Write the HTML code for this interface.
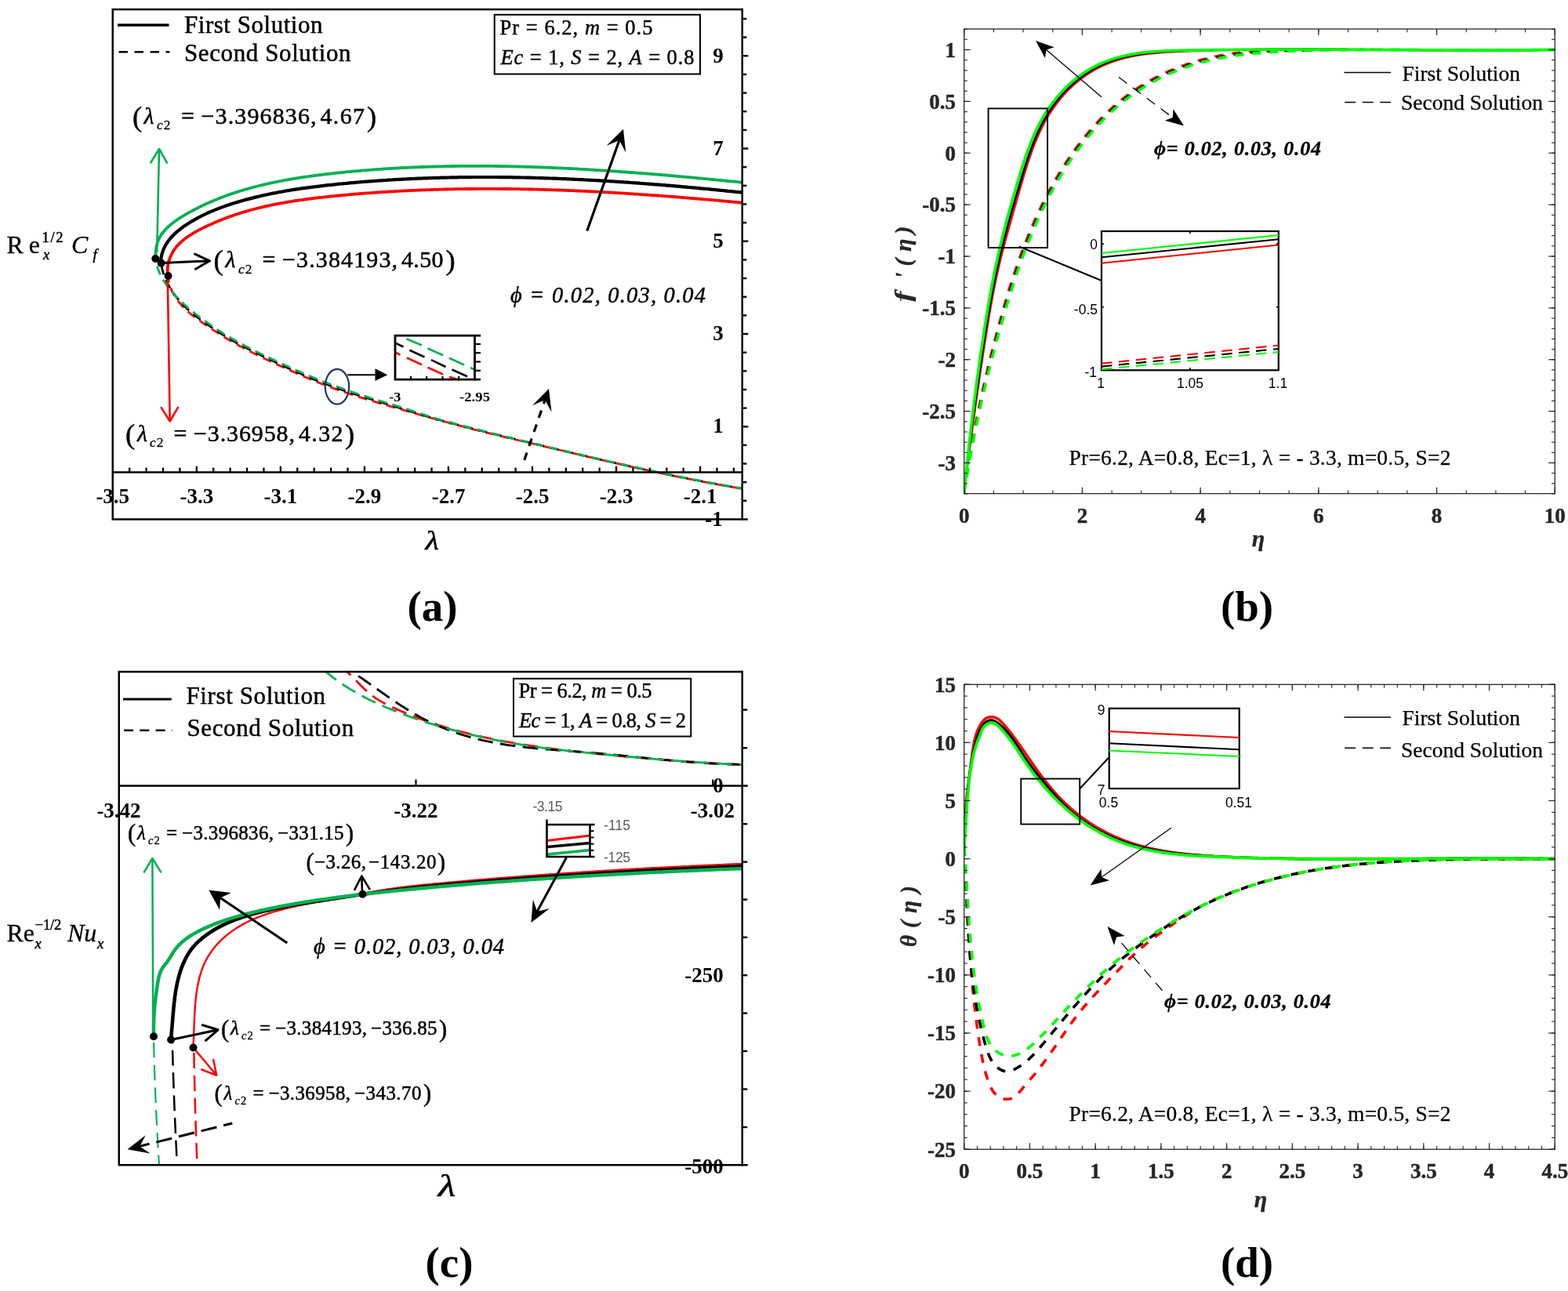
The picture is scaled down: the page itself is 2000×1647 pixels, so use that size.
<!DOCTYPE html>
<html lang="en">
<head>
<meta charset="utf-8">
<title>Dual solutions figure</title>
<style>
html,body{margin:0;padding:0;background:#fff;}
body{width:2000px;height:1647px;overflow:hidden;}
svg{display:block;}
text{white-space:pre;}
</style>
</head>
<body>
<svg width="2000" height="1647" viewBox="0 0 2000 1647">
<rect x="0" y="0" width="2000" height="1647" fill="#ffffff"/>
<!-- panel a -->
<path d="M214.4,352.1 L214.1,350.1 L213.8,348.1 L213.7,346.1 L213.7,344.1 L213.8,342.0 L214.0,340.0 L214.3,338.0 L214.7,336.0 L215.1,334.1 L215.7,332.1 L216.3,330.2 L217.1,328.3 L217.9,326.4 L218.7,324.6 L219.7,322.8 L220.7,321.0 L221.8,319.3 L222.9,317.7 L224.1,316.1 L225.4,314.5 L226.7,313.0 L228.0,311.6 L229.4,310.2 L230.9,308.8 L232.3,307.5 L233.9,306.2 L235.4,305.0 L237.0,303.8 L238.6,302.6 L240.3,301.5 L242.0,300.3 L243.7,299.3 L245.4,298.2 L247.1,297.2 L248.9,296.2 L250.7,295.2 L252.5,294.2 L254.2,293.3 L256.0,292.4 L257.8,291.4 L259.7,290.5 L261.5,289.6 L263.3,288.8 L265.1,287.9 L266.9,287.0 L268.8,286.2 L270.6,285.4 L272.4,284.6 L274.3,283.8 L276.1,283.0 L278.0,282.2 L279.8,281.4 L281.7,280.7 L283.5,279.9 L285.4,279.2 L287.3,278.5 L289.1,277.8 L291.0,277.1 L292.9,276.4 L294.8,275.8 L296.6,275.1 L298.5,274.5 L300.4,273.8 L302.3,273.2 L304.2,272.6 L306.1,272.0 L308.0,271.4 L309.9,270.8 L311.9,270.2 L313.8,269.7 L315.7,269.1 L317.6,268.6 L319.5,268.0 L321.5,267.5 L323.4,267.0 L325.3,266.5 L327.3,266.0 L329.2,265.5 L331.1,265.0 L333.1,264.6 L335.0,264.1 L337.0,263.7 L338.9,263.2 L340.9,262.8 L342.8,262.4 L344.8,261.9 L346.7,261.5 L348.7,261.1 L350.7,260.7 L352.6,260.3 L354.6,260.0 L356.6,259.6 L358.5,259.2 L360.5,258.9 L362.5,258.5 L364.5,258.2 L366.4,257.8 L368.4,257.5 L370.4,257.2 L372.4,256.9 L374.4,256.5 L376.3,256.2 L378.3,255.9 L380.3,255.6 L382.3,255.3 L384.3,255.1 L386.3,254.8 L388.3,254.5 L390.3,254.2 L392.3,254.0 L394.3,253.7 L396.3,253.5 L398.3,253.2 L400.3,253.0 L402.3,252.7 L404.3,252.5 L406.3,252.2 L408.3,252.0 L410.3,251.8 L412.3,251.6 L414.3,251.3 L416.3,251.1 L418.3,250.9 L420.3,250.7 L422.3,250.5 L424.3,250.3 L426.3,250.1 L428.3,249.9 L430.3,249.7 L432.3,249.5 L434.3,249.3 L436.3,249.1 L438.3,248.9 L440.3,248.8 L442.3,248.6 L444.3,248.4 L446.3,248.2 L448.3,248.0 L450.3,247.9 L452.3,247.7 L454.4,247.5 L456.4,247.4 L458.4,247.2 L460.4,247.0 L462.4,246.9 L464.4,246.7 L466.4,246.6 L468.4,246.4 L470.4,246.3 L472.4,246.1 L474.4,246.0 L476.4,245.8 L478.4,245.7 L480.4,245.5 L482.4,245.4 L484.4,245.3 L486.4,245.1 L488.4,245.0 L490.4,244.9 L492.4,244.8 L494.4,244.6 L496.4,244.5 L498.4,244.4 L500.5,244.3 L502.5,244.2 L504.5,244.0 L506.5,243.9 L508.5,243.8 L510.5,243.7 L512.5,243.6 L514.5,243.5 L516.5,243.4 L518.5,243.3 L520.5,243.2 L522.5,243.1 L524.5,243.0 L526.5,242.9 L528.5,242.8 L530.5,242.8 L532.5,242.7 L534.5,242.6 L536.5,242.5 L538.5,242.4 L540.5,242.4 L542.5,242.3 L544.5,242.2 L546.5,242.1 L548.6,242.1 L550.6,242.0 L552.6,241.9 L554.6,241.9 L556.6,241.8 L558.6,241.8 L560.6,241.7 L562.6,241.7 L564.6,241.6 L566.6,241.5 L568.6,241.5 L570.6,241.5 L572.6,241.4 L574.6,241.4 L576.6,241.3 L578.6,241.3 L580.6,241.2 L582.6,241.2 L584.6,241.2 L586.6,241.1 L588.6,241.1 L590.6,241.1 L592.6,241.1 L594.6,241.0 L596.6,241.0 L598.7,241.0 L600.7,241.0 L602.7,241.0 L604.7,240.9 L606.7,240.9 L608.7,240.9 L610.7,240.9 L612.7,240.9 L614.7,240.9 L616.7,240.9 L618.7,240.9 L620.7,240.9 L622.7,240.9 L624.7,240.9 L626.7,240.9 L628.7,240.9 L630.7,240.9 L632.7,240.9 L634.7,240.9 L636.7,240.9 L638.7,240.9 L640.7,240.9 L642.7,241.0 L644.7,241.0 L646.7,241.0 L648.7,241.0 L650.7,241.0 L652.7,241.1 L654.8,241.1 L656.8,241.1 L658.8,241.2 L660.8,241.2 L662.8,241.2 L664.8,241.3 L666.8,241.3 L668.8,241.3 L670.8,241.4 L672.8,241.4 L674.8,241.5 L676.8,241.5 L678.8,241.5 L680.8,241.6 L682.8,241.6 L684.8,241.7 L686.8,241.7 L688.8,241.8 L690.8,241.8 L692.8,241.9 L694.8,242.0 L696.8,242.0 L698.8,242.1 L700.8,242.1 L702.8,242.2 L704.8,242.3 L706.8,242.3 L708.8,242.4 L710.8,242.5 L712.8,242.5 L714.8,242.6 L716.9,242.7 L718.9,242.8 L720.9,242.8 L722.9,242.9 L724.9,243.0 L726.9,243.1 L728.9,243.2 L730.9,243.2 L732.9,243.3 L734.9,243.4 L736.9,243.5 L738.9,243.6 L740.9,243.7 L742.9,243.8 L744.9,243.9 L746.9,243.9 L748.9,244.0 L750.9,244.1 L752.9,244.2 L754.9,244.3 L756.9,244.4 L758.9,244.5 L760.9,244.6 L762.9,244.7 L764.9,244.8 L766.9,244.9 L768.9,245.1 L770.9,245.2 L772.9,245.3 L774.9,245.4 L776.9,245.5 L778.9,245.6 L780.9,245.7 L782.9,245.8 L784.9,246.0 L786.9,246.1 L788.9,246.2 L790.9,246.3 L792.9,246.4 L795.0,246.6 L797.0,246.7 L799.0,246.8 L801.0,246.9 L803.0,247.1 L805.0,247.2 L807.0,247.3 L809.0,247.5 L811.0,247.6 L813.0,247.7 L815.0,247.8 L817.0,248.0 L819.0,248.1 L821.0,248.3 L823.0,248.4 L825.0,248.5 L827.0,248.7 L829.0,248.8 L831.0,249.0 L833.0,249.1 L835.0,249.2 L837.0,249.4 L839.0,249.5 L841.0,249.7 L843.0,249.8 L845.0,250.0 L847.0,250.1 L849.0,250.3 L851.0,250.4 L853.0,250.6 L855.0,250.7 L857.0,250.9 L859.0,251.0 L861.0,251.2 L863.0,251.4 L865.0,251.5 L867.0,251.7 L869.0,251.8 L871.0,252.0 L873.0,252.2 L875.0,252.3 L877.0,252.5 L879.0,252.7 L881.0,252.8 L883.0,253.0 L885.0,253.1 L887.0,253.3 L889.0,253.5 L891.0,253.7 L893.0,253.8 L895.0,254.0 L897.0,254.2 L899.0,254.3 L901.0,254.5 L903.0,254.7 L905.0,254.9 L907.0,255.0 L909.0,255.2 L911.0,255.4 L913.0,255.6 L915.0,255.7 L917.0,255.9 L919.0,256.1 L921.0,256.3 L923.0,256.5 L925.0,256.7 L927.0,256.8 L929.0,257.0 L931.0,257.2 L933.0,257.4 L935.0,257.6 L937.0,257.8 L939.0,257.9 L941.0,258.1 L943.0,258.3 L945.0,258.5 L947.0,258.7" fill="none" stroke="#ff0000" stroke-width="3.8" stroke-linejoin="round"/>
<path d="M205.0,335.6 L205.1,333.4 L205.3,331.3 L205.5,329.2 L205.9,327.2 L206.3,325.2 L206.8,323.2 L207.4,321.3 L208.1,319.5 L208.8,317.6 L209.6,315.9 L210.5,314.1 L211.4,312.4 L212.4,310.8 L213.5,309.1 L214.6,307.5 L215.8,306.0 L217.0,304.5 L218.3,303.0 L219.6,301.5 L221.0,300.1 L222.4,298.7 L223.8,297.4 L225.3,296.0 L226.8,294.7 L228.4,293.5 L229.9,292.2 L231.6,291.0 L233.2,289.8 L234.8,288.6 L236.5,287.5 L238.2,286.4 L239.9,285.3 L241.6,284.2 L243.3,283.1 L245.0,282.1 L246.8,281.1 L248.5,280.1 L250.3,279.1 L252.1,278.1 L253.9,277.2 L255.6,276.2 L257.4,275.3 L259.2,274.4 L261.1,273.6 L262.9,272.7 L264.7,271.8 L266.6,271.0 L268.4,270.2 L270.3,269.4 L272.1,268.6 L274.0,267.9 L275.8,267.1 L277.7,266.4 L279.6,265.7 L281.5,264.9 L283.4,264.3 L285.3,263.6 L287.2,262.9 L289.1,262.2 L291.0,261.6 L292.9,261.0 L294.8,260.3 L296.8,259.7 L298.7,259.1 L300.6,258.5 L302.5,257.9 L304.5,257.4 L306.4,256.8 L308.3,256.2 L310.3,255.7 L312.2,255.1 L314.1,254.6 L316.1,254.1 L318.0,253.6 L320.0,253.1 L321.9,252.6 L323.9,252.1 L325.8,251.6 L327.8,251.1 L329.7,250.7 L331.7,250.2 L333.6,249.8 L335.6,249.3 L337.5,248.9 L339.5,248.5 L341.5,248.0 L343.4,247.6 L345.4,247.2 L347.4,246.8 L349.3,246.4 L351.3,246.1 L353.3,245.7 L355.2,245.3 L357.2,244.9 L359.2,244.6 L361.1,244.2 L363.1,243.9 L365.1,243.5 L367.1,243.2 L369.0,242.9 L371.0,242.5 L373.0,242.2 L375.0,241.9 L376.9,241.6 L378.9,241.3 L380.9,241.0 L382.9,240.7 L384.9,240.4 L386.9,240.1 L388.8,239.9 L390.8,239.6 L392.8,239.3 L394.8,239.1 L396.8,238.8 L398.8,238.5 L400.8,238.3 L402.8,238.1 L404.7,237.8 L406.7,237.6 L408.7,237.3 L410.7,237.1 L412.7,236.9 L414.7,236.6 L416.7,236.4 L418.7,236.2 L420.7,236.0 L422.7,235.8 L424.7,235.6 L426.7,235.4 L428.7,235.1 L430.7,234.9 L432.6,234.7 L434.6,234.5 L436.6,234.4 L438.6,234.2 L440.6,234.0 L442.6,233.8 L444.6,233.6 L446.6,233.4 L448.6,233.2 L450.6,233.1 L452.6,232.9 L454.6,232.7 L456.6,232.5 L458.6,232.4 L460.6,232.2 L462.6,232.0 L464.6,231.9 L466.6,231.7 L468.6,231.6 L470.6,231.4 L472.6,231.3 L474.6,231.1 L476.6,231.0 L478.6,230.8 L480.6,230.7 L482.6,230.5 L484.6,230.4 L486.6,230.3 L488.6,230.1 L490.6,230.0 L492.6,229.9 L494.6,229.7 L496.6,229.6 L498.6,229.5 L500.6,229.4 L502.6,229.2 L504.6,229.1 L506.6,229.0 L508.6,228.9 L510.6,228.8 L512.6,228.7 L514.6,228.6 L516.6,228.5 L518.6,228.4 L520.6,228.3 L522.6,228.2 L524.6,228.1 L526.6,228.0 L528.6,227.9 L530.6,227.8 L532.6,227.7 L534.6,227.7 L536.6,227.6 L538.6,227.5 L540.6,227.4 L542.6,227.3 L544.6,227.3 L546.6,227.2 L548.6,227.1 L550.6,227.1 L552.6,227.0 L554.6,226.9 L556.6,226.9 L558.6,226.8 L560.6,226.8 L562.6,226.7 L564.6,226.7 L566.7,226.6 L568.7,226.6 L570.7,226.5 L572.7,226.5 L574.7,226.4 L576.7,226.4 L578.7,226.3 L580.7,226.3 L582.7,226.3 L584.7,226.2 L586.7,226.2 L588.7,226.2 L590.7,226.2 L592.7,226.1 L594.7,226.1 L596.7,226.1 L598.7,226.1 L600.7,226.1 L602.7,226.0 L604.7,226.0 L606.7,226.0 L608.8,226.0 L610.8,226.0 L612.8,226.0 L614.8,226.0 L616.8,226.0 L618.8,226.0 L620.8,226.0 L622.8,226.0 L624.8,226.0 L626.8,226.0 L628.8,226.0 L630.8,226.0 L632.8,226.0 L634.8,226.0 L636.8,226.1 L638.8,226.1 L640.8,226.1 L642.8,226.1 L644.9,226.1 L646.9,226.2 L648.9,226.2 L650.9,226.2 L652.9,226.2 L654.9,226.3 L656.9,226.3 L658.9,226.3 L660.9,226.4 L662.9,226.4 L664.9,226.5 L666.9,226.5 L668.9,226.5 L670.9,226.6 L672.9,226.6 L674.9,226.7 L676.9,226.7 L679.0,226.8 L681.0,226.8 L683.0,226.9 L685.0,227.0 L687.0,227.0 L689.0,227.1 L691.0,227.1 L693.0,227.2 L695.0,227.3 L697.0,227.3 L699.0,227.4 L701.0,227.5 L703.0,227.5 L705.0,227.6 L707.0,227.7 L709.0,227.7 L711.0,227.8 L713.1,227.9 L715.1,228.0 L717.1,228.1 L719.1,228.1 L721.1,228.2 L723.1,228.3 L725.1,228.4 L727.1,228.5 L729.1,228.6 L731.1,228.7 L733.1,228.8 L735.1,228.9 L737.1,229.0 L739.1,229.1 L741.1,229.1 L743.1,229.2 L745.1,229.4 L747.1,229.5 L749.1,229.6 L751.1,229.7 L753.1,229.8 L755.2,229.9 L757.2,230.0 L759.2,230.1 L761.2,230.2 L763.2,230.3 L765.2,230.4 L767.2,230.6 L769.2,230.7 L771.2,230.8 L773.2,230.9 L775.2,231.0 L777.2,231.2 L779.2,231.3 L781.2,231.4 L783.2,231.5 L785.2,231.7 L787.2,231.8 L789.2,231.9 L791.2,232.1 L793.2,232.2 L795.2,232.3 L797.2,232.5 L799.2,232.6 L801.2,232.7 L803.2,232.9 L805.2,233.0 L807.2,233.2 L809.2,233.3 L811.2,233.4 L813.2,233.6 L815.2,233.7 L817.2,233.9 L819.2,234.0 L821.2,234.2 L823.2,234.3 L825.2,234.5 L827.2,234.6 L829.2,234.8 L831.2,234.9 L833.2,235.1 L835.2,235.3 L837.2,235.4 L839.2,235.6 L841.2,235.7 L843.2,235.9 L845.2,236.1 L847.2,236.2 L849.2,236.4 L851.2,236.6 L853.2,236.7 L855.2,236.9 L857.2,237.1 L859.2,237.2 L861.2,237.4 L863.2,237.6 L865.2,237.7 L867.2,237.9 L869.2,238.1 L871.2,238.3 L873.2,238.4 L875.2,238.6 L877.2,238.8 L879.2,239.0 L881.2,239.2 L883.2,239.3 L885.2,239.5 L887.2,239.7 L889.2,239.9 L891.2,240.1 L893.2,240.3 L895.2,240.5 L897.1,240.6 L899.1,240.8 L901.1,241.0 L903.1,241.2 L905.1,241.4 L907.1,241.6 L909.1,241.8 L911.1,242.0 L913.1,242.2 L915.1,242.4 L917.1,242.6 L919.1,242.8 L921.1,243.0 L923.1,243.2 L925.0,243.4 L927.0,243.6 L929.0,243.8 L931.0,244.0 L933.0,244.2 L935.0,244.4 L937.0,244.6 L939.0,244.8 L941.0,245.0 L943.0,245.2 L944.9,245.4 L946.9,245.6" fill="none" stroke="#000" stroke-width="4.2" stroke-linejoin="round"/>
<path d="M198.7,329.5 L198.6,327.5 L198.5,325.5 L198.5,323.4 L198.6,321.4 L198.8,319.4 L199.0,317.4 L199.4,315.4 L199.8,313.4 L200.3,311.5 L200.8,309.6 L201.5,307.7 L202.2,305.8 L203.1,304.0 L204.0,302.3 L205.0,300.6 L206.1,298.9 L207.2,297.3 L208.5,295.7 L209.8,294.2 L211.1,292.7 L212.6,291.3 L214.0,289.8 L215.5,288.5 L217.1,287.1 L218.6,285.9 L220.2,284.6 L221.8,283.3 L223.5,282.1 L225.1,281.0 L226.8,279.8 L228.5,278.7 L230.2,277.6 L231.9,276.5 L233.6,275.4 L235.4,274.4 L237.1,273.3 L238.9,272.3 L240.6,271.3 L242.4,270.4 L244.2,269.4 L246.0,268.5 L247.8,267.5 L249.6,266.6 L251.4,265.7 L253.2,264.8 L255.0,263.9 L256.8,263.0 L258.6,262.1 L260.4,261.3 L262.2,260.4 L264.1,259.6 L265.9,258.8 L267.7,258.0 L269.6,257.2 L271.4,256.4 L273.3,255.6 L275.1,254.9 L277.0,254.1 L278.8,253.4 L280.7,252.6 L282.6,251.9 L284.4,251.2 L286.3,250.5 L288.2,249.8 L290.1,249.1 L291.9,248.5 L293.8,247.8 L295.7,247.1 L297.6,246.5 L299.5,245.9 L301.4,245.3 L303.3,244.6 L305.2,244.0 L307.1,243.5 L309.1,242.9 L311.0,242.3 L312.9,241.7 L314.8,241.2 L316.7,240.6 L318.7,240.1 L320.6,239.6 L322.5,239.0 L324.5,238.5 L326.4,238.0 L328.3,237.5 L330.3,237.0 L332.2,236.6 L334.2,236.1 L336.1,235.6 L338.1,235.2 L340.0,234.7 L342.0,234.3 L343.9,233.8 L345.9,233.4 L347.9,233.0 L349.8,232.6 L351.8,232.2 L353.8,231.8 L355.7,231.4 L357.7,231.0 L359.7,230.6 L361.7,230.2 L363.6,229.9 L365.6,229.5 L367.6,229.2 L369.6,228.8 L371.6,228.5 L373.5,228.1 L375.5,227.8 L377.5,227.5 L379.5,227.2 L381.5,226.9 L383.5,226.5 L385.5,226.2 L387.5,225.9 L389.5,225.6 L391.5,225.4 L393.5,225.1 L395.5,224.8 L397.5,224.5 L399.5,224.3 L401.5,224.0 L403.5,223.7 L405.5,223.5 L407.5,223.2 L409.5,223.0 L411.5,222.7 L413.5,222.5 L415.5,222.2 L417.5,222.0 L419.5,221.8 L421.5,221.6 L423.5,221.3 L425.5,221.1 L427.5,220.9 L429.5,220.7 L431.5,220.5 L433.5,220.3 L435.5,220.0 L437.5,219.8 L439.5,219.6 L441.5,219.4 L443.6,219.2 L445.6,219.1 L447.6,218.9 L449.6,218.7 L451.6,218.5 L453.6,218.3 L455.6,218.1 L457.6,218.0 L459.6,217.8 L461.6,217.6 L463.6,217.4 L465.6,217.3 L467.6,217.1 L469.6,217.0 L471.6,216.8 L473.7,216.7 L475.7,216.5 L477.7,216.3 L479.7,216.2 L481.7,216.1 L483.7,215.9 L485.7,215.8 L487.7,215.6 L489.7,215.5 L491.7,215.4 L493.7,215.2 L495.7,215.1 L497.7,215.0 L499.7,214.9 L501.7,214.8 L503.8,214.6 L505.8,214.5 L507.8,214.4 L509.8,214.3 L511.8,214.2 L513.8,214.1 L515.8,214.0 L517.8,213.9 L519.8,213.8 L521.8,213.7 L523.8,213.6 L525.8,213.5 L527.8,213.4 L529.9,213.4 L531.9,213.3 L533.9,213.2 L535.9,213.1 L537.9,213.0 L539.9,213.0 L541.9,212.9 L543.9,212.8 L545.9,212.8 L547.9,212.7 L549.9,212.6 L551.9,212.6 L553.9,212.5 L556.0,212.5 L558.0,212.4 L560.0,212.4 L562.0,212.3 L564.0,212.3 L566.0,212.2 L568.0,212.2 L570.0,212.1 L572.0,212.1 L574.0,212.1 L576.0,212.0 L578.0,212.0 L580.0,212.0 L582.1,212.0 L584.1,211.9 L586.1,211.9 L588.1,211.9 L590.1,211.9 L592.1,211.9 L594.1,211.8 L596.1,211.8 L598.1,211.8 L600.1,211.8 L602.1,211.8 L604.1,211.8 L606.1,211.8 L608.2,211.8 L610.2,211.8 L612.2,211.8 L614.2,211.8 L616.2,211.8 L618.2,211.8 L620.2,211.8 L622.2,211.9 L624.2,211.9 L626.2,211.9 L628.2,211.9 L630.2,211.9 L632.2,212.0 L634.3,212.0 L636.3,212.0 L638.3,212.0 L640.3,212.1 L642.3,212.1 L644.3,212.1 L646.3,212.2 L648.3,212.2 L650.3,212.3 L652.3,212.3 L654.3,212.3 L656.3,212.4 L658.3,212.4 L660.4,212.5 L662.4,212.5 L664.4,212.6 L666.4,212.6 L668.4,212.7 L670.4,212.8 L672.4,212.8 L674.4,212.9 L676.4,212.9 L678.4,213.0 L680.4,213.1 L682.4,213.1 L684.4,213.2 L686.5,213.3 L688.5,213.3 L690.5,213.4 L692.5,213.5 L694.5,213.6 L696.5,213.7 L698.5,213.7 L700.5,213.8 L702.5,213.9 L704.5,214.0 L706.5,214.1 L708.5,214.2 L710.5,214.3 L712.5,214.3 L714.6,214.4 L716.6,214.5 L718.6,214.6 L720.6,214.7 L722.6,214.8 L724.6,214.9 L726.6,215.0 L728.6,215.1 L730.6,215.2 L732.6,215.3 L734.6,215.4 L736.6,215.5 L738.6,215.7 L740.6,215.8 L742.6,215.9 L744.7,216.0 L746.7,216.1 L748.7,216.2 L750.7,216.3 L752.7,216.5 L754.7,216.6 L756.7,216.7 L758.7,216.8 L760.7,217.0 L762.7,217.1 L764.7,217.2 L766.7,217.3 L768.7,217.5 L770.7,217.6 L772.7,217.7 L774.7,217.9 L776.8,218.0 L778.8,218.1 L780.8,218.3 L782.8,218.4 L784.8,218.5 L786.8,218.7 L788.8,218.8 L790.8,219.0 L792.8,219.1 L794.8,219.3 L796.8,219.4 L798.8,219.5 L800.8,219.7 L802.8,219.8 L804.8,220.0 L806.8,220.1 L808.8,220.3 L810.8,220.4 L812.9,220.6 L814.9,220.8 L816.9,220.9 L818.9,221.1 L820.9,221.2 L822.9,221.4 L824.9,221.5 L826.9,221.7 L828.9,221.9 L830.9,222.0 L832.9,222.2 L834.9,222.4 L836.9,222.5 L838.9,222.7 L840.9,222.9 L842.9,223.0 L844.9,223.2 L846.9,223.4 L848.9,223.5 L850.9,223.7 L852.9,223.9 L854.9,224.1 L856.9,224.2 L858.9,224.4 L861.0,224.6 L863.0,224.8 L865.0,224.9 L867.0,225.1 L869.0,225.3 L871.0,225.5 L873.0,225.6 L875.0,225.8 L877.0,226.0 L879.0,226.2 L881.0,226.4 L883.0,226.6 L885.0,226.7 L887.0,226.9 L889.0,227.1 L891.0,227.3 L893.0,227.5 L895.0,227.7 L897.0,227.9 L899.0,228.1 L901.0,228.2 L903.0,228.4 L905.0,228.6 L907.0,228.8 L909.0,229.0 L911.0,229.2 L913.0,229.4 L915.0,229.6 L917.0,229.8 L919.0,230.0 L921.0,230.2 L923.0,230.4 L925.0,230.6 L927.0,230.8 L929.0,231.0 L931.0,231.1 L933.0,231.3 L935.0,231.5 L937.0,231.7 L939.0,231.9 L941.0,232.1 L943.0,232.3 L945.0,232.5 L947.0,232.7" fill="none" stroke="#00b050" stroke-width="3.8" stroke-linejoin="round"/>
<path d="M214.5,352.9 L214.7,355.0 L215.0,357.0 L215.4,359.0 L215.8,361.0 L216.3,363.0 L216.9,364.9 L217.5,366.8 L218.3,368.7 L219.0,370.5 L219.9,372.3 L220.8,374.1 L221.7,375.9 L222.7,377.6 L223.8,379.3 L224.8,380.9 L226.0,382.6 L227.2,384.2 L228.4,385.7 L229.7,387.2 L231.0,388.7 L232.3,390.2 L233.7,391.7 L235.1,393.1 L236.5,394.5 L238.0,395.8 L239.5,397.2 L241.0,398.5 L242.5,399.8 L244.1,401.1 L245.7,402.3 L247.2,403.6 L248.9,404.8 L250.5,406.0 L252.1,407.2 L253.8,408.4 L255.4,409.6 L257.1,410.8 L258.7,411.9 L260.4,413.1 L262.1,414.2 L263.8,415.4 L265.4,416.5 L267.1,417.6 L268.8,418.8 L270.4,419.9 L272.1,421.0 L273.8,422.1 L275.5,423.2 L277.1,424.3 L278.8,425.4 L280.5,426.5 L282.2,427.5 L283.9,428.6 L285.6,429.7 L287.3,430.7 L289.0,431.7 L290.7,432.8 L292.4,433.8 L294.1,434.8 L295.9,435.8 L297.6,436.8 L299.3,437.8 L301.1,438.8 L302.8,439.7 L304.6,440.7 L306.3,441.7 L308.1,442.6 L309.9,443.6 L311.6,444.5 L313.4,445.4 L315.2,446.4 L317.0,447.3 L318.7,448.2 L320.5,449.1 L322.3,450.0 L324.1,450.9 L325.9,451.8 L327.7,452.7 L329.5,453.6 L331.3,454.5 L333.1,455.3 L334.9,456.2 L336.7,457.1 L338.5,458.0 L340.3,458.8 L342.2,459.7 L344.0,460.5 L345.8,461.4 L347.6,462.2 L349.4,463.1 L351.3,463.9 L353.1,464.8 L354.9,465.6 L356.7,466.4 L358.6,467.3 L360.4,468.1 L362.2,469.0 L364.1,469.8 L365.9,470.6 L367.7,471.4 L369.6,472.3 L371.4,473.1 L373.2,473.9 L375.1,474.7 L376.9,475.5 L378.7,476.4 L380.6,477.2 L382.4,478.0 L384.2,478.8 L386.1,479.6 L387.9,480.4 L389.8,481.2 L391.6,481.9 L393.5,482.7 L395.3,483.5 L397.2,484.3 L399.0,485.0 L400.9,485.8 L402.7,486.6 L404.6,487.3 L406.4,488.1 L408.3,488.8 L410.2,489.6 L412.0,490.3 L413.9,491.0 L415.8,491.7 L417.6,492.5 L419.5,493.2 L421.4,493.9 L423.3,494.6 L425.2,495.3 L427.0,495.9 L428.9,496.6 L430.8,497.3 L432.7,498.0 L434.6,498.6 L436.5,499.3 L438.4,499.9 L440.3,500.6 L442.2,501.2 L444.1,501.8 L446.0,502.5 L447.9,503.1 L449.8,503.7 L451.7,504.4 L453.6,505.0 L455.5,505.6 L457.4,506.2 L459.4,506.8 L461.3,507.4 L463.2,508.0 L465.1,508.6 L467.0,509.2 L468.9,509.8 L470.9,510.3 L472.8,510.9 L474.7,511.5 L476.6,512.1 L478.6,512.6 L480.5,513.2 L482.4,513.8 L484.3,514.4 L486.3,514.9 L488.2,515.5 L490.1,516.0 L492.0,516.6 L494.0,517.2 L495.9,517.7 L497.8,518.3 L499.8,518.8 L501.7,519.4 L503.6,519.9 L505.5,520.5 L507.5,521.1 L509.4,521.6 L511.3,522.2 L513.3,522.7 L515.2,523.3 L517.1,523.8 L519.0,524.4 L521.0,524.9 L522.9,525.5 L524.8,526.0 L526.8,526.6 L528.7,527.1 L530.6,527.7 L532.5,528.2 L534.5,528.8 L536.4,529.3 L538.3,529.9 L540.3,530.4 L542.2,531.0 L544.1,531.5 L546.1,532.1 L548.0,532.6 L549.9,533.2 L551.8,533.7 L553.8,534.2 L555.7,534.8 L557.6,535.3 L559.6,535.9 L561.5,536.4 L563.4,536.9 L565.4,537.5 L567.3,538.0 L569.2,538.5 L571.2,539.0 L573.1,539.6 L575.0,540.1 L577.0,540.6 L578.9,541.1 L580.8,541.7 L582.8,542.2 L584.7,542.7 L586.7,543.2 L588.6,543.7 L590.5,544.2 L592.5,544.8 L594.4,545.3 L596.3,545.8 L598.3,546.3 L600.2,546.8 L602.2,547.3 L604.1,547.8 L606.1,548.3 L608.0,548.7 L610.0,549.2 L611.9,549.7 L613.8,550.2 L615.8,550.7 L617.7,551.2 L619.7,551.7 L621.6,552.1 L623.6,552.6 L625.5,553.1 L627.5,553.6 L629.4,554.0 L631.4,554.5 L633.3,555.0 L635.3,555.5 L637.2,555.9 L639.2,556.4 L641.1,556.9 L643.1,557.3 L645.0,557.8 L647.0,558.3 L648.9,558.7 L650.9,559.2 L652.8,559.7 L654.8,560.1 L656.8,560.6 L658.7,561.0 L660.7,561.5 L662.6,562.0 L664.6,562.4 L666.5,562.9 L668.5,563.3 L670.4,563.8 L672.4,564.3 L674.3,564.7 L676.3,565.2 L678.2,565.7 L680.2,566.1 L682.2,566.6 L684.1,567.0 L686.1,567.5 L688.0,568.0 L690.0,568.4 L691.9,568.9 L693.9,569.4 L695.8,569.8 L697.8,570.3 L699.7,570.7 L701.7,571.2 L703.6,571.7 L705.6,572.1 L707.5,572.6 L709.5,573.1 L711.4,573.5 L713.4,574.0 L715.3,574.5 L717.3,574.9 L719.3,575.4 L721.2,575.8 L723.2,576.3 L725.1,576.8 L727.1,577.2 L729.0,577.7 L731.0,578.2 L732.9,578.6 L734.9,579.1 L736.8,579.5 L738.8,580.0 L740.7,580.5 L742.7,580.9 L744.6,581.4 L746.6,581.8 L748.6,582.3 L750.5,582.8 L752.5,583.2 L754.4,583.7 L756.4,584.1 L758.3,584.6 L760.3,585.1 L762.2,585.5 L764.2,586.0 L766.1,586.4 L768.1,586.9 L770.0,587.3 L772.0,587.8 L774.0,588.2 L775.9,588.7 L777.9,589.1 L779.8,589.6 L781.8,590.0 L783.7,590.5 L785.7,590.9 L787.6,591.4 L789.6,591.8 L791.6,592.3 L793.5,592.7 L795.5,593.2 L797.4,593.6 L799.4,594.1 L801.3,594.5 L803.3,594.9 L805.2,595.4 L807.2,595.8 L809.2,596.3 L811.1,596.7 L813.1,597.1 L815.0,597.6 L817.0,598.0 L819.0,598.4 L820.9,598.9 L822.9,599.3 L824.8,599.7 L826.8,600.1 L828.8,600.6 L830.7,601.0 L832.7,601.4 L834.6,601.9 L836.6,602.3 L838.6,602.7 L840.5,603.1 L842.5,603.5 L844.4,604.0 L846.4,604.4 L848.4,604.8 L850.3,605.2 L852.3,605.6 L854.3,606.0 L856.2,606.4 L858.2,606.8 L860.1,607.3 L862.1,607.7 L864.1,608.1 L866.0,608.5 L868.0,608.9 L870.0,609.3 L871.9,609.7 L873.9,610.1 L875.9,610.5 L877.8,610.8 L879.8,611.2 L881.8,611.6 L883.7,612.0 L885.7,612.4 L887.7,612.8 L889.6,613.2 L891.6,613.6 L893.6,613.9 L895.6,614.3 L897.5,614.7 L899.5,615.1 L901.5,615.4 L903.4,615.8 L905.4,616.2 L907.4,616.5 L909.4,616.9 L911.3,617.3 L913.3,617.6 L915.3,618.0 L917.3,618.4 L919.2,618.7 L921.2,619.1 L923.2,619.4 L925.2,619.8 L927.1,620.1 L929.1,620.5 L931.1,620.8 L933.1,621.1 L935.1,621.5 L937.0,621.8 L939.0,622.2 L941.0,622.5 L943.0,622.8 L945.0,623.2 L946.9,623.5" fill="none" stroke="#ff0000" stroke-width="2.8" stroke-linejoin="round" stroke-dasharray="11.5 7.3" stroke-dashoffset="4"/>
<path d="M205.4,335.5 L205.7,337.5 L206.1,339.5 L206.5,341.4 L206.9,343.4 L207.5,345.3 L208.0,347.3 L208.6,349.2 L209.3,351.1 L210.0,353.0 L210.7,354.8 L211.5,356.7 L212.3,358.5 L213.2,360.3 L214.1,362.1 L215.0,363.9 L216.0,365.7 L217.0,367.4 L218.1,369.1 L219.1,370.8 L220.2,372.5 L221.4,374.1 L222.5,375.8 L223.7,377.4 L224.9,379.0 L226.2,380.5 L227.5,382.1 L228.7,383.6 L230.1,385.1 L231.4,386.6 L232.8,388.0 L234.2,389.5 L235.6,390.9 L237.0,392.3 L238.5,393.7 L240.0,395.1 L241.4,396.4 L243.0,397.7 L244.5,399.0 L246.0,400.3 L247.6,401.6 L249.2,402.8 L250.8,404.1 L252.4,405.3 L254.0,406.5 L255.6,407.7 L257.2,408.8 L258.9,410.0 L260.5,411.2 L262.2,412.3 L263.8,413.5 L265.5,414.6 L267.1,415.7 L268.8,416.9 L270.5,418.0 L272.1,419.1 L273.8,420.2 L275.5,421.3 L277.2,422.4 L278.9,423.5 L280.5,424.6 L282.2,425.7 L283.9,426.8 L285.6,427.8 L287.3,428.9 L289.1,429.9 L290.8,431.0 L292.5,432.0 L294.2,433.0 L296.0,434.0 L297.7,435.0 L299.4,436.0 L301.2,437.0 L302.9,437.9 L304.7,438.9 L306.5,439.8 L308.2,440.8 L310.0,441.7 L311.8,442.6 L313.6,443.6 L315.4,444.5 L317.2,445.4 L318.9,446.3 L320.7,447.2 L322.5,448.1 L324.3,448.9 L326.1,449.8 L327.9,450.7 L329.7,451.6 L331.5,452.5 L333.3,453.4 L335.2,454.2 L337.0,455.1 L338.8,456.0 L340.6,456.9 L342.4,457.7 L344.2,458.6 L346.0,459.5 L347.8,460.3 L349.6,461.2 L351.4,462.1 L353.3,462.9 L355.1,463.8 L356.9,464.6 L358.7,465.5 L360.5,466.3 L362.4,467.2 L364.2,468.0 L366.0,468.9 L367.8,469.7 L369.7,470.5 L371.5,471.4 L373.3,472.2 L375.2,473.0 L377.0,473.9 L378.8,474.7 L380.7,475.5 L382.5,476.3 L384.3,477.1 L386.2,477.9 L388.0,478.7 L389.9,479.5 L391.7,480.3 L393.6,481.1 L395.4,481.8 L397.3,482.6 L399.1,483.4 L401.0,484.1 L402.9,484.9 L404.7,485.6 L406.6,486.4 L408.4,487.1 L410.3,487.9 L412.2,488.6 L414.1,489.3 L415.9,490.0 L417.8,490.8 L419.7,491.5 L421.6,492.2 L423.4,492.8 L425.3,493.5 L427.2,494.2 L429.1,494.9 L431.0,495.6 L432.9,496.2 L434.8,496.9 L436.7,497.5 L438.6,498.2 L440.5,498.8 L442.4,499.5 L444.3,500.1 L446.2,500.7 L448.1,501.4 L450.0,502.0 L451.9,502.6 L453.8,503.2 L455.7,503.8 L457.7,504.4 L459.6,505.0 L461.5,505.6 L463.4,506.2 L465.3,506.8 L467.2,507.4 L469.2,508.0 L471.1,508.6 L473.0,509.2 L474.9,509.8 L476.8,510.4 L478.8,511.0 L480.7,511.6 L482.6,512.1 L484.5,512.7 L486.4,513.3 L488.4,513.9 L490.3,514.5 L492.2,515.1 L494.1,515.6 L496.0,516.2 L498.0,516.8 L499.9,517.4 L501.8,518.0 L503.7,518.6 L505.6,519.2 L507.6,519.7 L509.5,520.3 L511.4,520.9 L513.3,521.5 L515.2,522.1 L517.2,522.7 L519.1,523.3 L521.0,523.9 L522.9,524.5 L524.8,525.1 L526.7,525.7 L528.6,526.3 L530.6,526.9 L532.5,527.5 L534.4,528.1 L536.3,528.7 L538.2,529.2 L540.2,529.8 L542.1,530.4 L544.0,531.0 L545.9,531.6 L547.8,532.1 L549.8,532.7 L551.7,533.3 L553.6,533.8 L555.6,534.4 L557.5,534.9 L559.4,535.5 L561.3,536.0 L563.3,536.5 L565.2,537.1 L567.2,537.6 L569.1,538.1 L571.0,538.6 L573.0,539.2 L574.9,539.7 L576.9,540.2 L578.8,540.7 L580.7,541.2 L582.7,541.7 L584.6,542.2 L586.6,542.7 L588.5,543.2 L590.5,543.7 L592.4,544.2 L594.4,544.7 L596.3,545.2 L598.2,545.7 L600.2,546.2 L602.1,546.7 L604.1,547.2 L606.0,547.7 L608.0,548.1 L609.9,548.6 L611.9,549.1 L613.8,549.6 L615.8,550.1 L617.7,550.6 L619.7,551.1 L621.6,551.5 L623.6,552.0 L625.5,552.5 L627.5,553.0 L629.4,553.5 L631.4,553.9 L633.3,554.4 L635.3,554.9 L637.2,555.4 L639.2,555.9 L641.1,556.3 L643.1,556.8 L645.0,557.3 L647.0,557.8 L648.9,558.2 L650.9,558.7 L652.8,559.2 L654.8,559.7 L656.7,560.2 L658.7,560.6 L660.6,561.1 L662.6,561.6 L664.5,562.0 L666.5,562.5 L668.4,563.0 L670.4,563.5 L672.3,563.9 L674.3,564.4 L676.2,564.9 L678.2,565.4 L680.1,565.8 L682.1,566.3 L684.0,566.8 L686.0,567.2 L687.9,567.7 L689.9,568.2 L691.8,568.7 L693.8,569.1 L695.7,569.6 L697.7,570.1 L699.6,570.5 L701.6,571.0 L703.5,571.5 L705.5,572.0 L707.4,572.4 L709.4,572.9 L711.4,573.4 L713.3,573.8 L715.3,574.3 L717.2,574.8 L719.2,575.2 L721.1,575.7 L723.1,576.2 L725.0,576.6 L727.0,577.1 L728.9,577.6 L730.9,578.0 L732.8,578.5 L734.8,579.0 L736.7,579.4 L738.7,579.9 L740.7,580.3 L742.6,580.8 L744.6,581.3 L746.5,581.7 L748.5,582.2 L750.4,582.6 L752.4,583.1 L754.3,583.6 L756.3,584.0 L758.2,584.5 L760.2,584.9 L762.2,585.4 L764.1,585.8 L766.1,586.3 L768.0,586.7 L770.0,587.2 L771.9,587.6 L773.9,588.1 L775.9,588.5 L777.8,589.0 L779.8,589.4 L781.7,589.9 L783.7,590.3 L785.6,590.8 L787.6,591.2 L789.6,591.7 L791.5,592.1 L793.5,592.6 L795.4,593.0 L797.4,593.4 L799.3,593.9 L801.3,594.3 L803.3,594.8 L805.2,595.2 L807.2,595.6 L809.1,596.1 L811.1,596.5 L813.1,596.9 L815.0,597.4 L817.0,597.8 L818.9,598.2 L820.9,598.7 L822.9,599.1 L824.8,599.5 L826.8,599.9 L828.8,600.4 L830.7,600.8 L832.7,601.2 L834.6,601.6 L836.6,602.0 L838.6,602.5 L840.5,602.9 L842.5,603.3 L844.5,603.7 L846.4,604.1 L848.4,604.5 L850.4,605.0 L852.3,605.4 L854.3,605.8 L856.3,606.2 L858.2,606.6 L860.2,607.0 L862.2,607.4 L864.1,607.8 L866.1,608.2 L868.1,608.6 L870.0,609.0 L872.0,609.4 L874.0,609.8 L875.9,610.2 L877.9,610.6 L879.9,611.0 L881.8,611.4 L883.8,611.7 L885.8,612.1 L887.7,612.5 L889.7,612.9 L891.7,613.3 L893.7,613.7 L895.6,614.0 L897.6,614.4 L899.6,614.8 L901.5,615.2 L903.5,615.5 L905.5,615.9 L907.5,616.3 L909.4,616.7 L911.4,617.0 L913.4,617.4 L915.4,617.8 L917.3,618.1 L919.3,618.5 L921.3,618.8 L923.3,619.2 L925.2,619.5 L927.2,619.9 L929.2,620.2 L931.2,620.6 L933.1,620.9 L935.1,621.3 L937.1,621.6 L939.1,622.0 L941.1,622.3 L943.0,622.7 L945.0,623.0 L947.0,623.3" fill="none" stroke="#000" stroke-width="2.8" stroke-linejoin="round" stroke-dasharray="11.5 7.3" stroke-dashoffset="15"/>
<path d="M198.5,330.0 L198.7,332.1 L199.1,334.1 L199.5,336.1 L200.0,338.0 L200.5,340.0 L201.1,341.9 L201.8,343.8 L202.5,345.6 L203.3,347.5 L204.1,349.3 L205.0,351.1 L205.9,352.8 L206.8,354.6 L207.8,356.3 L208.8,358.0 L209.9,359.7 L210.9,361.3 L212.1,363.0 L213.2,364.6 L214.4,366.2 L215.6,367.8 L216.8,369.4 L218.1,370.9 L219.4,372.4 L220.7,374.0 L222.0,375.5 L223.3,376.9 L224.7,378.4 L226.1,379.9 L227.5,381.3 L229.0,382.7 L230.4,384.1 L231.9,385.5 L233.4,386.9 L234.9,388.3 L236.4,389.6 L237.9,391.0 L239.4,392.3 L241.0,393.6 L242.5,394.9 L244.1,396.2 L245.6,397.5 L247.2,398.7 L248.8,400.0 L250.4,401.3 L252.0,402.5 L253.6,403.7 L255.2,405.0 L256.8,406.2 L258.4,407.4 L260.0,408.6 L261.6,409.7 L263.3,410.9 L264.9,412.1 L266.5,413.2 L268.2,414.4 L269.8,415.5 L271.5,416.6 L273.1,417.8 L274.8,418.9 L276.4,420.0 L278.1,421.1 L279.8,422.2 L281.5,423.2 L283.1,424.3 L284.8,425.4 L286.5,426.4 L288.2,427.5 L289.9,428.5 L291.7,429.5 L293.4,430.5 L295.1,431.5 L296.8,432.5 L298.6,433.5 L300.3,434.5 L302.0,435.5 L303.8,436.5 L305.5,437.4 L307.3,438.4 L309.1,439.3 L310.8,440.3 L312.6,441.2 L314.4,442.2 L316.2,443.1 L317.9,444.0 L319.7,444.9 L321.5,445.8 L323.3,446.7 L325.1,447.6 L326.9,448.5 L328.7,449.4 L330.5,450.3 L332.3,451.2 L334.2,452.0 L336.0,452.9 L337.8,453.8 L339.6,454.6 L341.4,455.5 L343.2,456.4 L345.1,457.2 L346.9,458.1 L348.7,458.9 L350.5,459.8 L352.4,460.6 L354.2,461.5 L356.0,462.3 L357.8,463.1 L359.7,464.0 L361.5,464.8 L363.3,465.7 L365.1,466.5 L367.0,467.3 L368.8,468.2 L370.6,469.0 L372.4,469.8 L374.3,470.7 L376.1,471.5 L377.9,472.3 L379.7,473.1 L381.6,473.9 L383.4,474.7 L385.2,475.5 L387.1,476.3 L388.9,477.1 L390.8,477.9 L392.6,478.7 L394.5,479.5 L396.3,480.3 L398.2,481.0 L400.0,481.8 L401.9,482.5 L403.7,483.3 L405.6,484.0 L407.4,484.8 L409.3,485.5 L411.2,486.3 L413.0,487.0 L414.9,487.7 L416.8,488.4 L418.7,489.1 L420.5,489.8 L422.4,490.6 L424.3,491.3 L426.2,491.9 L428.1,492.6 L429.9,493.3 L431.8,494.0 L433.7,494.7 L435.6,495.4 L437.5,496.0 L439.4,496.7 L441.3,497.3 L443.2,498.0 L445.1,498.7 L447.0,499.3 L448.9,500.0 L450.8,500.6 L452.7,501.2 L454.6,501.9 L456.5,502.5 L458.4,503.1 L460.3,503.7 L462.2,504.4 L464.1,505.0 L466.1,505.6 L468.0,506.2 L469.9,506.8 L471.8,507.4 L473.7,508.0 L475.6,508.6 L477.5,509.2 L479.5,509.8 L481.4,510.4 L483.3,511.0 L485.2,511.6 L487.1,512.1 L489.1,512.7 L491.0,513.3 L492.9,513.9 L494.8,514.5 L496.7,515.0 L498.7,515.6 L500.6,516.2 L502.5,516.8 L504.4,517.4 L506.3,518.0 L508.2,518.6 L510.2,519.2 L512.1,519.8 L514.0,520.4 L515.9,521.0 L517.8,521.6 L519.7,522.2 L521.6,522.8 L523.5,523.5 L525.4,524.1 L527.3,524.7 L529.2,525.3 L531.1,525.9 L533.1,526.6 L535.0,527.2 L536.9,527.8 L538.8,528.4 L540.7,529.0 L542.6,529.6 L544.5,530.3 L546.4,530.9 L548.3,531.4 L550.3,532.0 L552.2,532.6 L554.1,533.2 L556.0,533.8 L557.9,534.3 L559.9,534.9 L561.8,535.5 L563.7,536.0 L565.7,536.6 L567.6,537.1 L569.5,537.6 L571.4,538.2 L573.4,538.7 L575.3,539.2 L577.3,539.7 L579.2,540.3 L581.1,540.8 L583.1,541.3 L585.0,541.8 L587.0,542.3 L588.9,542.8 L590.8,543.3 L592.8,543.8 L594.7,544.3 L596.7,544.8 L598.6,545.3 L600.5,545.8 L602.5,546.3 L604.4,546.8 L606.4,547.3 L608.3,547.8 L610.3,548.3 L612.2,548.8 L614.2,549.3 L616.1,549.8 L618.0,550.3 L620.0,550.8 L621.9,551.3 L623.9,551.8 L625.8,552.3 L627.8,552.8 L629.7,553.3 L631.7,553.8 L633.6,554.2 L635.6,554.7 L637.5,555.2 L639.5,555.7 L641.4,556.2 L643.3,556.7 L645.3,557.2 L647.2,557.6 L649.2,558.1 L651.1,558.6 L653.1,559.1 L655.0,559.6 L657.0,560.1 L658.9,560.5 L660.9,561.0 L662.8,561.5 L664.8,562.0 L666.7,562.5 L668.7,562.9 L670.6,563.4 L672.6,563.9 L674.5,564.4 L676.5,564.8 L678.4,565.3 L680.4,565.8 L682.3,566.3 L684.3,566.7 L686.2,567.2 L688.2,567.7 L690.1,568.1 L692.1,568.6 L694.0,569.1 L696.0,569.6 L697.9,570.0 L699.9,570.5 L701.8,571.0 L703.8,571.4 L705.7,571.9 L707.7,572.4 L709.6,572.8 L711.6,573.3 L713.5,573.8 L715.5,574.2 L717.4,574.7 L719.4,575.1 L721.3,575.6 L723.3,576.1 L725.2,576.5 L727.2,577.0 L729.1,577.4 L731.1,577.9 L733.0,578.4 L735.0,578.8 L737.0,579.3 L738.9,579.7 L740.9,580.2 L742.8,580.7 L744.8,581.1 L746.7,581.6 L748.7,582.0 L750.6,582.5 L752.6,582.9 L754.5,583.4 L756.5,583.8 L758.5,584.3 L760.4,584.7 L762.4,585.2 L764.3,585.6 L766.3,586.1 L768.2,586.5 L770.2,587.0 L772.1,587.4 L774.1,587.9 L776.1,588.3 L778.0,588.8 L780.0,589.2 L781.9,589.6 L783.9,590.1 L785.8,590.5 L787.8,591.0 L789.7,591.4 L791.7,591.9 L793.7,592.3 L795.6,592.7 L797.6,593.2 L799.5,593.6 L801.5,594.1 L803.5,594.5 L805.4,594.9 L807.4,595.4 L809.3,595.8 L811.3,596.3 L813.2,596.7 L815.2,597.1 L817.2,597.6 L819.1,598.0 L821.1,598.4 L823.0,598.9 L825.0,599.3 L827.0,599.7 L828.9,600.1 L830.9,600.6 L832.8,601.0 L834.8,601.4 L836.8,601.8 L838.7,602.3 L840.7,602.7 L842.6,603.1 L844.6,603.5 L846.6,604.0 L848.5,604.4 L850.5,604.8 L852.5,605.2 L854.4,605.6 L856.4,606.0 L858.3,606.4 L860.3,606.9 L862.3,607.3 L864.2,607.7 L866.2,608.1 L868.2,608.5 L870.1,608.9 L872.1,609.3 L874.1,609.7 L876.0,610.1 L878.0,610.5 L880.0,610.9 L881.9,611.3 L883.9,611.7 L885.9,612.1 L887.8,612.4 L889.8,612.8 L891.8,613.2 L893.7,613.6 L895.7,614.0 L897.7,614.4 L899.7,614.7 L901.6,615.1 L903.6,615.5 L905.6,615.8 L907.5,616.2 L909.5,616.6 L911.5,616.9 L913.5,617.3 L915.4,617.7 L917.4,618.0 L919.4,618.4 L921.4,618.7 L923.3,619.1 L925.3,619.4 L927.3,619.8 L929.3,620.1 L931.2,620.5 L933.2,620.8 L935.2,621.1 L937.2,621.5 L939.2,621.8 L941.1,622.1 L943.1,622.5 L945.1,622.8 L947.1,623.1" fill="none" stroke="#00b050" stroke-width="2.8" stroke-linejoin="round" stroke-dasharray="11.5 7.3" stroke-dashoffset="9"/>
<path d="M947.95,12.0 L143.75,12.0 L143.75,662.5 L953.75,662.5" fill="none" stroke="#000" stroke-width="2.5" stroke-linejoin="miter"/>
<line x1="946.75" y1="10.80" x2="946.75" y2="663.70" stroke="#000" stroke-width="2.5"/>
<line x1="143.75" y1="602.50" x2="946.75" y2="602.50" stroke="#000" stroke-width="2.5"/>
<line x1="165.16" y1="602.50" x2="165.16" y2="596.70" stroke="#000" stroke-width="2.3"/>
<line x1="186.57" y1="602.50" x2="186.57" y2="596.70" stroke="#000" stroke-width="2.3"/>
<line x1="207.98" y1="602.50" x2="207.98" y2="596.70" stroke="#000" stroke-width="2.3"/>
<line x1="229.39" y1="602.50" x2="229.39" y2="596.70" stroke="#000" stroke-width="2.3"/>
<line x1="250.80" y1="602.50" x2="250.80" y2="594.70" stroke="#000" stroke-width="2.3"/>
<line x1="272.21" y1="602.50" x2="272.21" y2="596.70" stroke="#000" stroke-width="2.3"/>
<line x1="293.62" y1="602.50" x2="293.62" y2="596.70" stroke="#000" stroke-width="2.3"/>
<line x1="315.03" y1="602.50" x2="315.03" y2="596.70" stroke="#000" stroke-width="2.3"/>
<line x1="336.44" y1="602.50" x2="336.44" y2="596.70" stroke="#000" stroke-width="2.3"/>
<line x1="357.85" y1="602.50" x2="357.85" y2="594.70" stroke="#000" stroke-width="2.3"/>
<line x1="379.26" y1="602.50" x2="379.26" y2="596.70" stroke="#000" stroke-width="2.3"/>
<line x1="400.67" y1="602.50" x2="400.67" y2="596.70" stroke="#000" stroke-width="2.3"/>
<line x1="422.08" y1="602.50" x2="422.08" y2="596.70" stroke="#000" stroke-width="2.3"/>
<line x1="443.49" y1="602.50" x2="443.49" y2="596.70" stroke="#000" stroke-width="2.3"/>
<line x1="464.90" y1="602.50" x2="464.90" y2="594.70" stroke="#000" stroke-width="2.3"/>
<line x1="486.31" y1="602.50" x2="486.31" y2="596.70" stroke="#000" stroke-width="2.3"/>
<line x1="507.72" y1="602.50" x2="507.72" y2="596.70" stroke="#000" stroke-width="2.3"/>
<line x1="529.13" y1="602.50" x2="529.13" y2="596.70" stroke="#000" stroke-width="2.3"/>
<line x1="550.54" y1="602.50" x2="550.54" y2="596.70" stroke="#000" stroke-width="2.3"/>
<line x1="571.95" y1="602.50" x2="571.95" y2="594.70" stroke="#000" stroke-width="2.3"/>
<line x1="593.36" y1="602.50" x2="593.36" y2="596.70" stroke="#000" stroke-width="2.3"/>
<line x1="614.77" y1="602.50" x2="614.77" y2="596.70" stroke="#000" stroke-width="2.3"/>
<line x1="636.18" y1="602.50" x2="636.18" y2="596.70" stroke="#000" stroke-width="2.3"/>
<line x1="657.59" y1="602.50" x2="657.59" y2="596.70" stroke="#000" stroke-width="2.3"/>
<line x1="679.00" y1="602.50" x2="679.00" y2="594.70" stroke="#000" stroke-width="2.3"/>
<line x1="700.41" y1="602.50" x2="700.41" y2="596.70" stroke="#000" stroke-width="2.3"/>
<line x1="721.82" y1="602.50" x2="721.82" y2="596.70" stroke="#000" stroke-width="2.3"/>
<line x1="743.23" y1="602.50" x2="743.23" y2="596.70" stroke="#000" stroke-width="2.3"/>
<line x1="764.64" y1="602.50" x2="764.64" y2="596.70" stroke="#000" stroke-width="2.3"/>
<line x1="786.05" y1="602.50" x2="786.05" y2="594.70" stroke="#000" stroke-width="2.3"/>
<line x1="807.46" y1="602.50" x2="807.46" y2="596.70" stroke="#000" stroke-width="2.3"/>
<line x1="828.87" y1="602.50" x2="828.87" y2="596.70" stroke="#000" stroke-width="2.3"/>
<line x1="850.28" y1="602.50" x2="850.28" y2="596.70" stroke="#000" stroke-width="2.3"/>
<line x1="871.69" y1="602.50" x2="871.69" y2="596.70" stroke="#000" stroke-width="2.3"/>
<line x1="893.10" y1="602.50" x2="893.10" y2="594.70" stroke="#000" stroke-width="2.3"/>
<line x1="914.51" y1="602.50" x2="914.51" y2="596.70" stroke="#000" stroke-width="2.3"/>
<line x1="935.92" y1="602.50" x2="935.92" y2="596.70" stroke="#000" stroke-width="2.3"/>
<line x1="946.75" y1="638.85" x2="952.35" y2="638.85" stroke="#000" stroke-width="2.4"/>
<line x1="946.75" y1="615.20" x2="952.35" y2="615.20" stroke="#000" stroke-width="2.4"/>
<line x1="946.75" y1="591.55" x2="952.35" y2="591.55" stroke="#000" stroke-width="2.4"/>
<line x1="946.75" y1="567.90" x2="952.35" y2="567.90" stroke="#000" stroke-width="2.4"/>
<line x1="946.75" y1="544.25" x2="954.35" y2="544.25" stroke="#000" stroke-width="2.4"/>
<line x1="946.75" y1="520.60" x2="952.35" y2="520.60" stroke="#000" stroke-width="2.4"/>
<line x1="946.75" y1="496.95" x2="952.35" y2="496.95" stroke="#000" stroke-width="2.4"/>
<line x1="946.75" y1="473.30" x2="952.35" y2="473.30" stroke="#000" stroke-width="2.4"/>
<line x1="946.75" y1="449.65" x2="952.35" y2="449.65" stroke="#000" stroke-width="2.4"/>
<line x1="946.75" y1="426.00" x2="954.35" y2="426.00" stroke="#000" stroke-width="2.4"/>
<line x1="946.75" y1="402.35" x2="952.35" y2="402.35" stroke="#000" stroke-width="2.4"/>
<line x1="946.75" y1="378.70" x2="952.35" y2="378.70" stroke="#000" stroke-width="2.4"/>
<line x1="946.75" y1="355.05" x2="952.35" y2="355.05" stroke="#000" stroke-width="2.4"/>
<line x1="946.75" y1="331.40" x2="952.35" y2="331.40" stroke="#000" stroke-width="2.4"/>
<line x1="946.75" y1="307.75" x2="954.35" y2="307.75" stroke="#000" stroke-width="2.4"/>
<line x1="946.75" y1="284.10" x2="952.35" y2="284.10" stroke="#000" stroke-width="2.4"/>
<line x1="946.75" y1="260.45" x2="952.35" y2="260.45" stroke="#000" stroke-width="2.4"/>
<line x1="946.75" y1="236.80" x2="952.35" y2="236.80" stroke="#000" stroke-width="2.4"/>
<line x1="946.75" y1="213.15" x2="952.35" y2="213.15" stroke="#000" stroke-width="2.4"/>
<line x1="946.75" y1="189.50" x2="954.35" y2="189.50" stroke="#000" stroke-width="2.4"/>
<line x1="946.75" y1="165.85" x2="952.35" y2="165.85" stroke="#000" stroke-width="2.4"/>
<line x1="946.75" y1="142.20" x2="952.35" y2="142.20" stroke="#000" stroke-width="2.4"/>
<line x1="946.75" y1="118.55" x2="952.35" y2="118.55" stroke="#000" stroke-width="2.4"/>
<line x1="946.75" y1="94.90" x2="952.35" y2="94.90" stroke="#000" stroke-width="2.4"/>
<line x1="946.75" y1="71.25" x2="954.35" y2="71.25" stroke="#000" stroke-width="2.4"/>
<line x1="946.75" y1="47.60" x2="952.35" y2="47.60" stroke="#000" stroke-width="2.4"/>
<line x1="946.75" y1="23.95" x2="952.35" y2="23.95" stroke="#000" stroke-width="2.4"/>
<text x="143.75" y="642.30" font-size="27" font-family='"Liberation Serif", "DejaVu Serif", serif' font-weight="bold" text-anchor="middle">-3.5</text>
<text x="250.82" y="642.30" font-size="27" font-family='"Liberation Serif", "DejaVu Serif", serif' font-weight="bold" text-anchor="middle">-3.3</text>
<text x="357.89" y="642.30" font-size="27" font-family='"Liberation Serif", "DejaVu Serif", serif' font-weight="bold" text-anchor="middle">-3.1</text>
<text x="464.96" y="642.30" font-size="27" font-family='"Liberation Serif", "DejaVu Serif", serif' font-weight="bold" text-anchor="middle">-2.9</text>
<text x="572.03" y="642.30" font-size="27" font-family='"Liberation Serif", "DejaVu Serif", serif' font-weight="bold" text-anchor="middle">-2.7</text>
<text x="679.10" y="642.30" font-size="27" font-family='"Liberation Serif", "DejaVu Serif", serif' font-weight="bold" text-anchor="middle">-2.5</text>
<text x="786.17" y="642.30" font-size="27" font-family='"Liberation Serif", "DejaVu Serif", serif' font-weight="bold" text-anchor="middle">-2.3</text>
<text x="893.24" y="642.30" font-size="27" font-family='"Liberation Serif", "DejaVu Serif", serif' font-weight="bold" text-anchor="middle">-2.1</text>
<text x="922.80" y="79.70" font-size="27" font-family='"Liberation Serif", "DejaVu Serif", serif' font-weight="bold" text-anchor="end">9</text>
<text x="922.80" y="197.70" font-size="27" font-family='"Liberation Serif", "DejaVu Serif", serif' font-weight="bold" text-anchor="end">7</text>
<text x="922.80" y="315.70" font-size="27" font-family='"Liberation Serif", "DejaVu Serif", serif' font-weight="bold" text-anchor="end">5</text>
<text x="922.80" y="433.70" font-size="27" font-family='"Liberation Serif", "DejaVu Serif", serif' font-weight="bold" text-anchor="end">3</text>
<text x="922.80" y="551.70" font-size="27" font-family='"Liberation Serif", "DejaVu Serif", serif' font-weight="bold" text-anchor="end">1</text>
<text x="921.80" y="670.80" font-size="27" font-family='"Liberation Serif", "DejaVu Serif", serif' font-weight="bold" text-anchor="end">-1</text>
<line x1="150.00" y1="32.00" x2="215.50" y2="32.00" stroke="#000" stroke-width="3.5"/>
<line x1="151.50" y1="66.30" x2="216.50" y2="66.30" stroke="#000" stroke-width="2.5" stroke-dasharray="11.5 8.5"/>
<text x="235.00" y="42.00" font-size="31" font-family='"Liberation Serif", "DejaVu Serif", serif' textLength="176.50" lengthAdjust="spacing" stroke="#000" stroke-width="0.5">First Solution</text>
<text x="235.00" y="77.50" font-size="31" font-family='"Liberation Serif", "DejaVu Serif", serif' textLength="212.50" lengthAdjust="spacing" stroke="#000" stroke-width="0.5">Second Solution</text>
<rect x="630.75" y="18.75" width="262.25" height="75.75" fill="none" stroke="#000" stroke-width="2"/>
<text x="637.5" y="43.75" font-size="26.5" font-family='"Liberation Serif", "DejaVu Serif", serif' stroke="#000" stroke-width="0.45" textLength="195" lengthAdjust="spacing">Pr = 6.2, <tspan font-style="italic">m</tspan> = 0.5</text>
<text x="638.5" y="82" font-size="26.5" font-family='"Liberation Serif", "DejaVu Serif", serif' stroke="#000" stroke-width="0.45" textLength="247" lengthAdjust="spacing"><tspan font-style="italic">Ec</tspan> = 1, <tspan font-style="italic">S</tspan> = 2, <tspan font-style="italic">A</tspan> = 0.8</text>
<text x="169.00" y="160.50" font-size="36.6" font-family='"Liberation Serif", "DejaVu Serif", serif' stroke="#000" stroke-width="0.5">(</text>
<text x="183.50" y="157.50" font-size="30" font-family='"Liberation Serif", "DejaVu Serif", serif' font-style="italic" stroke="#000" stroke-width="0.5">λ</text>
<text x="200.00" y="165.00" font-size="17.4" font-family='"Liberation Serif", "DejaVu Serif", serif' stroke="#000" stroke-width="0.3"><tspan font-style="italic">c</tspan><tspan dx="1">2</tspan></text>
<text x="231.00" y="157.50" font-size="30" font-family='"Liberation Serif", "DejaVu Serif", serif' stroke="#000" stroke-width="0.5">=</text>
<text x="256.50" y="157.50" font-size="30" font-family='"Liberation Serif", "DejaVu Serif", serif' textLength="147.00" lengthAdjust="spacing" stroke="#000" stroke-width="0.5">−3.396836,</text>
<text x="408.50" y="157.50" font-size="30" font-family='"Liberation Serif", "DejaVu Serif", serif' textLength="56.50" lengthAdjust="spacing" stroke="#000" stroke-width="0.5">4.67</text>
<text x="468.00" y="160.50" font-size="36.6" font-family='"Liberation Serif", "DejaVu Serif", serif' stroke="#000" stroke-width="0.5">)</text>
<text x="272.50" y="344.00" font-size="36.6" font-family='"Liberation Serif", "DejaVu Serif", serif' stroke="#000" stroke-width="0.5">(</text>
<text x="287.50" y="341.00" font-size="30" font-family='"Liberation Serif", "DejaVu Serif", serif' font-style="italic" stroke="#000" stroke-width="0.5">λ</text>
<text x="304.00" y="348.50" font-size="17.4" font-family='"Liberation Serif", "DejaVu Serif", serif' stroke="#000" stroke-width="0.3"><tspan font-style="italic">c</tspan><tspan dx="1">2</tspan></text>
<text x="334.50" y="341.00" font-size="30" font-family='"Liberation Serif", "DejaVu Serif", serif' stroke="#000" stroke-width="0.5">=</text>
<text x="360.00" y="341.00" font-size="30" font-family='"Liberation Serif", "DejaVu Serif", serif' textLength="147.00" lengthAdjust="spacing" stroke="#000" stroke-width="0.5">−3.384193,</text>
<text x="512.00" y="341.00" font-size="30" font-family='"Liberation Serif", "DejaVu Serif", serif' textLength="53.50" lengthAdjust="spacing" stroke="#000" stroke-width="0.5">4.50</text>
<text x="568.50" y="344.00" font-size="36.6" font-family='"Liberation Serif", "DejaVu Serif", serif' stroke="#000" stroke-width="0.5">)</text>
<text x="160.00" y="565.50" font-size="36.6" font-family='"Liberation Serif", "DejaVu Serif", serif' stroke="#000" stroke-width="0.5">(</text>
<text x="175.00" y="562.50" font-size="30" font-family='"Liberation Serif", "DejaVu Serif", serif' font-style="italic" stroke="#000" stroke-width="0.5">λ</text>
<text x="191.00" y="570.00" font-size="17.4" font-family='"Liberation Serif", "DejaVu Serif", serif' stroke="#000" stroke-width="0.3"><tspan font-style="italic">c</tspan><tspan dx="1">2</tspan></text>
<text x="221.50" y="562.50" font-size="30" font-family='"Liberation Serif", "DejaVu Serif", serif' stroke="#000" stroke-width="0.5">=</text>
<text x="247.00" y="562.50" font-size="30" font-family='"Liberation Serif", "DejaVu Serif", serif' textLength="129.00" lengthAdjust="spacing" stroke="#000" stroke-width="0.5">−3.36958,</text>
<text x="381.00" y="562.50" font-size="30" font-family='"Liberation Serif", "DejaVu Serif", serif' textLength="56.50" lengthAdjust="spacing" stroke="#000" stroke-width="0.5">4.32</text>
<text x="440.00" y="565.50" font-size="36.6" font-family='"Liberation Serif", "DejaVu Serif", serif' stroke="#000" stroke-width="0.5">)</text>
<text x="651" y="386" font-size="28.5" font-family='"Liberation Serif", "DejaVu Serif", serif' font-style="italic" stroke="#000" stroke-width="0.45" textLength="249" lengthAdjust="spacing">ϕ = 0.02, 0.03, 0.04</text>
<line x1="200.20" y1="322.00" x2="203.00" y2="190.00" stroke="#00b050" stroke-width="2.6"/>
<polyline points="212.93,207.71 203.00,190.00 192.33,207.28" fill="none" stroke="#00b050" stroke-width="2.6" stroke-linejoin="round" stroke-linecap="round"/>
<line x1="213.80" y1="355.00" x2="216.70" y2="537.50" stroke="#ff0000" stroke-width="2.6"/>
<polyline points="205.82,520.17 216.70,537.50 227.02,519.83" fill="none" stroke="#ff0000" stroke-width="2.6" stroke-linejoin="round" stroke-linecap="round"/>
<line x1="206.00" y1="335.60" x2="267.50" y2="332.80" stroke="#000" stroke-width="3"/>
<polyline points="249.46,343.23 267.50,332.80 248.58,324.05" fill="none" stroke="#000" stroke-width="3" stroke-linejoin="round" stroke-linecap="round"/>
<line x1="748.80" y1="294.50" x2="789.93" y2="179.04" stroke="#000" stroke-width="3.2"/>
<polygon points="795.00,164.80 798.19,194.60 789.93,179.04 773.69,185.87" fill="#000"/>
<line x1="668.80" y1="587.00" x2="695.10" y2="510.30" stroke="#000" stroke-width="3.2" stroke-dasharray="10 9"/>
<polygon points="700.00,496.00 703.54,525.76 695.10,510.30 678.95,517.32" fill="#000"/>
<circle cx="198.30" cy="330.00" r="5" fill="#000"/>
<circle cx="205.60" cy="335.60" r="5" fill="#000"/>
<circle cx="214.50" cy="352.00" r="5" fill="#000"/>
<ellipse cx="430" cy="493.2" rx="15.2" ry="22.4" fill="none" stroke="#1f3864" stroke-width="2.2"/>
<line x1="443.30" y1="478.20" x2="478.50" y2="478.20" stroke="#000" stroke-width="2"/>
<polygon points="494.30,478.20 478.50,486.10 478.50,478.20 478.50,470.30" fill="#000"/>
<line x1="518.50" y1="432.20" x2="538.00" y2="440.50" stroke="#00b050" stroke-width="2.6"/>
<line x1="545.50" y1="444.50" x2="565.00" y2="453.20" stroke="#00b050" stroke-width="2.6"/>
<line x1="573.00" y1="456.80" x2="592.00" y2="465.50" stroke="#00b050" stroke-width="2.6"/>
<line x1="600.00" y1="469.00" x2="607.00" y2="472.50" stroke="#00b050" stroke-width="2.6"/>
<line x1="504.00" y1="437.50" x2="514.50" y2="442.50" stroke="#000" stroke-width="2.6"/>
<line x1="522.50" y1="446.80" x2="541.50" y2="455.50" stroke="#000" stroke-width="2.6"/>
<line x1="550.00" y1="459.20" x2="568.50" y2="468.00" stroke="#000" stroke-width="2.6"/>
<line x1="576.50" y1="471.50" x2="596.00" y2="480.30" stroke="#000" stroke-width="2.6"/>
<line x1="504.00" y1="449.50" x2="510.50" y2="452.80" stroke="#ff0000" stroke-width="2.6"/>
<line x1="519.00" y1="456.50" x2="538.00" y2="465.20" stroke="#ff0000" stroke-width="2.6"/>
<line x1="545.50" y1="468.80" x2="565.00" y2="477.50" stroke="#ff0000" stroke-width="2.6"/>
<line x1="573.00" y1="480.80" x2="586.00" y2="485.00" stroke="#ff0000" stroke-width="2.6"/>
<path d="M504,484.2 L504,428.2 L613,428.2 M502.6,484.2 L613,484.2" fill="none" stroke="#000" stroke-width="2.8" stroke-linejoin="miter"/>
<line x1="605.50" y1="427.00" x2="605.50" y2="485.50" stroke="#000" stroke-width="2.8"/>
<line x1="605.50" y1="439.00" x2="613.00" y2="439.00" stroke="#000" stroke-width="2.2"/>
<line x1="605.50" y1="450.20" x2="613.00" y2="450.20" stroke="#000" stroke-width="2.2"/>
<line x1="605.50" y1="461.50" x2="613.00" y2="461.50" stroke="#000" stroke-width="2.2"/>
<line x1="605.50" y1="472.80" x2="613.00" y2="472.80" stroke="#000" stroke-width="2.2"/>
<line x1="524.00" y1="484.20" x2="524.00" y2="479.80" stroke="#000" stroke-width="2"/>
<line x1="544.20" y1="484.20" x2="544.20" y2="479.80" stroke="#000" stroke-width="2"/>
<line x1="564.50" y1="484.20" x2="564.50" y2="479.80" stroke="#000" stroke-width="2"/>
<line x1="585.20" y1="484.20" x2="585.20" y2="479.80" stroke="#000" stroke-width="2"/>
<text x="496.30" y="511.50" font-size="17.3" font-family='"Liberation Serif", "DejaVu Serif", serif' font-weight="bold" textLength="15.20" lengthAdjust="spacingAndGlyphs">-3</text>
<text x="586.00" y="511.50" font-size="17.3" font-family='"Liberation Serif", "DejaVu Serif", serif' font-weight="bold" textLength="39.00" lengthAdjust="spacingAndGlyphs">-2.95</text>
<text x="8.5" y="322.5" font-size="32" font-family='"Liberation Serif", "DejaVu Serif", serif' stroke="#000" stroke-width="0.3">R<tspan dx="7">e</tspan></text>
<text x="53.50" y="308.70" font-size="18.5" font-family='"Liberation Serif", "DejaVu Serif", serif' textLength="27.00" lengthAdjust="spacing" stroke="#000" stroke-width="0.5">1/2</text>
<text x="55.00" y="331.00" font-size="18.5" font-family='"Liberation Serif", "DejaVu Serif", serif' font-style="italic" stroke="#000" stroke-width="0.5">x</text>
<text x="91.00" y="322.50" font-size="32" font-family='"Liberation Serif", "DejaVu Serif", serif' font-style="italic" stroke="#000" stroke-width="0.3">C</text>
<text x="118.50" y="331.00" font-size="19" font-family='"Liberation Serif", "DejaVu Serif", serif' font-style="italic" stroke="#000" stroke-width="0.5">f</text>
<text x="542.50" y="701.00" font-size="33" font-family='"Liberation Serif", "DejaVu Serif", serif' font-style="italic" textLength="17.50" lengthAdjust="spacingAndGlyphs" stroke="#000" stroke-width="0.5">λ</text>
<text x="551.50" y="792.00" font-size="55" font-family='"Liberation Serif", "DejaVu Serif", serif' font-weight="bold" text-anchor="middle">(a)</text>
<!-- panel b -->
<clipPath id="cb"><rect x="1229.75" y="37.0" width="753.5" height="592.7"/></clipPath><g clip-path="url(#cb)">
<path d="M1229.6,630.0 L1229.8,628.0 L1230.1,626.0 L1230.3,624.0 L1230.6,622.0 L1230.8,620.0 L1231.0,618.0 L1231.3,616.0 L1231.5,614.1 L1231.8,612.1 L1232.0,610.1 L1232.3,608.1 L1232.5,606.1 L1232.8,604.1 L1233.0,602.1 L1233.3,600.1 L1233.5,598.1 L1233.8,596.1 L1234.0,594.2 L1234.3,592.2 L1234.6,590.2 L1234.8,588.2 L1235.1,586.2 L1235.3,584.2 L1235.6,582.2 L1235.8,580.2 L1236.1,578.2 L1236.4,576.3 L1236.6,574.3 L1236.9,572.3 L1237.1,570.3 L1237.4,568.3 L1237.7,566.3 L1237.9,564.3 L1238.2,562.3 L1238.4,560.4 L1238.7,558.4 L1239.0,556.4 L1239.2,554.4 L1239.5,552.4 L1239.8,550.4 L1240.0,548.4 L1240.3,546.4 L1240.6,544.5 L1240.8,542.5 L1241.1,540.5 L1241.4,538.5 L1241.6,536.5 L1241.9,534.5 L1242.2,532.5 L1242.5,530.5 L1242.7,528.6 L1243.0,526.6 L1243.3,524.6 L1243.6,522.6 L1243.8,520.6 L1244.1,518.6 L1244.4,516.6 L1244.7,514.7 L1245.0,512.7 L1245.2,510.7 L1245.5,508.7 L1245.8,506.7 L1246.1,504.7 L1246.4,502.7 L1246.6,500.8 L1246.9,498.8 L1247.2,496.8 L1247.5,494.8 L1247.8,492.8 L1248.1,490.8 L1248.4,488.8 L1248.7,486.9 L1248.9,484.9 L1249.2,482.9 L1249.5,480.9 L1249.8,478.9 L1250.1,476.9 L1250.4,475.0 L1250.7,473.0 L1251.0,471.0 L1251.3,469.0 L1251.6,467.0 L1251.9,465.0 L1252.2,463.1 L1252.5,461.1 L1252.8,459.1 L1253.1,457.1 L1253.4,455.1 L1253.7,453.1 L1254.0,451.2 L1254.3,449.2 L1254.6,447.2 L1254.9,445.2 L1255.2,443.2 L1255.5,441.2 L1255.8,439.3 L1256.1,437.3 L1256.5,435.3 L1256.8,433.3 L1257.1,431.3 L1257.4,429.4 L1257.7,427.4 L1258.0,425.4 L1258.3,423.4 L1258.7,421.4 L1259.0,419.4 L1259.3,417.5 L1259.6,415.5 L1259.9,413.5 L1260.3,411.5 L1260.6,409.5 L1260.9,407.6 L1261.2,405.6 L1261.6,403.6 L1261.9,401.6 L1262.2,399.7 L1262.6,397.7 L1262.9,395.7 L1263.3,393.7 L1263.6,391.7 L1264.0,389.8 L1264.3,387.8 L1264.7,385.8 L1265.0,383.8 L1265.4,381.9 L1265.8,379.9 L1266.1,377.9 L1266.5,376.0 L1266.9,374.0 L1267.2,372.0 L1267.6,370.1 L1268.0,368.1 L1268.4,366.1 L1268.8,364.2 L1269.2,362.2 L1269.6,360.2 L1270.0,358.3 L1270.4,356.3 L1270.8,354.3 L1271.2,352.4 L1271.6,350.4 L1272.1,348.5 L1272.5,346.5 L1272.9,344.6 L1273.4,342.6 L1273.8,340.7 L1274.3,338.7 L1274.7,336.7 L1275.2,334.8 L1275.7,332.9 L1276.1,330.9 L1276.6,329.0 L1277.1,327.0 L1277.6,325.1 L1278.1,323.1 L1278.6,321.2 L1279.1,319.3 L1279.6,317.3 L1280.1,315.4 L1280.6,313.4 L1281.1,311.5 L1281.7,309.6 L1282.2,307.6 L1282.7,305.7 L1283.2,303.8 L1283.8,301.8 L1284.3,299.9 L1284.9,298.0 L1285.4,296.0 L1285.9,294.1 L1286.5,292.2 L1287.0,290.2 L1287.6,288.3 L1288.1,286.4 L1288.6,284.5 L1289.2,282.5 L1289.7,280.6 L1290.3,278.7 L1290.8,276.7 L1291.4,274.8 L1291.9,272.9 L1292.5,270.9 L1293.0,269.0 L1293.5,267.1 L1294.1,265.2 L1294.6,263.2 L1295.2,261.3 L1295.7,259.4 L1296.3,257.4 L1296.8,255.5 L1297.4,253.6 L1297.9,251.6 L1298.5,249.7 L1299.0,247.8 L1299.6,245.9 L1300.1,243.9 L1300.7,242.0 L1301.2,240.1 L1301.8,238.1 L1302.3,236.2 L1302.9,234.3 L1303.5,232.4 L1304.0,230.4 L1304.6,228.5 L1305.2,226.6 L1305.8,224.7 L1306.3,222.7 L1306.9,220.8 L1307.5,218.9 L1308.1,217.0 L1308.7,215.0 L1309.3,213.1 L1309.9,211.2 L1310.5,209.3 L1311.1,207.4 L1311.8,205.5 L1312.4,203.6 L1313.0,201.7 L1313.7,199.8 L1314.3,197.9 L1315.0,196.0 L1315.7,194.1 L1316.4,192.2 L1317.0,190.3 L1317.7,188.5 L1318.5,186.6 L1319.2,184.7 L1319.9,182.9 L1320.7,181.0 L1321.4,179.2 L1322.2,177.3 L1323.0,175.5 L1323.8,173.7 L1324.6,171.9 L1325.4,170.0 L1326.2,168.2 L1327.1,166.4 L1328.0,164.6 L1328.8,162.8 L1329.7,161.0 L1330.6,159.3 L1331.6,157.5 L1332.5,155.7 L1333.5,154.0 L1334.5,152.3 L1335.5,150.5 L1336.5,148.8 L1337.5,147.1 L1338.6,145.4 L1339.6,143.7 L1340.7,142.0 L1341.8,140.3 L1343.0,138.7 L1344.1,137.0 L1345.3,135.4 L1346.5,133.7 L1347.7,132.1 L1348.9,130.5 L1350.1,128.9 L1351.4,127.3 L1352.7,125.8 L1354.0,124.2 L1355.3,122.7 L1356.7,121.2 L1358.0,119.6 L1359.4,118.2 L1360.8,116.7 L1362.2,115.2 L1363.6,113.8 L1365.1,112.4 L1366.5,111.0 L1368.0,109.6 L1369.5,108.2 L1371.1,106.9 L1372.6,105.6 L1374.2,104.3 L1375.7,103.0 L1377.3,101.7 L1378.9,100.5 L1380.5,99.2 L1382.2,98.1 L1383.8,96.9 L1385.5,95.7 L1387.2,94.6 L1388.9,93.5 L1390.6,92.4 L1392.3,91.4 L1394.0,90.3 L1395.7,89.3 L1397.5,88.3 L1399.2,87.4 L1401.0,86.5 L1402.8,85.6 L1404.6,84.7 L1406.4,83.9 L1408.2,83.0 L1410.0,82.2 L1411.8,81.5 L1413.6,80.7 L1415.5,80.0 L1417.3,79.3 L1419.2,78.7 L1421.0,78.0 L1422.9,77.4 L1424.8,76.8 L1426.6,76.2 L1428.5,75.7 L1430.4,75.1 L1432.3,74.6 L1434.2,74.1 L1436.2,73.6 L1438.1,73.2 L1440.0,72.7 L1441.9,72.3 L1443.9,71.9 L1445.8,71.5 L1447.8,71.2 L1449.7,70.8 L1451.7,70.5 L1453.7,70.1 L1455.6,69.8 L1457.6,69.5 L1459.6,69.3 L1461.6,69.0 L1463.5,68.7 L1465.5,68.5 L1467.5,68.3 L1469.5,68.1 L1471.5,67.9 L1473.5,67.7 L1475.5,67.5 L1477.5,67.3 L1479.5,67.1 L1481.6,67.0 L1483.6,66.8 L1485.6,66.7 L1487.6,66.5 L1489.6,66.4 L1491.6,66.3 L1493.7,66.2 L1495.7,66.1 L1497.7,66.0 L1499.7,65.9 L1501.7,65.8 L1503.8,65.7 L1505.8,65.6 L1507.8,65.5 L1509.8,65.4 L1511.9,65.3 L1513.9,65.2 L1515.9,65.2 L1517.9,65.1 L1520.0,65.0 L1522.0,64.9 L1524.0,64.9 L1526.0,64.8 L1528.0,64.7 L1530.1,64.6 L1532.1,64.6 L1534.1,64.5 L1536.1,64.4 L1538.1,64.4 L1540.1,64.3 L1542.2,64.3 L1544.2,64.2 L1546.2,64.1 L1548.2,64.1 L1550.2,64.0 L1552.2,64.0 L1554.3,63.9 L1556.3,63.9 L1558.3,63.8 L1560.3,63.8 L1562.3,63.7 L1564.3,63.7 L1566.3,63.6 L1568.4,63.6 L1570.4,63.6 L1572.4,63.5 L1574.4,63.5 L1576.4,63.4 L1578.4,63.4 L1580.4,63.4 L1582.4,63.3 L1584.4,63.3 L1586.5,63.3 L1588.5,63.2 L1590.5,63.2 L1592.5,63.2 L1594.5,63.1 L1596.5,63.1 L1598.5,63.1 L1600.5,63.1 L1602.5,63.0 L1604.5,63.0 L1606.5,63.0 L1608.5,63.0 L1610.6,63.0 L1612.6,62.9 L1614.6,62.9 L1616.6,62.9 L1618.6,62.9 L1620.6,62.9 L1622.6,62.9 L1624.6,62.8 L1626.6,62.8 L1628.6,62.8 L1630.6,62.8 L1632.6,62.8 L1634.6,62.8 L1636.6,62.8 L1638.6,62.8 L1640.6,62.8 L1642.6,62.8 L1644.6,62.8 L1646.6,62.8 L1648.6,62.8 L1650.6,62.8 L1652.6,62.8 L1654.6,62.8 L1656.6,62.8 L1658.6,62.8 L1660.6,62.8 L1662.6,62.8 L1664.6,62.8 L1666.6,62.8 L1668.6,62.8 L1670.6,62.8 L1672.6,62.8 L1674.6,62.8 L1676.6,62.8 L1678.6,62.8 L1680.6,62.8 L1682.6,62.8 L1684.6,62.8 L1686.6,62.8 L1688.6,62.9 L1690.6,62.9 L1692.6,62.9 L1694.6,62.9 L1696.6,62.9 L1698.6,62.9 L1700.6,62.9 L1702.6,62.9 L1704.6,63.0 L1706.6,63.0 L1708.6,63.0 L1710.6,63.0 L1712.6,63.0 L1714.6,63.0 L1716.6,63.1 L1718.6,63.1 L1720.6,63.1 L1722.6,63.1 L1724.6,63.1 L1726.6,63.1 L1728.6,63.2 L1730.6,63.2 L1732.6,63.2 L1734.6,63.2 L1736.6,63.2 L1738.6,63.3 L1740.6,63.3 L1742.6,63.3 L1744.6,63.3 L1746.6,63.3 L1748.6,63.4 L1750.6,63.4 L1752.6,63.4 L1754.6,63.4 L1756.6,63.4 L1758.6,63.5 L1760.6,63.5 L1762.6,63.5 L1764.6,63.5 L1766.6,63.5 L1768.6,63.6 L1770.6,63.6 L1772.6,63.6 L1774.6,63.6 L1776.6,63.7 L1778.6,63.7 L1780.6,63.7 L1782.6,63.7 L1784.6,63.7 L1786.5,63.8 L1788.5,63.8 L1790.5,63.8 L1792.5,63.8 L1794.5,63.8 L1796.5,63.9 L1798.5,63.9 L1800.5,63.9 L1802.5,63.9 L1804.5,63.9 L1806.5,64.0 L1808.5,64.0 L1810.5,64.0 L1812.5,64.0 L1814.5,64.0 L1816.5,64.1 L1818.5,64.1 L1820.5,64.1 L1822.5,64.1 L1824.5,64.1 L1826.5,64.2 L1828.5,64.2 L1830.5,64.2 L1832.5,64.2 L1834.5,64.2 L1836.5,64.2 L1838.5,64.2 L1840.5,64.3 L1842.5,64.3 L1844.5,64.3 L1846.5,64.3 L1848.5,64.3 L1850.5,64.3 L1852.6,64.3 L1854.6,64.3 L1856.6,64.4 L1858.6,64.4 L1860.6,64.4 L1862.6,64.4 L1864.6,64.4 L1866.6,64.4 L1868.6,64.4 L1870.6,64.4 L1872.6,64.4 L1874.6,64.4 L1876.6,64.4 L1878.6,64.4 L1880.6,64.4 L1882.6,64.4 L1884.6,64.4 L1886.6,64.4 L1888.6,64.4 L1890.6,64.4 L1892.6,64.4 L1894.7,64.4 L1896.7,64.4 L1898.7,64.4 L1900.7,64.4 L1902.7,64.4 L1904.7,64.4 L1906.7,64.4 L1908.7,64.4 L1910.7,64.4 L1912.7,64.4 L1914.7,64.4 L1916.8,64.4 L1918.8,64.4 L1920.8,64.3 L1922.8,64.3 L1924.8,64.3 L1926.8,64.3 L1928.8,64.3 L1930.8,64.3 L1932.8,64.2 L1934.9,64.2 L1936.9,64.2 L1938.9,64.2 L1940.9,64.2 L1942.9,64.1 L1944.9,64.1 L1946.9,64.1 L1949.0,64.1 L1951.0,64.0 L1953.0,64.0 L1955.0,64.0 L1957.0,63.9 L1959.0,63.9 L1961.1,63.9 L1963.1,63.8 L1965.1,63.8 L1967.1,63.8 L1969.1,63.7 L1971.2,63.7 L1973.2,63.6 L1975.2,63.6 L1977.2,63.6 L1979.2,63.5 L1981.3,63.5 L1983.3,63.4" fill="none" stroke="#ff0000" stroke-width="2.6" stroke-linejoin="round"/>
<path d="M1229.5,630.0 L1229.7,628.0 L1230.0,626.0 L1230.2,624.0 L1230.5,622.0 L1230.8,620.0 L1231.1,618.0 L1231.4,616.1 L1231.7,614.1 L1232.0,612.1 L1232.3,610.1 L1232.6,608.1 L1232.9,606.1 L1233.2,604.1 L1233.5,602.1 L1233.8,600.1 L1234.1,598.1 L1234.4,596.2 L1234.7,594.2 L1235.1,592.2 L1235.4,590.2 L1235.7,588.2 L1236.0,586.2 L1236.4,584.3 L1236.7,582.3 L1237.0,580.3 L1237.4,578.3 L1237.7,576.3 L1238.1,574.4 L1238.4,572.4 L1238.8,570.4 L1239.1,568.4 L1239.5,566.5 L1239.8,564.5 L1240.2,562.5 L1240.5,560.5 L1240.9,558.6 L1241.3,556.6 L1241.6,554.6 L1242.0,552.6 L1242.4,550.7 L1242.8,548.7 L1243.1,546.7 L1243.5,544.8 L1243.9,542.8 L1244.3,540.8 L1244.7,538.9 L1245.1,536.9 L1245.4,534.9 L1245.8,533.0 L1246.2,531.0 L1246.6,529.0 L1247.0,527.1 L1247.4,525.1 L1247.8,523.1 L1248.3,521.2 L1248.7,519.2 L1249.1,517.3 L1249.5,515.3 L1249.9,513.3 L1250.3,511.4 L1250.7,509.4 L1251.2,507.5 L1251.6,505.5 L1252.0,503.5 L1252.5,501.6 L1252.9,499.6 L1253.3,497.7 L1253.8,495.7 L1254.2,493.8 L1254.6,491.8 L1255.1,489.9 L1255.5,487.9 L1256.0,486.0 L1256.4,484.0 L1256.9,482.0 L1257.3,480.1 L1257.8,478.1 L1258.2,476.2 L1258.7,474.2 L1259.2,472.3 L1259.6,470.3 L1260.1,468.4 L1260.6,466.4 L1261.0,464.5 L1261.5,462.5 L1262.0,460.6 L1262.5,458.7 L1262.9,456.7 L1263.4,454.8 L1263.9,452.8 L1264.4,450.9 L1264.9,448.9 L1265.4,447.0 L1265.9,445.0 L1266.4,443.1 L1266.9,441.1 L1267.4,439.2 L1267.9,437.3 L1268.4,435.3 L1268.9,433.4 L1269.4,431.4 L1269.9,429.5 L1270.4,427.5 L1270.9,425.6 L1271.4,423.7 L1272.0,421.7 L1272.5,419.8 L1273.0,417.8 L1273.5,415.9 L1274.0,414.0 L1274.6,412.0 L1275.1,410.1 L1275.6,408.1 L1276.2,406.2 L1276.7,404.3 L1277.3,402.3 L1277.8,400.4 L1278.3,398.4 L1278.9,396.5 L1279.4,394.6 L1280.0,392.6 L1280.5,390.7 L1281.1,388.8 L1281.7,386.8 L1282.2,384.9 L1282.8,382.9 L1283.4,381.0 L1283.9,379.1 L1284.5,377.1 L1285.1,375.2 L1285.7,373.3 L1286.2,371.4 L1286.8,369.4 L1287.4,367.5 L1288.0,365.6 L1288.6,363.7 L1289.3,361.7 L1289.9,359.8 L1290.5,357.9 L1291.1,356.0 L1291.8,354.1 L1292.4,352.2 L1293.0,350.2 L1293.7,348.3 L1294.3,346.4 L1295.0,344.5 L1295.6,342.6 L1296.3,340.7 L1297.0,338.8 L1297.6,336.9 L1298.3,335.0 L1299.0,333.1 L1299.7,331.2 L1300.3,329.3 L1301.0,327.4 L1301.7,325.5 L1302.4,323.6 L1303.1,321.7 L1303.8,319.8 L1304.5,318.0 L1305.2,316.1 L1306.0,314.2 L1306.7,312.3 L1307.4,310.4 L1308.2,308.6 L1308.9,306.7 L1309.6,304.8 L1310.4,302.9 L1311.1,301.1 L1311.9,299.2 L1312.7,297.3 L1313.4,295.5 L1314.2,293.6 L1315.0,291.8 L1315.8,289.9 L1316.6,288.1 L1317.4,286.2 L1318.2,284.4 L1319.0,282.5 L1319.8,280.7 L1320.6,278.9 L1321.5,277.0 L1322.3,275.2 L1323.1,273.4 L1324.0,271.5 L1324.8,269.7 L1325.7,267.9 L1326.6,266.1 L1327.4,264.3 L1328.3,262.5 L1329.2,260.6 L1330.1,258.8 L1331.0,257.0 L1331.9,255.2 L1332.8,253.4 L1333.7,251.7 L1334.6,249.9 L1335.6,248.1 L1336.5,246.3 L1337.5,244.5 L1338.4,242.7 L1339.4,241.0 L1340.3,239.2 L1341.3,237.4 L1342.3,235.7 L1343.3,233.9 L1344.3,232.2 L1345.3,230.4 L1346.3,228.7 L1347.3,226.9 L1348.3,225.2 L1349.4,223.5 L1350.4,221.7 L1351.5,220.0 L1352.5,218.3 L1353.6,216.6 L1354.6,214.8 L1355.7,213.1 L1356.8,211.4 L1357.9,209.7 L1359.0,208.0 L1360.1,206.3 L1361.2,204.7 L1362.4,203.0 L1363.5,201.3 L1364.7,199.6 L1365.8,197.9 L1367.0,196.3 L1368.2,194.6 L1369.3,193.0 L1370.5,191.3 L1371.7,189.7 L1372.9,188.0 L1374.1,186.4 L1375.4,184.8 L1376.6,183.1 L1377.8,181.5 L1379.1,179.9 L1380.3,178.3 L1381.6,176.7 L1382.9,175.1 L1384.2,173.6 L1385.5,172.0 L1386.8,170.4 L1388.1,168.9 L1389.4,167.3 L1390.7,165.8 L1392.0,164.2 L1393.4,162.7 L1394.7,161.2 L1396.1,159.7 L1397.5,158.2 L1398.9,156.7 L1400.2,155.2 L1401.6,153.7 L1403.0,152.2 L1404.5,150.8 L1405.9,149.3 L1407.3,147.9 L1408.8,146.5 L1410.2,145.1 L1411.7,143.6 L1413.1,142.2 L1414.6,140.9 L1416.1,139.5 L1417.6,138.1 L1419.1,136.8 L1420.6,135.4 L1422.1,134.1 L1423.7,132.8 L1425.2,131.4 L1426.8,130.1 L1428.3,128.9 L1429.9,127.6 L1431.5,126.3 L1433.1,125.1 L1434.7,123.8 L1436.3,122.6 L1437.9,121.4 L1439.5,120.2 L1441.1,119.0 L1442.8,117.8 L1444.4,116.7 L1446.1,115.5 L1447.8,114.4 L1449.4,113.3 L1451.1,112.1 L1452.8,111.1 L1454.5,110.0 L1456.2,108.9 L1458.0,107.8 L1459.7,106.8 L1461.4,105.8 L1463.2,104.7 L1464.9,103.7 L1466.7,102.8 L1468.4,101.8 L1470.2,100.8 L1472.0,99.9 L1473.7,98.9 L1475.5,98.0 L1477.3,97.1 L1479.1,96.2 L1481.0,95.3 L1482.8,94.4 L1484.6,93.6 L1486.4,92.7 L1488.3,91.9 L1490.1,91.0 L1492.0,90.2 L1493.8,89.4 L1495.7,88.7 L1497.5,87.9 L1499.4,87.1 L1501.3,86.4 L1503.2,85.7 L1505.1,84.9 L1507.0,84.2 L1508.9,83.5 L1510.8,82.9 L1512.7,82.2 L1514.6,81.5 L1516.5,80.9 L1518.4,80.3 L1520.3,79.7 L1522.3,79.1 L1524.2,78.5 L1526.1,77.9 L1528.1,77.3 L1530.0,76.8 L1532.0,76.2 L1533.9,75.7 L1535.9,75.2 L1537.9,74.7 L1539.8,74.2 L1541.8,73.8 L1543.8,73.3 L1545.7,72.9 L1547.7,72.4 L1549.7,72.0 L1551.7,71.6 L1553.7,71.2 L1555.7,70.8 L1557.7,70.4 L1559.6,70.1 L1561.6,69.7 L1563.6,69.4 L1565.6,69.0 L1567.6,68.7 L1569.6,68.4 L1571.6,68.1 L1573.6,67.8 L1575.7,67.5 L1577.7,67.2 L1579.7,67.0 L1581.7,66.7 L1583.7,66.4 L1585.7,66.3 L1587.7,66.2 L1589.8,66.1 L1591.8,66.0 L1593.8,65.9 L1595.8,65.8 L1597.9,65.7 L1599.9,65.6 L1601.9,65.5 L1603.9,65.4 L1606.0,65.4 L1608.0,65.3 L1610.0,65.2 L1612.0,65.1 L1614.1,65.1 L1616.1,65.0 L1618.1,64.9 L1620.1,64.9 L1622.1,64.8 L1624.2,64.8 L1626.2,64.7 L1628.2,64.7 L1630.2,64.6 L1632.2,64.6 L1634.3,64.5 L1636.3,64.5 L1638.3,64.4 L1640.3,64.4 L1642.3,64.4 L1644.3,64.3 L1646.4,64.3 L1648.4,64.2 L1650.4,64.2 L1652.4,64.2 L1654.4,64.1 L1656.4,64.1 L1658.4,64.1 L1660.4,64.0 L1662.5,64.0 L1664.5,64.0 L1666.5,64.0 L1668.5,63.9 L1670.5,63.9 L1672.5,63.9 L1674.5,63.9 L1676.5,63.8 L1678.5,63.8 L1680.5,63.8 L1682.6,63.8 L1684.6,63.7 L1686.6,63.7 L1688.6,63.7 L1690.6,63.7 L1692.6,63.7 L1694.6,63.7 L1696.6,63.6 L1698.6,63.6 L1700.6,63.6 L1702.6,63.6 L1704.6,63.6 L1706.6,63.6 L1708.6,63.5 L1710.6,63.5 L1712.6,63.5 L1714.6,63.5 L1716.7,63.5 L1718.7,63.4 L1720.7,63.4 L1722.7,63.4 L1724.7,63.4 L1726.7,63.4 L1728.7,63.4 L1730.7,63.4 L1732.7,63.4 L1734.7,63.4 L1736.7,63.3 L1738.7,63.3 L1740.7,63.3 L1742.7,63.3 L1744.7,63.3 L1746.7,63.3 L1748.7,63.3 L1750.7,63.3 L1752.7,63.4 L1754.7,63.4 L1756.7,63.4 L1758.7,63.4 L1760.7,63.4 L1762.7,63.4 L1764.7,63.4 L1766.7,63.4 L1768.7,63.4 L1770.7,63.4 L1772.7,63.4 L1774.7,63.4 L1776.7,63.5 L1778.7,63.5 L1780.7,63.5 L1782.7,63.5 L1784.7,63.5 L1786.7,63.5 L1788.7,63.6 L1790.7,63.6 L1792.7,63.6 L1794.7,63.6 L1796.7,63.6 L1798.7,63.6 L1800.7,63.6 L1802.7,63.6 L1804.7,63.6 L1806.7,63.7 L1808.7,63.7 L1810.7,63.7 L1812.7,63.7 L1814.7,63.7 L1816.7,63.7 L1818.7,63.7 L1820.8,63.7 L1822.8,63.7 L1824.8,63.7 L1826.8,63.7 L1828.8,63.8 L1830.8,63.8 L1832.8,63.8 L1834.8,63.8 L1836.8,63.8 L1838.8,63.8 L1840.8,63.8 L1842.8,63.8 L1844.8,63.8 L1846.8,63.8 L1848.8,63.8 L1850.8,63.9 L1852.8,63.9 L1854.8,63.9 L1856.8,63.9 L1858.8,63.9 L1860.8,63.9 L1862.8,63.9 L1864.8,63.9 L1866.8,63.9 L1868.8,63.9 L1870.8,63.9 L1872.8,63.9 L1874.8,63.9 L1876.8,63.9 L1878.8,63.9 L1880.8,64.0 L1882.8,64.0 L1884.8,64.0 L1886.8,64.0 L1888.8,64.0 L1890.8,64.0 L1892.8,64.0 L1894.8,64.0 L1896.8,64.0 L1898.9,64.0 L1900.9,64.0 L1902.9,64.0 L1904.9,64.0 L1906.9,64.0 L1908.9,64.0 L1910.9,64.0 L1912.9,64.0 L1914.9,64.0 L1916.9,64.0 L1918.9,64.0 L1920.9,64.0 L1922.9,64.0 L1924.9,64.0 L1926.9,63.9 L1928.9,63.9 L1931.0,63.9 L1933.0,63.9 L1935.0,63.9 L1937.0,63.9 L1939.0,63.9 L1941.0,63.9 L1943.0,63.9 L1945.0,63.9 L1947.0,63.8 L1949.0,63.8 L1951.0,63.8 L1953.1,63.8 L1955.1,63.8 L1957.1,63.8 L1959.1,63.8 L1961.1,63.7 L1963.1,63.7 L1965.1,63.7 L1967.1,63.7 L1969.2,63.7 L1971.2,63.6 L1973.2,63.6 L1975.2,63.6 L1977.2,63.5 L1979.2,63.5 L1981.2,63.4 L1983.3,63.3" fill="none" stroke="#ff0000" stroke-width="3.0" stroke-linejoin="round" stroke-dasharray="11.3 10.8" stroke-dashoffset="0"/>
<path d="M1229.5,630.0 L1229.8,628.0 L1230.0,626.0 L1230.2,624.0 L1230.5,622.0 L1230.7,620.0 L1230.9,618.0 L1231.1,616.0 L1231.4,614.0 L1231.6,612.0 L1231.8,610.0 L1232.1,608.1 L1232.3,606.1 L1232.5,604.1 L1232.8,602.1 L1233.0,600.1 L1233.2,598.1 L1233.5,596.1 L1233.7,594.1 L1233.9,592.1 L1234.2,590.1 L1234.4,588.1 L1234.7,586.1 L1234.9,584.2 L1235.1,582.2 L1235.4,580.2 L1235.6,578.2 L1235.9,576.2 L1236.1,574.2 L1236.3,572.2 L1236.6,570.2 L1236.8,568.2 L1237.1,566.2 L1237.3,564.2 L1237.6,562.3 L1237.8,560.3 L1238.1,558.3 L1238.3,556.3 L1238.6,554.3 L1238.8,552.3 L1239.1,550.3 L1239.3,548.3 L1239.6,546.3 L1239.8,544.3 L1240.1,542.4 L1240.3,540.4 L1240.6,538.4 L1240.8,536.4 L1241.1,534.4 L1241.4,532.4 L1241.6,530.4 L1241.9,528.4 L1242.1,526.4 L1242.4,524.4 L1242.7,522.5 L1242.9,520.5 L1243.2,518.5 L1243.5,516.5 L1243.7,514.5 L1244.0,512.5 L1244.3,510.5 L1244.5,508.5 L1244.8,506.6 L1245.1,504.6 L1245.3,502.6 L1245.6,500.6 L1245.9,498.6 L1246.2,496.6 L1246.4,494.6 L1246.7,492.6 L1247.0,490.7 L1247.3,488.7 L1247.5,486.7 L1247.8,484.7 L1248.1,482.7 L1248.4,480.7 L1248.7,478.7 L1249.0,476.7 L1249.2,474.8 L1249.5,472.8 L1249.8,470.8 L1250.1,468.8 L1250.4,466.8 L1250.7,464.8 L1251.0,462.9 L1251.3,460.9 L1251.6,458.9 L1251.9,456.9 L1252.1,454.9 L1252.4,452.9 L1252.7,450.9 L1253.0,449.0 L1253.3,447.0 L1253.6,445.0 L1253.9,443.0 L1254.3,441.0 L1254.6,439.0 L1254.9,437.1 L1255.2,435.1 L1255.5,433.1 L1255.8,431.1 L1256.1,429.1 L1256.4,427.1 L1256.7,425.2 L1257.0,423.2 L1257.4,421.2 L1257.7,419.2 L1258.0,417.2 L1258.3,415.3 L1258.6,413.3 L1259.0,411.3 L1259.3,409.3 L1259.6,407.3 L1259.9,405.4 L1260.3,403.4 L1260.6,401.4 L1260.9,399.4 L1261.3,397.5 L1261.6,395.5 L1262.0,393.5 L1262.3,391.5 L1262.7,389.5 L1263.0,387.6 L1263.4,385.6 L1263.7,383.6 L1264.1,381.6 L1264.4,379.7 L1264.8,377.7 L1265.2,375.7 L1265.5,373.8 L1265.9,371.8 L1266.3,369.8 L1266.6,367.9 L1267.0,365.9 L1267.4,363.9 L1267.8,361.9 L1268.2,360.0 L1268.6,358.0 L1269.0,356.1 L1269.4,354.1 L1269.8,352.1 L1270.2,350.2 L1270.6,348.2 L1271.0,346.2 L1271.4,344.3 L1271.9,342.3 L1272.3,340.4 L1272.7,338.4 L1273.1,336.5 L1273.6,334.5 L1274.0,332.5 L1274.5,330.6 L1274.9,328.6 L1275.4,326.7 L1275.8,324.7 L1276.3,322.8 L1276.8,320.8 L1277.2,318.9 L1277.7,316.9 L1278.2,315.0 L1278.7,313.1 L1279.2,311.1 L1279.7,309.2 L1280.1,307.2 L1280.6,305.3 L1281.1,303.3 L1281.6,301.4 L1282.2,299.5 L1282.7,297.5 L1283.2,295.6 L1283.7,293.7 L1284.2,291.7 L1284.7,289.8 L1285.3,287.8 L1285.8,285.9 L1286.3,284.0 L1286.9,282.0 L1287.4,280.1 L1287.9,278.2 L1288.5,276.2 L1289.0,274.3 L1289.6,272.4 L1290.1,270.5 L1290.7,268.5 L1291.2,266.6 L1291.8,264.7 L1292.3,262.7 L1292.9,260.8 L1293.5,258.9 L1294.0,257.0 L1294.6,255.0 L1295.2,253.1 L1295.7,251.2 L1296.3,249.2 L1296.9,247.3 L1297.4,245.4 L1298.0,243.5 L1298.6,241.5 L1299.2,239.6 L1299.8,237.7 L1300.3,235.8 L1300.9,233.8 L1301.5,231.9 L1302.1,230.0 L1302.7,228.1 L1303.2,226.1 L1303.8,224.2 L1304.4,222.3 L1305.0,220.4 L1305.6,218.4 L1306.2,216.5 L1306.8,214.6 L1307.4,212.7 L1308.0,210.8 L1308.6,208.9 L1309.3,206.9 L1309.9,205.0 L1310.5,203.1 L1311.2,201.2 L1311.8,199.3 L1312.5,197.4 L1313.1,195.5 L1313.8,193.7 L1314.5,191.8 L1315.1,189.9 L1315.8,188.0 L1316.5,186.1 L1317.3,184.3 L1318.0,182.4 L1318.7,180.6 L1319.5,178.7 L1320.2,176.9 L1321.0,175.0 L1321.8,173.2 L1322.6,171.4 L1323.4,169.5 L1324.2,167.7 L1325.1,165.9 L1325.9,164.1 L1326.8,162.3 L1327.7,160.6 L1328.6,158.8 L1329.5,157.0 L1330.4,155.3 L1331.4,153.5 L1332.4,151.8 L1333.4,150.0 L1334.4,148.3 L1335.4,146.6 L1336.4,144.9 L1337.5,143.2 L1338.6,141.5 L1339.7,139.8 L1340.8,138.2 L1341.9,136.5 L1343.1,134.9 L1344.3,133.2 L1345.5,131.6 L1346.7,130.0 L1347.9,128.4 L1349.2,126.8 L1350.5,125.3 L1351.8,123.7 L1353.1,122.2 L1354.4,120.7 L1355.8,119.2 L1357.2,117.7 L1358.6,116.2 L1360.0,114.7 L1361.4,113.3 L1362.9,111.9 L1364.3,110.5 L1365.8,109.1 L1367.3,107.7 L1368.9,106.4 L1370.4,105.0 L1372.0,103.7 L1373.5,102.4 L1375.1,101.2 L1376.7,99.9 L1378.4,98.7 L1380.0,97.5 L1381.6,96.3 L1383.3,95.1 L1385.0,94.0 L1386.7,92.9 L1388.4,91.8 L1390.1,90.7 L1391.8,89.7 L1393.6,88.7 L1395.3,87.7 L1397.1,86.7 L1398.9,85.8 L1400.6,84.9 L1402.4,84.0 L1404.2,83.2 L1406.0,82.3 L1407.9,81.5 L1409.7,80.8 L1411.5,80.0 L1413.4,79.3 L1415.2,78.6 L1417.1,77.9 L1418.9,77.3 L1420.8,76.7 L1422.7,76.0 L1424.5,75.5 L1426.4,74.9 L1428.3,74.4 L1430.2,73.9 L1432.1,73.4 L1434.1,72.9 L1436.0,72.4 L1437.9,72.0 L1439.8,71.6 L1441.8,71.2 L1443.7,70.8 L1445.7,70.4 L1447.6,70.1 L1449.6,69.8 L1451.6,69.5 L1453.5,69.2 L1455.5,68.9 L1457.5,68.6 L1459.4,68.3 L1461.4,68.1 L1463.4,67.9 L1465.4,67.7 L1467.4,67.4 L1469.4,67.3 L1471.4,67.1 L1473.4,66.9 L1475.4,66.7 L1477.4,66.6 L1479.4,66.4 L1481.4,66.3 L1483.4,66.2 L1485.5,66.0 L1487.5,65.9 L1489.5,65.8 L1491.5,65.7 L1493.5,65.6 L1495.6,65.5 L1497.6,65.5 L1499.6,65.4 L1501.6,65.3 L1503.6,65.2 L1505.7,65.2 L1507.7,65.1 L1509.7,65.0 L1511.7,64.9 L1513.8,64.9 L1515.8,64.8 L1517.8,64.8 L1519.8,64.7 L1521.8,64.6 L1523.9,64.6 L1525.9,64.5 L1527.9,64.5 L1529.9,64.4 L1531.9,64.4 L1534.0,64.3 L1536.0,64.3 L1538.0,64.2 L1540.0,64.2 L1542.0,64.1 L1544.1,64.1 L1546.1,64.0 L1548.1,64.0 L1550.1,63.9 L1552.1,63.9 L1554.1,63.8 L1556.1,63.8 L1558.2,63.8 L1560.2,63.7 L1562.2,63.7 L1564.2,63.6 L1566.2,63.6 L1568.2,63.6 L1570.2,63.5 L1572.3,63.5 L1574.3,63.5 L1576.3,63.4 L1578.3,63.4 L1580.3,63.4 L1582.3,63.4 L1584.3,63.3 L1586.3,63.3 L1588.3,63.3 L1590.3,63.3 L1592.4,63.2 L1594.4,63.2 L1596.4,63.2 L1598.4,63.2 L1600.4,63.2 L1602.4,63.1 L1604.4,63.1 L1606.4,63.1 L1608.4,63.1 L1610.4,63.1 L1612.4,63.1 L1614.4,63.0 L1616.5,63.0 L1618.5,63.0 L1620.5,63.0 L1622.5,63.0 L1624.5,63.0 L1626.5,63.0 L1628.5,63.0 L1630.5,63.0 L1632.5,62.9 L1634.5,62.9 L1636.5,62.9 L1638.5,62.9 L1640.5,62.9 L1642.5,62.9 L1644.5,62.9 L1646.5,62.9 L1648.5,62.9 L1650.5,62.9 L1652.5,62.9 L1654.5,62.9 L1656.5,62.9 L1658.5,62.9 L1660.5,62.9 L1662.5,62.9 L1664.5,62.9 L1666.5,62.9 L1668.5,62.9 L1670.6,62.9 L1672.6,62.9 L1674.6,62.9 L1676.6,62.9 L1678.6,62.9 L1680.6,63.0 L1682.6,63.0 L1684.6,63.0 L1686.6,63.0 L1688.6,63.0 L1690.6,63.0 L1692.6,63.0 L1694.6,63.0 L1696.6,63.0 L1698.6,63.0 L1700.6,63.0 L1702.6,63.1 L1704.6,63.1 L1706.6,63.1 L1708.6,63.1 L1710.6,63.1 L1712.6,63.1 L1714.6,63.1 L1716.6,63.1 L1718.6,63.1 L1720.6,63.2 L1722.6,63.2 L1724.6,63.2 L1726.6,63.2 L1728.5,63.2 L1730.5,63.2 L1732.5,63.2 L1734.5,63.3 L1736.5,63.3 L1738.5,63.3 L1740.5,63.3 L1742.5,63.3 L1744.5,63.3 L1746.5,63.4 L1748.5,63.4 L1750.5,63.4 L1752.5,63.4 L1754.5,63.4 L1756.5,63.4 L1758.5,63.5 L1760.5,63.5 L1762.5,63.5 L1764.5,63.5 L1766.5,63.5 L1768.5,63.5 L1770.5,63.6 L1772.5,63.6 L1774.5,63.6 L1776.5,63.6 L1778.5,63.6 L1780.5,63.6 L1782.5,63.7 L1784.5,63.7 L1786.5,63.7 L1788.5,63.7 L1790.5,63.7 L1792.5,63.7 L1794.5,63.8 L1796.5,63.8 L1798.5,63.8 L1800.5,63.8 L1802.5,63.8 L1804.5,63.8 L1806.5,63.8 L1808.5,63.9 L1810.5,63.9 L1812.5,63.9 L1814.5,63.9 L1816.5,63.9 L1818.5,63.9 L1820.5,64.0 L1822.5,64.0 L1824.5,64.0 L1826.5,64.0 L1828.5,64.0 L1830.5,64.0 L1832.5,64.0 L1834.5,64.0 L1836.5,64.1 L1838.5,64.1 L1840.5,64.1 L1842.5,64.1 L1844.5,64.1 L1846.5,64.1 L1848.5,64.1 L1850.5,64.1 L1852.5,64.1 L1854.6,64.1 L1856.6,64.2 L1858.6,64.2 L1860.6,64.2 L1862.6,64.2 L1864.6,64.2 L1866.6,64.2 L1868.6,64.2 L1870.6,64.2 L1872.6,64.2 L1874.6,64.2 L1876.6,64.2 L1878.6,64.2 L1880.6,64.2 L1882.6,64.2 L1884.6,64.2 L1886.6,64.2 L1888.6,64.2 L1890.6,64.2 L1892.7,64.2 L1894.7,64.2 L1896.7,64.2 L1898.7,64.2 L1900.7,64.2 L1902.7,64.2 L1904.7,64.2 L1906.7,64.2 L1908.7,64.2 L1910.7,64.2 L1912.7,64.2 L1914.8,64.2 L1916.8,64.2 L1918.8,64.2 L1920.8,64.2 L1922.8,64.1 L1924.8,64.1 L1926.8,64.1 L1928.8,64.1 L1930.8,64.1 L1932.9,64.1 L1934.9,64.1 L1936.9,64.0 L1938.9,64.0 L1940.9,64.0 L1942.9,64.0 L1944.9,64.0 L1947.0,64.0 L1949.0,63.9 L1951.0,63.9 L1953.0,63.9 L1955.0,63.9 L1957.0,63.8 L1959.1,63.8 L1961.1,63.8 L1963.1,63.8 L1965.1,63.7 L1967.1,63.7 L1969.1,63.7 L1971.2,63.7 L1973.2,63.6 L1975.2,63.6 L1977.2,63.6 L1979.2,63.5 L1981.3,63.5 L1983.3,63.4" fill="none" stroke="#000" stroke-width="2.6" stroke-linejoin="round"/>
<path d="M1229.5,630.0 L1229.7,628.0 L1230.0,626.0 L1230.3,624.0 L1230.6,622.1 L1230.9,620.1 L1231.2,618.1 L1231.5,616.1 L1231.8,614.1 L1232.2,612.1 L1232.5,610.1 L1232.8,608.1 L1233.1,606.1 L1233.4,604.2 L1233.8,602.2 L1234.1,600.2 L1234.4,598.2 L1234.7,596.2 L1235.1,594.2 L1235.4,592.3 L1235.7,590.3 L1236.1,588.3 L1236.4,586.3 L1236.8,584.3 L1237.1,582.4 L1237.5,580.4 L1237.8,578.4 L1238.2,576.4 L1238.5,574.4 L1238.9,572.5 L1239.3,570.5 L1239.6,568.5 L1240.0,566.6 L1240.4,564.6 L1240.7,562.6 L1241.1,560.6 L1241.5,558.7 L1241.9,556.7 L1242.3,554.7 L1242.6,552.8 L1243.0,550.8 L1243.4,548.8 L1243.8,546.9 L1244.2,544.9 L1244.6,542.9 L1245.0,541.0 L1245.4,539.0 L1245.8,537.0 L1246.2,535.1 L1246.6,533.1 L1247.0,531.2 L1247.4,529.2 L1247.8,527.2 L1248.2,525.3 L1248.7,523.3 L1249.1,521.4 L1249.5,519.4 L1249.9,517.4 L1250.3,515.5 L1250.8,513.5 L1251.2,511.6 L1251.6,509.6 L1252.1,507.7 L1252.5,505.7 L1252.9,503.8 L1253.4,501.8 L1253.8,499.9 L1254.3,497.9 L1254.7,496.0 L1255.2,494.0 L1255.6,492.1 L1256.1,490.1 L1256.5,488.2 L1257.0,486.2 L1257.5,484.3 L1257.9,482.3 L1258.4,480.4 L1258.9,478.4 L1259.3,476.5 L1259.8,474.5 L1260.3,472.6 L1260.7,470.6 L1261.2,468.7 L1261.7,466.7 L1262.2,464.8 L1262.7,462.8 L1263.2,460.9 L1263.6,459.0 L1264.1,457.0 L1264.6,455.1 L1265.1,453.1 L1265.6,451.2 L1266.1,449.2 L1266.6,447.3 L1267.1,445.4 L1267.6,443.4 L1268.1,441.5 L1268.6,439.5 L1269.2,437.6 L1269.7,435.7 L1270.2,433.7 L1270.7,431.8 L1271.2,429.8 L1271.7,427.9 L1272.3,426.0 L1272.8,424.0 L1273.3,422.1 L1273.9,420.2 L1274.4,418.2 L1274.9,416.3 L1275.5,414.3 L1276.0,412.4 L1276.5,410.5 L1277.1,408.5 L1277.6,406.6 L1278.2,404.7 L1278.7,402.7 L1279.3,400.8 L1279.8,398.9 L1280.4,396.9 L1280.9,395.0 L1281.5,393.1 L1282.1,391.1 L1282.6,389.2 L1283.2,387.3 L1283.8,385.3 L1284.3,383.4 L1284.9,381.5 L1285.5,379.6 L1286.1,377.6 L1286.7,375.7 L1287.3,373.8 L1287.8,371.9 L1288.4,369.9 L1289.0,368.0 L1289.7,366.1 L1290.3,364.2 L1290.9,362.3 L1291.5,360.3 L1292.1,358.4 L1292.8,356.5 L1293.4,354.6 L1294.0,352.7 L1294.7,350.8 L1295.3,348.9 L1295.9,347.0 L1296.6,345.1 L1297.2,343.2 L1297.9,341.3 L1298.6,339.4 L1299.2,337.5 L1299.9,335.6 L1300.6,333.7 L1301.3,331.8 L1301.9,329.9 L1302.6,328.0 L1303.3,326.1 L1304.0,324.2 L1304.7,322.3 L1305.4,320.4 L1306.1,318.6 L1306.8,316.7 L1307.6,314.8 L1308.3,312.9 L1309.0,311.0 L1309.7,309.2 L1310.5,307.3 L1311.2,305.4 L1312.0,303.6 L1312.7,301.7 L1313.5,299.9 L1314.2,298.0 L1315.0,296.1 L1315.8,294.3 L1316.6,292.4 L1317.4,290.6 L1318.1,288.7 L1318.9,286.9 L1319.7,285.1 L1320.6,283.2 L1321.4,281.4 L1322.2,279.6 L1323.0,277.7 L1323.8,275.9 L1324.7,274.1 L1325.5,272.3 L1326.4,270.4 L1327.2,268.6 L1328.1,266.8 L1329.0,265.0 L1329.8,263.2 L1330.7,261.4 L1331.6,259.6 L1332.5,257.8 L1333.4,256.0 L1334.3,254.2 L1335.2,252.4 L1336.2,250.7 L1337.1,248.9 L1338.0,247.1 L1339.0,245.3 L1339.9,243.6 L1340.9,241.8 L1341.8,240.0 L1342.8,238.3 L1343.8,236.5 L1344.8,234.8 L1345.7,233.0 L1346.7,231.3 L1347.8,229.5 L1348.8,227.8 L1349.8,226.1 L1350.8,224.3 L1351.9,222.6 L1352.9,220.9 L1354.0,219.2 L1355.0,217.5 L1356.1,215.8 L1357.2,214.1 L1358.2,212.4 L1359.3,210.7 L1360.4,209.0 L1361.5,207.3 L1362.7,205.6 L1363.8,203.9 L1364.9,202.2 L1366.1,200.6 L1367.2,198.9 L1368.4,197.3 L1369.5,195.6 L1370.7,193.9 L1371.9,192.3 L1373.1,190.7 L1374.3,189.0 L1375.5,187.4 L1376.7,185.8 L1377.9,184.2 L1379.2,182.6 L1380.4,181.0 L1381.7,179.4 L1382.9,177.8 L1384.2,176.2 L1385.5,174.6 L1386.8,173.1 L1388.1,171.5 L1389.4,170.0 L1390.7,168.4 L1392.0,166.9 L1393.3,165.3 L1394.7,163.8 L1396.0,162.3 L1397.4,160.8 L1398.7,159.3 L1400.1,157.8 L1401.5,156.3 L1402.9,154.9 L1404.3,153.4 L1405.7,152.0 L1407.1,150.5 L1408.5,149.1 L1410.0,147.7 L1411.4,146.3 L1412.8,144.9 L1414.3,143.5 L1415.8,142.1 L1417.3,140.7 L1418.7,139.4 L1420.2,138.0 L1421.7,136.7 L1423.3,135.4 L1424.8,134.0 L1426.3,132.7 L1427.9,131.5 L1429.4,130.2 L1431.0,128.9 L1432.5,127.7 L1434.1,126.4 L1435.7,125.2 L1437.3,124.0 L1438.9,122.8 L1440.5,121.6 L1442.1,120.4 L1443.8,119.2 L1445.4,118.1 L1447.1,116.9 L1448.7,115.8 L1450.4,114.7 L1452.1,113.6 L1453.7,112.5 L1455.4,111.4 L1457.1,110.3 L1458.8,109.3 L1460.6,108.3 L1462.3,107.2 L1464.0,106.2 L1465.7,105.2 L1467.5,104.2 L1469.2,103.3 L1471.0,102.3 L1472.8,101.4 L1474.5,100.4 L1476.3,99.5 L1478.1,98.6 L1479.9,97.7 L1481.7,96.8 L1483.5,95.9 L1485.3,95.1 L1487.1,94.3 L1489.0,93.4 L1490.8,92.6 L1492.6,91.8 L1494.5,91.0 L1496.3,90.2 L1498.2,89.5 L1500.0,88.7 L1501.9,88.0 L1503.8,87.2 L1505.7,86.5 L1507.5,85.8 L1509.4,85.1 L1511.3,84.5 L1513.2,83.8 L1515.1,83.2 L1517.0,82.5 L1518.9,81.9 L1520.9,81.3 L1522.8,80.7 L1524.7,80.1 L1526.6,79.5 L1528.6,79.0 L1530.5,78.4 L1532.4,77.9 L1534.4,77.4 L1536.3,76.9 L1538.3,76.4 L1540.2,75.9 L1542.2,75.4 L1544.2,75.0 L1546.1,74.5 L1548.1,74.1 L1550.1,73.7 L1552.0,73.3 L1554.0,72.9 L1556.0,72.5 L1558.0,72.1 L1559.9,71.7 L1561.9,71.4 L1563.9,71.0 L1565.9,70.7 L1567.9,70.4 L1569.9,70.1 L1571.9,69.8 L1573.9,69.5 L1575.9,69.2 L1577.9,68.9 L1579.9,68.6 L1581.9,68.4 L1583.9,68.1 L1585.9,67.9 L1587.9,67.8 L1589.9,67.6 L1592.0,67.4 L1594.0,67.3 L1596.0,67.1 L1598.0,67.0 L1600.0,66.8 L1602.0,66.7 L1604.0,66.6 L1606.1,66.5 L1608.1,66.3 L1610.1,66.2 L1612.1,66.1 L1614.1,66.0 L1616.1,65.9 L1618.2,65.8 L1620.2,65.7 L1622.2,65.6 L1624.2,65.5 L1626.2,65.4 L1628.2,65.3 L1630.3,65.3 L1632.3,65.2 L1634.3,65.1 L1636.3,65.0 L1638.3,65.0 L1640.3,64.9 L1642.3,64.8 L1644.4,64.8 L1646.4,64.7 L1648.4,64.6 L1650.4,64.6 L1652.4,64.5 L1654.4,64.5 L1656.4,64.4 L1658.4,64.4 L1660.5,64.3 L1662.5,64.3 L1664.5,64.2 L1666.5,64.2 L1668.5,64.1 L1670.5,64.1 L1672.5,64.1 L1674.5,64.0 L1676.5,64.0 L1678.5,63.9 L1680.5,63.9 L1682.6,63.9 L1684.6,63.8 L1686.6,63.8 L1688.6,63.8 L1690.6,63.7 L1692.6,63.7 L1694.6,63.7 L1696.6,63.7 L1698.6,63.6 L1700.6,63.6 L1702.6,63.6 L1704.6,63.6 L1706.6,63.6 L1708.6,63.5 L1710.6,63.5 L1712.6,63.5 L1714.6,63.5 L1716.7,63.5 L1718.7,63.4 L1720.7,63.4 L1722.7,63.4 L1724.7,63.4 L1726.7,63.4 L1728.7,63.4 L1730.7,63.4 L1732.7,63.4 L1734.7,63.4 L1736.7,63.3 L1738.7,63.3 L1740.7,63.3 L1742.7,63.3 L1744.7,63.3 L1746.7,63.3 L1748.7,63.3 L1750.7,63.3 L1752.7,63.4 L1754.7,63.4 L1756.7,63.4 L1758.7,63.4 L1760.7,63.4 L1762.7,63.4 L1764.7,63.4 L1766.7,63.4 L1768.7,63.4 L1770.7,63.4 L1772.7,63.4 L1774.7,63.4 L1776.7,63.5 L1778.7,63.5 L1780.7,63.5 L1782.7,63.5 L1784.7,63.5 L1786.7,63.5 L1788.7,63.6 L1790.7,63.6 L1792.7,63.6 L1794.7,63.6 L1796.7,63.6 L1798.7,63.6 L1800.7,63.6 L1802.7,63.7 L1804.7,63.7 L1806.7,63.7 L1808.7,63.7 L1810.7,63.7 L1812.7,63.7 L1814.7,63.7 L1816.7,63.8 L1818.7,63.8 L1820.8,63.8 L1822.8,63.8 L1824.8,63.8 L1826.8,63.8 L1828.8,63.9 L1830.8,63.9 L1832.8,63.9 L1834.8,63.9 L1836.8,63.9 L1838.8,63.9 L1840.8,63.9 L1842.8,64.0 L1844.8,64.0 L1846.8,64.0 L1848.8,64.0 L1850.8,64.0 L1852.8,64.0 L1854.8,64.0 L1856.8,64.1 L1858.8,64.1 L1860.8,64.1 L1862.8,64.1 L1864.8,64.1 L1866.8,64.1 L1868.8,64.1 L1870.8,64.1 L1872.8,64.1 L1874.8,64.2 L1876.8,64.2 L1878.8,64.2 L1880.8,64.2 L1882.8,64.2 L1884.8,64.2 L1886.8,64.2 L1888.8,64.2 L1890.8,64.2 L1892.8,64.2 L1894.8,64.2 L1896.8,64.2 L1898.9,64.2 L1900.9,64.2 L1902.9,64.2 L1904.9,64.2 L1906.9,64.2 L1908.9,64.2 L1910.9,64.2 L1912.9,64.2 L1914.9,64.2 L1916.9,64.2 L1918.9,64.2 L1920.9,64.2 L1922.9,64.2 L1924.9,64.2 L1926.9,64.2 L1928.9,64.2 L1931.0,64.1 L1933.0,64.1 L1935.0,64.1 L1937.0,64.1 L1939.0,64.1 L1941.0,64.1 L1943.0,64.0 L1945.0,64.0 L1947.0,64.0 L1949.0,64.0 L1951.0,64.0 L1953.1,63.9 L1955.1,63.9 L1957.1,63.9 L1959.1,63.9 L1961.1,63.8 L1963.1,63.8 L1965.1,63.8 L1967.1,63.7 L1969.2,63.7 L1971.2,63.7 L1973.2,63.6 L1975.2,63.6 L1977.2,63.5 L1979.2,63.5 L1981.2,63.4 L1983.3,63.3" fill="none" stroke="#000" stroke-width="3.0" stroke-linejoin="round" stroke-dasharray="11.3 10.8" stroke-dashoffset="0"/>
<path d="M1229.5,630.0 L1229.7,628.0 L1229.9,626.0 L1230.1,624.0 L1230.3,622.0 L1230.5,620.0 L1230.7,618.0 L1230.9,616.0 L1231.1,614.0 L1231.3,612.0 L1231.5,610.0 L1231.7,608.0 L1232.0,606.0 L1232.2,604.0 L1232.4,602.1 L1232.6,600.1 L1232.8,598.1 L1233.0,596.1 L1233.2,594.1 L1233.4,592.1 L1233.6,590.1 L1233.8,588.1 L1234.1,586.1 L1234.3,584.1 L1234.5,582.1 L1234.7,580.1 L1234.9,578.1 L1235.1,576.1 L1235.4,574.1 L1235.6,572.2 L1235.8,570.2 L1236.0,568.2 L1236.2,566.2 L1236.5,564.2 L1236.7,562.2 L1236.9,560.2 L1237.1,558.2 L1237.4,556.2 L1237.6,554.2 L1237.8,552.2 L1238.1,550.2 L1238.3,548.3 L1238.5,546.3 L1238.8,544.3 L1239.0,542.3 L1239.2,540.3 L1239.5,538.3 L1239.7,536.3 L1240.0,534.3 L1240.2,532.3 L1240.4,530.3 L1240.7,528.4 L1240.9,526.4 L1241.2,524.4 L1241.4,522.4 L1241.7,520.4 L1241.9,518.4 L1242.1,516.4 L1242.4,514.4 L1242.6,512.4 L1242.9,510.5 L1243.2,508.5 L1243.4,506.5 L1243.7,504.5 L1243.9,502.5 L1244.2,500.5 L1244.4,498.5 L1244.7,496.5 L1245.0,494.6 L1245.2,492.6 L1245.5,490.6 L1245.7,488.6 L1246.0,486.6 L1246.3,484.6 L1246.5,482.6 L1246.8,480.7 L1247.1,478.7 L1247.4,476.7 L1247.6,474.7 L1247.9,472.7 L1248.2,470.7 L1248.5,468.7 L1248.7,466.7 L1249.0,464.8 L1249.3,462.8 L1249.6,460.8 L1249.9,458.8 L1250.1,456.8 L1250.4,454.8 L1250.7,452.9 L1251.0,450.9 L1251.3,448.9 L1251.6,446.9 L1251.9,444.9 L1252.2,442.9 L1252.5,440.9 L1252.8,439.0 L1253.1,437.0 L1253.4,435.0 L1253.7,433.0 L1254.0,431.0 L1254.3,429.0 L1254.6,427.1 L1254.9,425.1 L1255.2,423.1 L1255.5,421.1 L1255.8,419.1 L1256.1,417.1 L1256.4,415.2 L1256.7,413.2 L1257.1,411.2 L1257.4,409.2 L1257.7,407.2 L1258.0,405.3 L1258.3,403.3 L1258.7,401.3 L1259.0,399.3 L1259.3,397.3 L1259.7,395.4 L1260.0,393.4 L1260.3,391.4 L1260.7,389.4 L1261.0,387.4 L1261.4,385.5 L1261.7,383.5 L1262.0,381.5 L1262.4,379.5 L1262.8,377.6 L1263.1,375.6 L1263.5,373.6 L1263.8,371.6 L1264.2,369.7 L1264.6,367.7 L1264.9,365.7 L1265.3,363.8 L1265.7,361.8 L1266.1,359.8 L1266.4,357.9 L1266.8,355.9 L1267.2,353.9 L1267.6,352.0 L1268.0,350.0 L1268.4,348.0 L1268.8,346.1 L1269.2,344.1 L1269.6,342.2 L1270.0,340.2 L1270.4,338.2 L1270.9,336.3 L1271.3,334.3 L1271.7,332.4 L1272.1,330.4 L1272.6,328.5 L1273.0,326.5 L1273.4,324.6 L1273.9,322.6 L1274.3,320.7 L1274.8,318.7 L1275.2,316.8 L1275.7,314.8 L1276.2,312.9 L1276.6,311.0 L1277.1,309.0 L1277.6,307.1 L1278.0,305.1 L1278.5,303.2 L1279.0,301.3 L1279.5,299.3 L1280.0,297.4 L1280.5,295.5 L1281.0,293.5 L1281.4,291.6 L1281.9,289.6 L1282.5,287.7 L1283.0,285.8 L1283.5,283.8 L1284.0,281.9 L1284.5,280.0 L1285.0,278.1 L1285.5,276.1 L1286.1,274.2 L1286.6,272.3 L1287.1,270.3 L1287.6,268.4 L1288.2,266.5 L1288.7,264.5 L1289.3,262.6 L1289.8,260.7 L1290.3,258.8 L1290.9,256.8 L1291.4,254.9 L1292.0,253.0 L1292.5,251.0 L1293.1,249.1 L1293.7,247.2 L1294.2,245.2 L1294.8,243.3 L1295.3,241.4 L1295.9,239.5 L1296.5,237.5 L1297.1,235.6 L1297.6,233.7 L1298.2,231.7 L1298.8,229.8 L1299.4,227.9 L1299.9,225.9 L1300.5,224.0 L1301.1,222.1 L1301.7,220.2 L1302.3,218.2 L1302.9,216.3 L1303.5,214.4 L1304.1,212.4 L1304.7,210.5 L1305.4,208.6 L1306.0,206.7 L1306.6,204.8 L1307.3,202.9 L1307.9,200.9 L1308.6,199.0 L1309.2,197.1 L1309.9,195.2 L1310.6,193.3 L1311.3,191.4 L1312.0,189.6 L1312.7,187.7 L1313.4,185.8 L1314.1,183.9 L1314.9,182.0 L1315.6,180.2 L1316.4,178.3 L1317.1,176.5 L1317.9,174.6 L1318.7,172.8 L1319.5,171.0 L1320.4,169.1 L1321.2,167.3 L1322.1,165.5 L1322.9,163.7 L1323.8,161.9 L1324.7,160.1 L1325.6,158.4 L1326.5,156.6 L1327.5,154.8 L1328.4,153.1 L1329.4,151.3 L1330.4,149.6 L1331.4,147.9 L1332.5,146.2 L1333.5,144.5 L1334.6,142.8 L1335.7,141.1 L1336.8,139.4 L1337.9,137.8 L1339.0,136.1 L1340.2,134.5 L1341.4,132.9 L1342.6,131.2 L1343.8,129.7 L1345.0,128.1 L1346.3,126.5 L1347.5,124.9 L1348.8,123.4 L1350.1,121.9 L1351.5,120.4 L1352.8,118.9 L1354.1,117.4 L1355.5,115.9 L1356.9,114.5 L1358.3,113.0 L1359.7,111.6 L1361.2,110.2 L1362.6,108.9 L1364.1,107.5 L1365.6,106.2 L1367.1,104.8 L1368.6,103.5 L1370.1,102.3 L1371.7,101.0 L1373.3,99.7 L1374.8,98.5 L1376.4,97.3 L1378.0,96.1 L1379.7,95.0 L1381.3,93.8 L1383.0,92.7 L1384.6,91.6 L1386.3,90.6 L1388.0,89.5 L1389.7,88.5 L1391.4,87.5 L1393.2,86.5 L1394.9,85.6 L1396.7,84.6 L1398.4,83.7 L1400.2,82.9 L1402.0,82.0 L1403.8,81.2 L1405.6,80.4 L1407.5,79.6 L1409.3,78.9 L1411.2,78.1 L1413.0,77.4 L1414.9,76.8 L1416.8,76.1 L1418.7,75.5 L1420.6,74.9 L1422.5,74.3 L1424.4,73.7 L1426.4,73.2 L1428.3,72.7 L1430.2,72.2 L1432.2,71.7 L1434.1,71.2 L1436.1,70.8 L1438.0,70.4 L1440.0,70.0 L1442.0,69.6 L1444.0,69.2 L1445.9,68.9 L1447.9,68.5 L1449.9,68.2 L1451.9,67.9 L1453.9,67.6 L1455.9,67.4 L1457.9,67.1 L1459.9,66.9 L1461.9,66.7 L1463.8,66.5 L1465.8,66.3 L1467.9,66.1 L1469.9,65.9 L1471.9,65.8 L1473.9,65.6 L1475.9,65.5 L1477.9,65.4 L1479.9,65.3 L1481.9,65.2 L1483.9,65.1 L1485.9,65.0 L1487.9,64.9 L1489.9,64.8 L1492.0,64.7 L1494.0,64.7 L1496.0,64.6 L1498.0,64.6 L1500.0,64.5 L1502.0,64.5 L1504.1,64.4 L1506.1,64.4 L1508.1,64.3 L1510.1,64.3 L1512.1,64.3 L1514.1,64.2 L1516.1,64.2 L1518.2,64.2 L1520.2,64.1 L1522.2,64.1 L1524.2,64.1 L1526.2,64.0 L1528.2,64.0 L1530.2,64.0 L1532.2,63.9 L1534.3,63.9 L1536.3,63.9 L1538.3,63.8 L1540.3,63.8 L1542.3,63.8 L1544.3,63.8 L1546.3,63.7 L1548.3,63.7 L1550.4,63.7 L1552.4,63.7 L1554.4,63.6 L1556.4,63.6 L1558.4,63.6 L1560.4,63.6 L1562.4,63.6 L1564.4,63.5 L1566.4,63.5 L1568.4,63.5 L1570.4,63.5 L1572.5,63.5 L1574.5,63.4 L1576.5,63.4 L1578.5,63.4 L1580.5,63.4 L1582.5,63.4 L1584.5,63.4 L1586.5,63.3 L1588.5,63.3 L1590.5,63.3 L1592.5,63.3 L1594.5,63.3 L1596.5,63.3 L1598.5,63.3 L1600.6,63.3 L1602.6,63.3 L1604.6,63.2 L1606.6,63.2 L1608.6,63.2 L1610.6,63.2 L1612.6,63.2 L1614.6,63.2 L1616.6,63.2 L1618.6,63.2 L1620.6,63.2 L1622.6,63.2 L1624.6,63.2 L1626.6,63.2 L1628.6,63.2 L1630.6,63.2 L1632.6,63.2 L1634.6,63.2 L1636.6,63.2 L1638.6,63.1 L1640.6,63.1 L1642.6,63.1 L1644.6,63.1 L1646.6,63.1 L1648.6,63.1 L1650.6,63.1 L1652.7,63.1 L1654.7,63.1 L1656.7,63.1 L1658.7,63.1 L1660.7,63.1 L1662.7,63.2 L1664.7,63.2 L1666.7,63.2 L1668.7,63.2 L1670.7,63.2 L1672.7,63.2 L1674.7,63.2 L1676.7,63.2 L1678.7,63.2 L1680.7,63.2 L1682.7,63.2 L1684.7,63.2 L1686.7,63.2 L1688.7,63.2 L1690.7,63.2 L1692.7,63.2 L1694.7,63.2 L1696.7,63.2 L1698.7,63.2 L1700.7,63.2 L1702.7,63.2 L1704.7,63.3 L1706.7,63.3 L1708.7,63.3 L1710.7,63.3 L1712.7,63.3 L1714.7,63.3 L1716.7,63.3 L1718.7,63.3 L1720.7,63.3 L1722.7,63.3 L1724.7,63.3 L1726.7,63.3 L1728.7,63.3 L1730.7,63.4 L1732.7,63.4 L1734.7,63.4 L1736.7,63.4 L1738.7,63.4 L1740.7,63.4 L1742.7,63.4 L1744.7,63.4 L1746.7,63.4 L1748.7,63.4 L1750.7,63.5 L1752.7,63.5 L1754.7,63.5 L1756.7,63.5 L1758.7,63.5 L1760.7,63.5 L1762.7,63.5 L1764.7,63.5 L1766.7,63.5 L1768.7,63.5 L1770.7,63.6 L1772.7,63.6 L1774.7,63.6 L1776.7,63.6 L1778.7,63.6 L1780.7,63.6 L1782.7,63.6 L1784.7,63.6 L1786.7,63.6 L1788.7,63.6 L1790.7,63.7 L1792.7,63.7 L1794.7,63.7 L1796.7,63.7 L1798.7,63.7 L1800.7,63.7 L1802.7,63.7 L1804.7,63.7 L1806.7,63.7 L1808.7,63.7 L1810.7,63.7 L1812.7,63.8 L1814.7,63.8 L1816.7,63.8 L1818.7,63.8 L1820.7,63.8 L1822.7,63.8 L1824.7,63.8 L1826.7,63.8 L1828.7,63.8 L1830.7,63.8 L1832.7,63.8 L1834.7,63.8 L1836.7,63.9 L1838.7,63.9 L1840.7,63.9 L1842.7,63.9 L1844.7,63.9 L1846.7,63.9 L1848.7,63.9 L1850.7,63.9 L1852.7,63.9 L1854.7,63.9 L1856.7,63.9 L1858.7,63.9 L1860.7,63.9 L1862.7,63.9 L1864.8,63.9 L1866.8,63.9 L1868.8,63.9 L1870.8,63.9 L1872.8,63.9 L1874.8,63.9 L1876.8,63.9 L1878.8,63.9 L1880.8,63.9 L1882.8,63.9 L1884.8,63.9 L1886.8,63.9 L1888.8,63.9 L1890.8,63.9 L1892.8,63.9 L1894.8,63.9 L1896.8,63.9 L1898.8,63.9 L1900.8,63.9 L1902.8,63.9 L1904.9,63.9 L1906.9,63.9 L1908.9,63.9 L1910.9,63.9 L1912.9,63.9 L1914.9,63.9 L1916.9,63.9 L1918.9,63.9 L1920.9,63.9 L1922.9,63.9 L1924.9,63.9 L1926.9,63.9 L1929.0,63.9 L1931.0,63.9 L1933.0,63.9 L1935.0,63.8 L1937.0,63.8 L1939.0,63.8 L1941.0,63.8 L1943.0,63.8 L1945.0,63.8 L1947.0,63.8 L1949.1,63.8 L1951.1,63.8 L1953.1,63.7 L1955.1,63.7 L1957.1,63.7 L1959.1,63.7 L1961.1,63.7 L1963.1,63.7 L1965.1,63.6 L1967.2,63.6 L1969.2,63.6 L1971.2,63.6 L1973.2,63.6 L1975.2,63.5 L1977.2,63.5 L1979.2,63.5 L1981.3,63.5 L1983.3,63.5" fill="none" stroke="#00ff00" stroke-width="3.7" stroke-linejoin="round"/>
<path d="M1229.5,630.0 L1229.8,628.0 L1230.1,626.0 L1230.4,624.1 L1230.7,622.1 L1231.0,620.1 L1231.4,618.1 L1231.7,616.1 L1232.0,614.1 L1232.3,612.1 L1232.7,610.1 L1233.0,608.2 L1233.3,606.2 L1233.7,604.2 L1234.0,602.2 L1234.4,600.2 L1234.7,598.2 L1235.0,596.3 L1235.4,594.3 L1235.7,592.3 L1236.1,590.3 L1236.5,588.4 L1236.8,586.4 L1237.2,584.4 L1237.5,582.4 L1237.9,580.5 L1238.3,578.5 L1238.6,576.5 L1239.0,574.5 L1239.4,572.6 L1239.8,570.6 L1240.1,568.6 L1240.5,566.7 L1240.9,564.7 L1241.3,562.7 L1241.7,560.8 L1242.1,558.8 L1242.4,556.8 L1242.8,554.9 L1243.2,552.9 L1243.6,550.9 L1244.0,549.0 L1244.4,547.0 L1244.8,545.0 L1245.2,543.1 L1245.6,541.1 L1246.1,539.2 L1246.5,537.2 L1246.9,535.2 L1247.3,533.3 L1247.7,531.3 L1248.1,529.4 L1248.6,527.4 L1249.0,525.4 L1249.4,523.5 L1249.9,521.5 L1250.3,519.6 L1250.7,517.6 L1251.2,515.7 L1251.6,513.7 L1252.0,511.8 L1252.5,509.8 L1252.9,507.9 L1253.4,505.9 L1253.8,504.0 L1254.3,502.0 L1254.7,500.1 L1255.2,498.1 L1255.6,496.2 L1256.1,494.2 L1256.6,492.3 L1257.0,490.3 L1257.5,488.4 L1258.0,486.4 L1258.4,484.5 L1258.9,482.5 L1259.4,480.6 L1259.9,478.7 L1260.3,476.7 L1260.8,474.8 L1261.3,472.8 L1261.8,470.9 L1262.3,468.9 L1262.8,467.0 L1263.3,465.1 L1263.8,463.1 L1264.3,461.2 L1264.7,459.2 L1265.2,457.3 L1265.8,455.4 L1266.3,453.4 L1266.8,451.5 L1267.3,449.5 L1267.8,447.6 L1268.3,445.7 L1268.8,443.7 L1269.3,441.8 L1269.8,439.9 L1270.4,437.9 L1270.9,436.0 L1271.4,434.1 L1271.9,432.1 L1272.5,430.2 L1273.0,428.3 L1273.5,426.3 L1274.1,424.4 L1274.6,422.5 L1275.1,420.5 L1275.7,418.6 L1276.2,416.7 L1276.8,414.7 L1277.3,412.8 L1277.9,410.9 L1278.4,408.9 L1279.0,407.0 L1279.5,405.1 L1280.1,403.1 L1280.7,401.2 L1281.2,399.3 L1281.8,397.4 L1282.4,395.4 L1282.9,393.5 L1283.5,391.6 L1284.1,389.6 L1284.6,387.7 L1285.2,385.8 L1285.8,383.9 L1286.4,381.9 L1287.0,380.0 L1287.6,378.1 L1288.2,376.2 L1288.8,374.3 L1289.4,372.3 L1290.0,370.4 L1290.6,368.5 L1291.2,366.6 L1291.8,364.7 L1292.4,362.8 L1293.0,360.8 L1293.6,358.9 L1294.3,357.0 L1294.9,355.1 L1295.5,353.2 L1296.2,351.3 L1296.8,349.4 L1297.5,347.5 L1298.1,345.6 L1298.8,343.7 L1299.4,341.8 L1300.1,339.9 L1300.7,338.0 L1301.4,336.1 L1302.1,334.2 L1302.8,332.3 L1303.4,330.4 L1304.1,328.5 L1304.8,326.6 L1305.5,324.8 L1306.2,322.9 L1306.9,321.0 L1307.6,319.1 L1308.3,317.2 L1309.0,315.4 L1309.8,313.5 L1310.5,311.6 L1311.2,309.8 L1312.0,307.9 L1312.7,306.0 L1313.5,304.2 L1314.2,302.3 L1315.0,300.5 L1315.7,298.6 L1316.5,296.8 L1317.3,294.9 L1318.0,293.1 L1318.8,291.2 L1319.6,289.4 L1320.4,287.5 L1321.2,285.7 L1322.0,283.9 L1322.8,282.0 L1323.6,280.2 L1324.5,278.4 L1325.3,276.6 L1326.1,274.8 L1327.0,272.9 L1327.8,271.1 L1328.7,269.3 L1329.5,267.5 L1330.4,265.7 L1331.3,263.9 L1332.2,262.1 L1333.0,260.3 L1333.9,258.5 L1334.8,256.7 L1335.7,254.9 L1336.7,253.2 L1337.6,251.4 L1338.5,249.6 L1339.4,247.8 L1340.4,246.1 L1341.3,244.3 L1342.3,242.6 L1343.2,240.8 L1344.2,239.0 L1345.2,237.3 L1346.1,235.5 L1347.1,233.8 L1348.1,232.1 L1349.1,230.3 L1350.1,228.6 L1351.2,226.9 L1352.2,225.2 L1353.2,223.4 L1354.3,221.7 L1355.3,220.0 L1356.4,218.3 L1357.4,216.6 L1358.5,214.9 L1359.6,213.2 L1360.7,211.5 L1361.8,209.8 L1362.9,208.2 L1364.0,206.5 L1365.1,204.8 L1366.2,203.1 L1367.4,201.5 L1368.5,199.8 L1369.7,198.2 L1370.8,196.5 L1372.0,194.9 L1373.2,193.2 L1374.4,191.6 L1375.6,190.0 L1376.8,188.4 L1378.0,186.8 L1379.2,185.1 L1380.4,183.5 L1381.7,182.0 L1382.9,180.4 L1384.2,178.8 L1385.4,177.2 L1386.7,175.6 L1388.0,174.1 L1389.3,172.5 L1390.6,171.0 L1391.9,169.4 L1393.2,167.9 L1394.5,166.4 L1395.9,164.9 L1397.2,163.4 L1398.5,161.9 L1399.9,160.4 L1401.3,158.9 L1402.6,157.4 L1404.0,156.0 L1405.4,154.5 L1406.8,153.1 L1408.2,151.7 L1409.6,150.2 L1411.1,148.8 L1412.5,147.4 L1414.0,146.0 L1415.4,144.6 L1416.9,143.3 L1418.3,141.9 L1419.8,140.6 L1421.3,139.2 L1422.8,137.9 L1424.3,136.6 L1425.8,135.3 L1427.3,134.0 L1428.9,132.7 L1430.4,131.4 L1432.0,130.2 L1433.5,128.9 L1435.1,127.7 L1436.7,126.4 L1438.3,125.2 L1439.9,124.0 L1441.5,122.8 L1443.1,121.7 L1444.7,120.5 L1446.3,119.4 L1448.0,118.2 L1449.6,117.1 L1451.3,116.0 L1452.9,114.9 L1454.6,113.8 L1456.3,112.8 L1458.0,111.7 L1459.7,110.7 L1461.4,109.6 L1463.1,108.6 L1464.8,107.6 L1466.5,106.6 L1468.3,105.6 L1470.0,104.7 L1471.8,103.7 L1473.5,102.8 L1475.3,101.8 L1477.0,100.9 L1478.8,100.0 L1480.6,99.1 L1482.4,98.3 L1484.2,97.4 L1486.0,96.5 L1487.8,95.7 L1489.6,94.9 L1491.4,94.1 L1493.3,93.3 L1495.1,92.5 L1496.9,91.7 L1498.8,90.9 L1500.6,90.2 L1502.5,89.5 L1504.4,88.7 L1506.2,88.0 L1508.1,87.3 L1510.0,86.6 L1511.9,86.0 L1513.7,85.3 L1515.6,84.7 L1517.5,84.0 L1519.4,83.4 L1521.3,82.8 L1523.2,82.2 L1525.2,81.6 L1527.1,81.1 L1529.0,80.5 L1530.9,80.0 L1532.9,79.4 L1534.8,78.9 L1536.7,78.4 L1538.7,77.9 L1540.6,77.4 L1542.6,77.0 L1544.5,76.5 L1546.5,76.1 L1548.4,75.6 L1550.4,75.2 L1552.3,74.8 L1554.3,74.4 L1556.3,74.0 L1558.3,73.7 L1560.2,73.3 L1562.2,73.0 L1564.2,72.6 L1566.2,72.3 L1568.2,72.0 L1570.1,71.6 L1572.1,71.3 L1574.1,71.1 L1576.1,70.8 L1578.1,70.5 L1580.1,70.2 L1582.1,70.0 L1584.1,69.7 L1586.1,69.5 L1588.1,69.3 L1590.1,69.0 L1592.1,68.8 L1594.1,68.6 L1596.1,68.4 L1598.1,68.2 L1600.1,68.0 L1602.1,67.8 L1604.1,67.7 L1606.1,67.5 L1608.2,67.3 L1610.2,67.2 L1612.2,67.0 L1614.2,66.9 L1616.2,66.7 L1618.2,66.6 L1620.2,66.5 L1622.2,66.3 L1624.2,66.2 L1626.3,66.1 L1628.3,66.0 L1630.3,65.9 L1632.3,65.8 L1634.3,65.7 L1636.3,65.6 L1638.3,65.5 L1640.3,65.4 L1642.4,65.3 L1644.4,65.2 L1646.4,65.1 L1648.4,65.0 L1650.4,64.9 L1652.4,64.9 L1654.4,64.8 L1656.4,64.7 L1658.5,64.6 L1660.5,64.6 L1662.5,64.5 L1664.5,64.5 L1666.5,64.4 L1668.5,64.3 L1670.5,64.3 L1672.5,64.2 L1674.5,64.2 L1676.5,64.1 L1678.5,64.1 L1680.5,64.0 L1682.6,64.0 L1684.6,63.9 L1686.6,63.9 L1688.6,63.8 L1690.6,63.8 L1692.6,63.8 L1694.6,63.7 L1696.6,63.7 L1698.6,63.7 L1700.6,63.6 L1702.6,63.6 L1704.6,63.6 L1706.6,63.6 L1708.6,63.5 L1710.6,63.5 L1712.6,63.5 L1714.6,63.5 L1716.7,63.5 L1718.7,63.4 L1720.7,63.4 L1722.7,63.4 L1724.7,63.4 L1726.7,63.4 L1728.7,63.4 L1730.7,63.4 L1732.7,63.4 L1734.7,63.4 L1736.7,63.3 L1738.7,63.3 L1740.7,63.3 L1742.7,63.3 L1744.7,63.3 L1746.7,63.3 L1748.7,63.3 L1750.7,63.3 L1752.7,63.4 L1754.7,63.4 L1756.7,63.4 L1758.7,63.4 L1760.7,63.4 L1762.7,63.4 L1764.7,63.4 L1766.7,63.4 L1768.7,63.4 L1770.7,63.4 L1772.7,63.4 L1774.7,63.4 L1776.7,63.5 L1778.7,63.5 L1780.7,63.5 L1782.7,63.5 L1784.7,63.5 L1786.7,63.5 L1788.7,63.6 L1790.7,63.6 L1792.7,63.6 L1794.7,63.6 L1796.7,63.6 L1798.7,63.6 L1800.7,63.7 L1802.7,63.7 L1804.7,63.7 L1806.7,63.7 L1808.7,63.7 L1810.7,63.8 L1812.7,63.8 L1814.7,63.8 L1816.7,63.8 L1818.7,63.8 L1820.7,63.9 L1822.8,63.9 L1824.8,63.9 L1826.8,63.9 L1828.8,63.9 L1830.8,64.0 L1832.8,64.0 L1834.8,64.0 L1836.8,64.0 L1838.8,64.0 L1840.8,64.1 L1842.8,64.1 L1844.8,64.1 L1846.8,64.1 L1848.8,64.1 L1850.8,64.2 L1852.8,64.2 L1854.8,64.2 L1856.8,64.2 L1858.8,64.2 L1860.8,64.3 L1862.8,64.3 L1864.8,64.3 L1866.8,64.3 L1868.8,64.3 L1870.8,64.3 L1872.8,64.3 L1874.8,64.4 L1876.8,64.4 L1878.8,64.4 L1880.8,64.4 L1882.8,64.4 L1884.8,64.4 L1886.8,64.4 L1888.8,64.4 L1890.8,64.4 L1892.8,64.4 L1894.8,64.4 L1896.8,64.4 L1898.9,64.4 L1900.9,64.4 L1902.9,64.4 L1904.9,64.4 L1906.9,64.4 L1908.9,64.4 L1910.9,64.4 L1912.9,64.4 L1914.9,64.4 L1916.9,64.4 L1918.9,64.4 L1920.9,64.4 L1922.9,64.4 L1924.9,64.4 L1926.9,64.4 L1928.9,64.4 L1931.0,64.3 L1933.0,64.3 L1935.0,64.3 L1937.0,64.3 L1939.0,64.3 L1941.0,64.2 L1943.0,64.2 L1945.0,64.2 L1947.0,64.2 L1949.0,64.1 L1951.1,64.1 L1953.1,64.1 L1955.1,64.0 L1957.1,64.0 L1959.1,63.9 L1961.1,63.9 L1963.1,63.9 L1965.1,63.8 L1967.1,63.8 L1969.2,63.7 L1971.2,63.7 L1973.2,63.6 L1975.2,63.6 L1977.2,63.5 L1979.2,63.5 L1981.2,63.4 L1983.3,63.3" fill="none" stroke="#00ff00" stroke-width="3.8" stroke-linejoin="round" stroke-dasharray="11.3 10.8" stroke-dashoffset="0"/>
</g>
<rect x="1229.75" y="37.00" width="753.50" height="592.70" fill="none" stroke="#262626" stroke-width="1.3"/>
<line x1="1229.75" y1="629.70" x2="1229.75" y2="625.50" stroke="#262626" stroke-width="1.1"/>
<line x1="1229.75" y1="37.00" x2="1229.75" y2="41.20" stroke="#262626" stroke-width="1.1"/>
<line x1="1267.42" y1="629.70" x2="1267.42" y2="625.50" stroke="#262626" stroke-width="1.1"/>
<line x1="1267.42" y1="37.00" x2="1267.42" y2="41.20" stroke="#262626" stroke-width="1.1"/>
<line x1="1305.10" y1="629.70" x2="1305.10" y2="625.50" stroke="#262626" stroke-width="1.1"/>
<line x1="1305.10" y1="37.00" x2="1305.10" y2="41.20" stroke="#262626" stroke-width="1.1"/>
<line x1="1342.78" y1="629.70" x2="1342.78" y2="625.50" stroke="#262626" stroke-width="1.1"/>
<line x1="1342.78" y1="37.00" x2="1342.78" y2="41.20" stroke="#262626" stroke-width="1.1"/>
<line x1="1380.45" y1="629.70" x2="1380.45" y2="625.50" stroke="#262626" stroke-width="1.1"/>
<line x1="1380.45" y1="37.00" x2="1380.45" y2="41.20" stroke="#262626" stroke-width="1.1"/>
<line x1="1418.12" y1="629.70" x2="1418.12" y2="625.50" stroke="#262626" stroke-width="1.1"/>
<line x1="1418.12" y1="37.00" x2="1418.12" y2="41.20" stroke="#262626" stroke-width="1.1"/>
<line x1="1455.80" y1="629.70" x2="1455.80" y2="625.50" stroke="#262626" stroke-width="1.1"/>
<line x1="1455.80" y1="37.00" x2="1455.80" y2="41.20" stroke="#262626" stroke-width="1.1"/>
<line x1="1493.47" y1="629.70" x2="1493.47" y2="625.50" stroke="#262626" stroke-width="1.1"/>
<line x1="1493.47" y1="37.00" x2="1493.47" y2="41.20" stroke="#262626" stroke-width="1.1"/>
<line x1="1531.15" y1="629.70" x2="1531.15" y2="625.50" stroke="#262626" stroke-width="1.1"/>
<line x1="1531.15" y1="37.00" x2="1531.15" y2="41.20" stroke="#262626" stroke-width="1.1"/>
<line x1="1568.83" y1="629.70" x2="1568.83" y2="625.50" stroke="#262626" stroke-width="1.1"/>
<line x1="1568.83" y1="37.00" x2="1568.83" y2="41.20" stroke="#262626" stroke-width="1.1"/>
<line x1="1606.50" y1="629.70" x2="1606.50" y2="625.50" stroke="#262626" stroke-width="1.1"/>
<line x1="1606.50" y1="37.00" x2="1606.50" y2="41.20" stroke="#262626" stroke-width="1.1"/>
<line x1="1644.17" y1="629.70" x2="1644.17" y2="625.50" stroke="#262626" stroke-width="1.1"/>
<line x1="1644.17" y1="37.00" x2="1644.17" y2="41.20" stroke="#262626" stroke-width="1.1"/>
<line x1="1681.85" y1="629.70" x2="1681.85" y2="625.50" stroke="#262626" stroke-width="1.1"/>
<line x1="1681.85" y1="37.00" x2="1681.85" y2="41.20" stroke="#262626" stroke-width="1.1"/>
<line x1="1719.53" y1="629.70" x2="1719.53" y2="625.50" stroke="#262626" stroke-width="1.1"/>
<line x1="1719.53" y1="37.00" x2="1719.53" y2="41.20" stroke="#262626" stroke-width="1.1"/>
<line x1="1757.20" y1="629.70" x2="1757.20" y2="625.50" stroke="#262626" stroke-width="1.1"/>
<line x1="1757.20" y1="37.00" x2="1757.20" y2="41.20" stroke="#262626" stroke-width="1.1"/>
<line x1="1794.88" y1="629.70" x2="1794.88" y2="625.50" stroke="#262626" stroke-width="1.1"/>
<line x1="1794.88" y1="37.00" x2="1794.88" y2="41.20" stroke="#262626" stroke-width="1.1"/>
<line x1="1832.55" y1="629.70" x2="1832.55" y2="625.50" stroke="#262626" stroke-width="1.1"/>
<line x1="1832.55" y1="37.00" x2="1832.55" y2="41.20" stroke="#262626" stroke-width="1.1"/>
<line x1="1870.22" y1="629.70" x2="1870.22" y2="625.50" stroke="#262626" stroke-width="1.1"/>
<line x1="1870.22" y1="37.00" x2="1870.22" y2="41.20" stroke="#262626" stroke-width="1.1"/>
<line x1="1907.90" y1="629.70" x2="1907.90" y2="625.50" stroke="#262626" stroke-width="1.1"/>
<line x1="1907.90" y1="37.00" x2="1907.90" y2="41.20" stroke="#262626" stroke-width="1.1"/>
<line x1="1945.57" y1="629.70" x2="1945.57" y2="625.50" stroke="#262626" stroke-width="1.1"/>
<line x1="1945.57" y1="37.00" x2="1945.57" y2="41.20" stroke="#262626" stroke-width="1.1"/>
<line x1="1983.25" y1="629.70" x2="1983.25" y2="625.50" stroke="#262626" stroke-width="1.1"/>
<line x1="1983.25" y1="37.00" x2="1983.25" y2="41.20" stroke="#262626" stroke-width="1.1"/>
<line x1="1229.75" y1="629.70" x2="1229.75" y2="621.70" stroke="#262626" stroke-width="1.2"/>
<line x1="1229.75" y1="37.00" x2="1229.75" y2="45.00" stroke="#262626" stroke-width="1.2"/>
<line x1="1380.45" y1="629.70" x2="1380.45" y2="621.70" stroke="#262626" stroke-width="1.2"/>
<line x1="1380.45" y1="37.00" x2="1380.45" y2="45.00" stroke="#262626" stroke-width="1.2"/>
<line x1="1531.15" y1="629.70" x2="1531.15" y2="621.70" stroke="#262626" stroke-width="1.2"/>
<line x1="1531.15" y1="37.00" x2="1531.15" y2="45.00" stroke="#262626" stroke-width="1.2"/>
<line x1="1681.85" y1="629.70" x2="1681.85" y2="621.70" stroke="#262626" stroke-width="1.2"/>
<line x1="1681.85" y1="37.00" x2="1681.85" y2="45.00" stroke="#262626" stroke-width="1.2"/>
<line x1="1832.55" y1="629.70" x2="1832.55" y2="621.70" stroke="#262626" stroke-width="1.2"/>
<line x1="1832.55" y1="37.00" x2="1832.55" y2="45.00" stroke="#262626" stroke-width="1.2"/>
<line x1="1983.25" y1="629.70" x2="1983.25" y2="621.70" stroke="#262626" stroke-width="1.2"/>
<line x1="1983.25" y1="37.00" x2="1983.25" y2="45.00" stroke="#262626" stroke-width="1.2"/>
<line x1="1229.75" y1="630.03" x2="1233.95" y2="630.03" stroke="#262626" stroke-width="1.1"/>
<line x1="1983.25" y1="630.03" x2="1979.05" y2="630.03" stroke="#262626" stroke-width="1.1"/>
<line x1="1229.75" y1="616.85" x2="1233.95" y2="616.85" stroke="#262626" stroke-width="1.1"/>
<line x1="1983.25" y1="616.85" x2="1979.05" y2="616.85" stroke="#262626" stroke-width="1.1"/>
<line x1="1229.75" y1="603.67" x2="1233.95" y2="603.67" stroke="#262626" stroke-width="1.1"/>
<line x1="1983.25" y1="603.67" x2="1979.05" y2="603.67" stroke="#262626" stroke-width="1.1"/>
<line x1="1229.75" y1="590.50" x2="1233.95" y2="590.50" stroke="#262626" stroke-width="1.1"/>
<line x1="1983.25" y1="590.50" x2="1979.05" y2="590.50" stroke="#262626" stroke-width="1.1"/>
<line x1="1229.75" y1="577.33" x2="1233.95" y2="577.33" stroke="#262626" stroke-width="1.1"/>
<line x1="1983.25" y1="577.33" x2="1979.05" y2="577.33" stroke="#262626" stroke-width="1.1"/>
<line x1="1229.75" y1="564.15" x2="1233.95" y2="564.15" stroke="#262626" stroke-width="1.1"/>
<line x1="1983.25" y1="564.15" x2="1979.05" y2="564.15" stroke="#262626" stroke-width="1.1"/>
<line x1="1229.75" y1="550.98" x2="1233.95" y2="550.98" stroke="#262626" stroke-width="1.1"/>
<line x1="1983.25" y1="550.98" x2="1979.05" y2="550.98" stroke="#262626" stroke-width="1.1"/>
<line x1="1229.75" y1="537.80" x2="1233.95" y2="537.80" stroke="#262626" stroke-width="1.1"/>
<line x1="1983.25" y1="537.80" x2="1979.05" y2="537.80" stroke="#262626" stroke-width="1.1"/>
<line x1="1229.75" y1="524.62" x2="1233.95" y2="524.62" stroke="#262626" stroke-width="1.1"/>
<line x1="1983.25" y1="524.62" x2="1979.05" y2="524.62" stroke="#262626" stroke-width="1.1"/>
<line x1="1229.75" y1="511.45" x2="1233.95" y2="511.45" stroke="#262626" stroke-width="1.1"/>
<line x1="1983.25" y1="511.45" x2="1979.05" y2="511.45" stroke="#262626" stroke-width="1.1"/>
<line x1="1229.75" y1="498.28" x2="1233.95" y2="498.28" stroke="#262626" stroke-width="1.1"/>
<line x1="1983.25" y1="498.28" x2="1979.05" y2="498.28" stroke="#262626" stroke-width="1.1"/>
<line x1="1229.75" y1="485.10" x2="1233.95" y2="485.10" stroke="#262626" stroke-width="1.1"/>
<line x1="1983.25" y1="485.10" x2="1979.05" y2="485.10" stroke="#262626" stroke-width="1.1"/>
<line x1="1229.75" y1="471.93" x2="1233.95" y2="471.93" stroke="#262626" stroke-width="1.1"/>
<line x1="1983.25" y1="471.93" x2="1979.05" y2="471.93" stroke="#262626" stroke-width="1.1"/>
<line x1="1229.75" y1="458.75" x2="1233.95" y2="458.75" stroke="#262626" stroke-width="1.1"/>
<line x1="1983.25" y1="458.75" x2="1979.05" y2="458.75" stroke="#262626" stroke-width="1.1"/>
<line x1="1229.75" y1="445.58" x2="1233.95" y2="445.58" stroke="#262626" stroke-width="1.1"/>
<line x1="1983.25" y1="445.58" x2="1979.05" y2="445.58" stroke="#262626" stroke-width="1.1"/>
<line x1="1229.75" y1="432.40" x2="1233.95" y2="432.40" stroke="#262626" stroke-width="1.1"/>
<line x1="1983.25" y1="432.40" x2="1979.05" y2="432.40" stroke="#262626" stroke-width="1.1"/>
<line x1="1229.75" y1="419.23" x2="1233.95" y2="419.23" stroke="#262626" stroke-width="1.1"/>
<line x1="1983.25" y1="419.23" x2="1979.05" y2="419.23" stroke="#262626" stroke-width="1.1"/>
<line x1="1229.75" y1="406.05" x2="1233.95" y2="406.05" stroke="#262626" stroke-width="1.1"/>
<line x1="1983.25" y1="406.05" x2="1979.05" y2="406.05" stroke="#262626" stroke-width="1.1"/>
<line x1="1229.75" y1="392.88" x2="1233.95" y2="392.88" stroke="#262626" stroke-width="1.1"/>
<line x1="1983.25" y1="392.88" x2="1979.05" y2="392.88" stroke="#262626" stroke-width="1.1"/>
<line x1="1229.75" y1="379.70" x2="1233.95" y2="379.70" stroke="#262626" stroke-width="1.1"/>
<line x1="1983.25" y1="379.70" x2="1979.05" y2="379.70" stroke="#262626" stroke-width="1.1"/>
<line x1="1229.75" y1="366.52" x2="1233.95" y2="366.52" stroke="#262626" stroke-width="1.1"/>
<line x1="1983.25" y1="366.52" x2="1979.05" y2="366.52" stroke="#262626" stroke-width="1.1"/>
<line x1="1229.75" y1="353.35" x2="1233.95" y2="353.35" stroke="#262626" stroke-width="1.1"/>
<line x1="1983.25" y1="353.35" x2="1979.05" y2="353.35" stroke="#262626" stroke-width="1.1"/>
<line x1="1229.75" y1="340.18" x2="1233.95" y2="340.18" stroke="#262626" stroke-width="1.1"/>
<line x1="1983.25" y1="340.18" x2="1979.05" y2="340.18" stroke="#262626" stroke-width="1.1"/>
<line x1="1229.75" y1="327.00" x2="1233.95" y2="327.00" stroke="#262626" stroke-width="1.1"/>
<line x1="1983.25" y1="327.00" x2="1979.05" y2="327.00" stroke="#262626" stroke-width="1.1"/>
<line x1="1229.75" y1="313.82" x2="1233.95" y2="313.82" stroke="#262626" stroke-width="1.1"/>
<line x1="1983.25" y1="313.82" x2="1979.05" y2="313.82" stroke="#262626" stroke-width="1.1"/>
<line x1="1229.75" y1="300.65" x2="1233.95" y2="300.65" stroke="#262626" stroke-width="1.1"/>
<line x1="1983.25" y1="300.65" x2="1979.05" y2="300.65" stroke="#262626" stroke-width="1.1"/>
<line x1="1229.75" y1="287.48" x2="1233.95" y2="287.48" stroke="#262626" stroke-width="1.1"/>
<line x1="1983.25" y1="287.48" x2="1979.05" y2="287.48" stroke="#262626" stroke-width="1.1"/>
<line x1="1229.75" y1="274.30" x2="1233.95" y2="274.30" stroke="#262626" stroke-width="1.1"/>
<line x1="1983.25" y1="274.30" x2="1979.05" y2="274.30" stroke="#262626" stroke-width="1.1"/>
<line x1="1229.75" y1="261.12" x2="1233.95" y2="261.12" stroke="#262626" stroke-width="1.1"/>
<line x1="1983.25" y1="261.12" x2="1979.05" y2="261.12" stroke="#262626" stroke-width="1.1"/>
<line x1="1229.75" y1="247.95" x2="1233.95" y2="247.95" stroke="#262626" stroke-width="1.1"/>
<line x1="1983.25" y1="247.95" x2="1979.05" y2="247.95" stroke="#262626" stroke-width="1.1"/>
<line x1="1229.75" y1="234.78" x2="1233.95" y2="234.78" stroke="#262626" stroke-width="1.1"/>
<line x1="1983.25" y1="234.78" x2="1979.05" y2="234.78" stroke="#262626" stroke-width="1.1"/>
<line x1="1229.75" y1="221.60" x2="1233.95" y2="221.60" stroke="#262626" stroke-width="1.1"/>
<line x1="1983.25" y1="221.60" x2="1979.05" y2="221.60" stroke="#262626" stroke-width="1.1"/>
<line x1="1229.75" y1="208.43" x2="1233.95" y2="208.43" stroke="#262626" stroke-width="1.1"/>
<line x1="1983.25" y1="208.43" x2="1979.05" y2="208.43" stroke="#262626" stroke-width="1.1"/>
<line x1="1229.75" y1="195.25" x2="1233.95" y2="195.25" stroke="#262626" stroke-width="1.1"/>
<line x1="1983.25" y1="195.25" x2="1979.05" y2="195.25" stroke="#262626" stroke-width="1.1"/>
<line x1="1229.75" y1="182.07" x2="1233.95" y2="182.07" stroke="#262626" stroke-width="1.1"/>
<line x1="1983.25" y1="182.07" x2="1979.05" y2="182.07" stroke="#262626" stroke-width="1.1"/>
<line x1="1229.75" y1="168.90" x2="1233.95" y2="168.90" stroke="#262626" stroke-width="1.1"/>
<line x1="1983.25" y1="168.90" x2="1979.05" y2="168.90" stroke="#262626" stroke-width="1.1"/>
<line x1="1229.75" y1="155.72" x2="1233.95" y2="155.72" stroke="#262626" stroke-width="1.1"/>
<line x1="1983.25" y1="155.72" x2="1979.05" y2="155.72" stroke="#262626" stroke-width="1.1"/>
<line x1="1229.75" y1="142.55" x2="1233.95" y2="142.55" stroke="#262626" stroke-width="1.1"/>
<line x1="1983.25" y1="142.55" x2="1979.05" y2="142.55" stroke="#262626" stroke-width="1.1"/>
<line x1="1229.75" y1="129.38" x2="1233.95" y2="129.38" stroke="#262626" stroke-width="1.1"/>
<line x1="1983.25" y1="129.38" x2="1979.05" y2="129.38" stroke="#262626" stroke-width="1.1"/>
<line x1="1229.75" y1="116.20" x2="1233.95" y2="116.20" stroke="#262626" stroke-width="1.1"/>
<line x1="1983.25" y1="116.20" x2="1979.05" y2="116.20" stroke="#262626" stroke-width="1.1"/>
<line x1="1229.75" y1="103.02" x2="1233.95" y2="103.02" stroke="#262626" stroke-width="1.1"/>
<line x1="1983.25" y1="103.02" x2="1979.05" y2="103.02" stroke="#262626" stroke-width="1.1"/>
<line x1="1229.75" y1="89.85" x2="1233.95" y2="89.85" stroke="#262626" stroke-width="1.1"/>
<line x1="1983.25" y1="89.85" x2="1979.05" y2="89.85" stroke="#262626" stroke-width="1.1"/>
<line x1="1229.75" y1="76.67" x2="1233.95" y2="76.67" stroke="#262626" stroke-width="1.1"/>
<line x1="1983.25" y1="76.67" x2="1979.05" y2="76.67" stroke="#262626" stroke-width="1.1"/>
<line x1="1229.75" y1="63.50" x2="1233.95" y2="63.50" stroke="#262626" stroke-width="1.1"/>
<line x1="1983.25" y1="63.50" x2="1979.05" y2="63.50" stroke="#262626" stroke-width="1.1"/>
<line x1="1229.75" y1="50.32" x2="1233.95" y2="50.32" stroke="#262626" stroke-width="1.1"/>
<line x1="1983.25" y1="50.32" x2="1979.05" y2="50.32" stroke="#262626" stroke-width="1.1"/>
<line x1="1229.75" y1="37.15" x2="1233.95" y2="37.15" stroke="#262626" stroke-width="1.1"/>
<line x1="1983.25" y1="37.15" x2="1979.05" y2="37.15" stroke="#262626" stroke-width="1.1"/>
<line x1="1229.75" y1="590.50" x2="1237.75" y2="590.50" stroke="#262626" stroke-width="1.2"/>
<line x1="1983.25" y1="590.50" x2="1975.25" y2="590.50" stroke="#262626" stroke-width="1.2"/>
<line x1="1229.75" y1="524.62" x2="1237.75" y2="524.62" stroke="#262626" stroke-width="1.2"/>
<line x1="1983.25" y1="524.62" x2="1975.25" y2="524.62" stroke="#262626" stroke-width="1.2"/>
<line x1="1229.75" y1="458.75" x2="1237.75" y2="458.75" stroke="#262626" stroke-width="1.2"/>
<line x1="1983.25" y1="458.75" x2="1975.25" y2="458.75" stroke="#262626" stroke-width="1.2"/>
<line x1="1229.75" y1="392.88" x2="1237.75" y2="392.88" stroke="#262626" stroke-width="1.2"/>
<line x1="1983.25" y1="392.88" x2="1975.25" y2="392.88" stroke="#262626" stroke-width="1.2"/>
<line x1="1229.75" y1="327.00" x2="1237.75" y2="327.00" stroke="#262626" stroke-width="1.2"/>
<line x1="1983.25" y1="327.00" x2="1975.25" y2="327.00" stroke="#262626" stroke-width="1.2"/>
<line x1="1229.75" y1="261.12" x2="1237.75" y2="261.12" stroke="#262626" stroke-width="1.2"/>
<line x1="1983.25" y1="261.12" x2="1975.25" y2="261.12" stroke="#262626" stroke-width="1.2"/>
<line x1="1229.75" y1="195.25" x2="1237.75" y2="195.25" stroke="#262626" stroke-width="1.2"/>
<line x1="1983.25" y1="195.25" x2="1975.25" y2="195.25" stroke="#262626" stroke-width="1.2"/>
<line x1="1229.75" y1="129.38" x2="1237.75" y2="129.38" stroke="#262626" stroke-width="1.2"/>
<line x1="1983.25" y1="129.38" x2="1975.25" y2="129.38" stroke="#262626" stroke-width="1.2"/>
<line x1="1229.75" y1="63.50" x2="1237.75" y2="63.50" stroke="#262626" stroke-width="1.2"/>
<line x1="1983.25" y1="63.50" x2="1975.25" y2="63.50" stroke="#262626" stroke-width="1.2"/>
<text x="1219.00" y="72.80" font-size="27" font-family='"Liberation Serif", "DejaVu Serif", serif' font-weight="bold" text-anchor="end" fill="#262626" stroke="#262626" stroke-width="0.5">1</text>
<text x="1219.00" y="138.68" font-size="27" font-family='"Liberation Serif", "DejaVu Serif", serif' font-weight="bold" text-anchor="end" fill="#262626" stroke="#262626" stroke-width="0.5">0.5</text>
<text x="1219.00" y="204.55" font-size="27" font-family='"Liberation Serif", "DejaVu Serif", serif' font-weight="bold" text-anchor="end" fill="#262626" stroke="#262626" stroke-width="0.5">0</text>
<text x="1219.00" y="270.43" font-size="27" font-family='"Liberation Serif", "DejaVu Serif", serif' font-weight="bold" text-anchor="end" fill="#262626" stroke="#262626" stroke-width="0.5">-0.5</text>
<text x="1219.00" y="336.30" font-size="27" font-family='"Liberation Serif", "DejaVu Serif", serif' font-weight="bold" text-anchor="end" fill="#262626" stroke="#262626" stroke-width="0.5">-1</text>
<text x="1219.00" y="402.18" font-size="27" font-family='"Liberation Serif", "DejaVu Serif", serif' font-weight="bold" text-anchor="end" fill="#262626" stroke="#262626" stroke-width="0.5">-1.5</text>
<text x="1219.00" y="468.05" font-size="27" font-family='"Liberation Serif", "DejaVu Serif", serif' font-weight="bold" text-anchor="end" fill="#262626" stroke="#262626" stroke-width="0.5">-2</text>
<text x="1219.00" y="533.92" font-size="27" font-family='"Liberation Serif", "DejaVu Serif", serif' font-weight="bold" text-anchor="end" fill="#262626" stroke="#262626" stroke-width="0.5">-2.5</text>
<text x="1219.00" y="599.80" font-size="27" font-family='"Liberation Serif", "DejaVu Serif", serif' font-weight="bold" text-anchor="end" fill="#262626" stroke="#262626" stroke-width="0.5">-3</text>
<text x="1229.75" y="667.30" font-size="27" font-family='"Liberation Serif", "DejaVu Serif", serif' font-weight="bold" text-anchor="middle" fill="#262626" stroke="#262626" stroke-width="0.5">0</text>
<text x="1380.45" y="667.30" font-size="27" font-family='"Liberation Serif", "DejaVu Serif", serif' font-weight="bold" text-anchor="middle" fill="#262626" stroke="#262626" stroke-width="0.5">2</text>
<text x="1531.15" y="667.30" font-size="27" font-family='"Liberation Serif", "DejaVu Serif", serif' font-weight="bold" text-anchor="middle" fill="#262626" stroke="#262626" stroke-width="0.5">4</text>
<text x="1681.85" y="667.30" font-size="27" font-family='"Liberation Serif", "DejaVu Serif", serif' font-weight="bold" text-anchor="middle" fill="#262626" stroke="#262626" stroke-width="0.5">6</text>
<text x="1832.55" y="667.30" font-size="27" font-family='"Liberation Serif", "DejaVu Serif", serif' font-weight="bold" text-anchor="middle" fill="#262626" stroke="#262626" stroke-width="0.5">8</text>
<text x="1983.25" y="667.30" font-size="27" font-family='"Liberation Serif", "DejaVu Serif", serif' font-weight="bold" text-anchor="middle" fill="#262626" stroke="#262626" stroke-width="0.5">10</text>
<rect x="1260.60" y="138.40" width="75.50" height="177.60" fill="none" stroke="#000" stroke-width="1.9"/>
<line x1="1300.00" y1="314.50" x2="1405.00" y2="358.00" stroke="#000" stroke-width="2"/>
<rect x="1405.00" y="295.00" width="225.80" height="177.30" fill="none" stroke="#000" stroke-width="2.2"/>
<line x1="1405.00" y1="323.00" x2="1630.80" y2="300.00" stroke="#00ff00" stroke-width="2.1"/>
<line x1="1405.00" y1="328.30" x2="1630.80" y2="305.30" stroke="#000" stroke-width="2.1"/>
<line x1="1405.00" y1="335.80" x2="1630.80" y2="312.50" stroke="#ff0000" stroke-width="2.1"/>
<line x1="1405.00" y1="463.80" x2="1630.80" y2="440.50" stroke="#ff0000" stroke-width="2.1" stroke-dasharray="13.5 8.5"/>
<line x1="1405.00" y1="467.60" x2="1630.80" y2="445.00" stroke="#000" stroke-width="2.1" stroke-dasharray="13.5 8.5"/>
<line x1="1405.00" y1="471.20" x2="1630.80" y2="449.00" stroke="#00ff00" stroke-width="2.1" stroke-dasharray="13.5 8.5"/>
<line x1="1517.90" y1="295.00" x2="1517.90" y2="298.00" stroke="#000" stroke-width="1.6"/>
<line x1="1517.90" y1="472.00" x2="1517.90" y2="469.00" stroke="#000" stroke-width="1.6"/>
<line x1="1405.00" y1="311.00" x2="1408.00" y2="311.00" stroke="#000" stroke-width="1.6"/>
<line x1="1630.80" y1="311.00" x2="1627.80" y2="311.00" stroke="#000" stroke-width="1.6"/>
<line x1="1405.00" y1="391.70" x2="1408.00" y2="391.70" stroke="#000" stroke-width="1.6"/>
<line x1="1630.80" y1="391.70" x2="1627.80" y2="391.70" stroke="#000" stroke-width="1.6"/>
<text x="1400.00" y="317.50" font-size="17.5" font-family='"Liberation Sans", "DejaVu Sans", sans-serif' text-anchor="end">0</text>
<text x="1400.00" y="400.50" font-size="17.5" font-family='"Liberation Sans", "DejaVu Sans", sans-serif' text-anchor="end">-0.5</text>
<text x="1399.00" y="480.50" font-size="17.5" font-family='"Liberation Sans", "DejaVu Sans", sans-serif' text-anchor="end">-1</text>
<text x="1404.00" y="495.00" font-size="17.5" font-family='"Liberation Sans", "DejaVu Sans", sans-serif' text-anchor="middle">1</text>
<text x="1518.00" y="495.00" font-size="17.5" font-family='"Liberation Sans", "DejaVu Sans", sans-serif' text-anchor="middle">1.05</text>
<text x="1630.00" y="495.00" font-size="17.5" font-family='"Liberation Sans", "DejaVu Sans", sans-serif' text-anchor="middle">1.1</text>
<line x1="1405.00" y1="123.75" x2="1334.57" y2="63.51" stroke="#000" stroke-width="1.3"/>
<polygon points="1321.00,51.90 1344.71,60.34 1334.57,63.51 1333.01,74.01" fill="#000"/>
<line x1="1427.00" y1="98.50" x2="1495.70" y2="149.90" stroke="#000" stroke-width="1.3" stroke-dasharray="13 9.3"/>
<polygon points="1510.00,160.60 1485.79,153.73 1495.70,149.90 1496.58,139.32" fill="#000"/>
<text x="1472" y="197.5" font-size="26" font-family='"Liberation Serif", "DejaVu Serif", serif' font-style="italic" font-weight="bold" stroke="#000" stroke-width="0.35" textLength="213" lengthAdjust="spacing">ϕ= 0.02, 0.03, 0.04</text>
<line x1="1714.50" y1="92.50" x2="1774.00" y2="92.50" stroke="#000" stroke-width="1.5"/>
<line x1="1715.20" y1="130.50" x2="1774.00" y2="130.50" stroke="#000" stroke-width="1.5" stroke-dasharray="14 8.5"/>
<text x="1788.50" y="102.50" font-size="27.5" font-family='"Liberation Serif", "DejaVu Serif", serif' textLength="150.50" lengthAdjust="spacing" stroke="#000" stroke-width="0.25">First Solution</text>
<text x="1787.00" y="139.50" font-size="27.5" font-family='"Liberation Serif", "DejaVu Serif", serif' textLength="181.00" lengthAdjust="spacing" stroke="#000" stroke-width="0.25">Second Solution</text>
<text x="1363.50" y="593.00" font-size="27.5" font-family='"Liberation Serif", "DejaVu Serif", serif' textLength="487.00" lengthAdjust="spacing" stroke="#000" stroke-width="0.25">Pr=6.2, A=0.8, Ec=1, λ = - 3.3, m=0.5, S=2</text>
<text x="1162.3" y="384.6" font-size="29.5" font-family='"Liberation Serif", "DejaVu Serif", serif' font-style="italic" font-weight="bold" fill="#262626" stroke="#262626" stroke-width="0.4" transform="rotate(-90 1162.3 384.6)" textLength="12.5" lengthAdjust="spacingAndGlyphs">f</text>
<text x="1162.3" y="355.8" font-size="29.5" font-family='"Liberation Serif", "DejaVu Serif", serif' font-style="italic" font-weight="bold" fill="#262626" stroke="#262626" stroke-width="0.4" transform="rotate(-90 1162.3 355.8)">'</text>
<text x="1162.3" y="339.6" font-size="29.5" font-family='"Liberation Serif", "DejaVu Serif", serif' font-style="italic" font-weight="bold" fill="#262626" stroke="#262626" stroke-width="0.4" transform="rotate(-90 1162.3 339.6)">(</text>
<text x="1162.3" y="320.8" font-size="29.5" font-family='"Liberation Serif", "DejaVu Serif", serif' font-style="italic" font-weight="bold" fill="#262626" stroke="#262626" stroke-width="0.4" transform="rotate(-90 1162.3 320.8)">η</text>
<text x="1162.3" y="298.6" font-size="29.5" font-family='"Liberation Serif", "DejaVu Serif", serif' font-style="italic" font-weight="bold" fill="#262626" stroke="#262626" stroke-width="0.4" transform="rotate(-90 1162.3 298.6)">)</text>
<text x="1605.00" y="697.20" font-size="30" font-family='"Liberation Serif", "DejaVu Serif", serif' font-weight="bold" font-style="italic" text-anchor="middle" fill="#262626" stroke="#262626" stroke-width="0.4">η</text>
<text x="1590.50" y="792.00" font-size="55" font-family='"Liberation Serif", "DejaVu Serif", serif' font-weight="bold" text-anchor="middle">(b)</text>
<!-- panel c -->
<clipPath id="cc"><rect x="151.75" y="857.0" width="796.5" height="629.25"/></clipPath><g clip-path="url(#cc)">
<path d="M442.6,857.0 L444.0,858.3 L445.5,859.6 L446.9,861.0 L448.4,862.4 L449.8,863.8 L451.2,865.3 L452.6,866.7 L454.0,868.1 L455.5,869.6 L456.9,871.1 L458.3,872.5 L459.7,874.0 L461.2,875.4 L462.6,876.8 L464.1,878.3 L465.6,879.7 L467.0,881.0 L468.5,882.4 L470.1,883.7 L471.6,885.0 L473.2,886.3 L474.8,887.5 L476.4,888.7 L478.0,889.9 L479.6,891.0 L481.3,892.1 L483.0,893.1 L484.7,894.1 L486.5,895.1 L488.2,896.1 L490.0,897.1 L491.7,898.0 L493.5,898.9 L495.3,899.8 L497.1,900.7 L498.9,901.5 L500.7,902.4 L502.6,903.2 L504.4,904.1 L506.2,904.9 L508.0,905.7 L509.9,906.5 L511.7,907.3 L513.6,908.1 L515.4,908.9 L517.3,909.7 L519.1,910.5 L521.0,911.2 L522.8,912.0 L524.7,912.7 L526.6,913.5 L528.5,914.2 L530.3,915.0 L532.2,915.7 L534.1,916.4 L536.0,917.1 L537.9,917.8 L539.8,918.5 L541.7,919.2 L543.6,919.8 L545.5,920.5 L547.4,921.2 L549.3,921.8 L551.2,922.4 L553.1,923.1 L555.0,923.7 L556.9,924.3 L558.9,925.0 L560.8,925.6 L562.7,926.2 L564.6,926.8 L566.6,927.4 L568.5,927.9 L570.4,928.5 L572.4,929.1 L574.3,929.7 L576.2,930.2 L578.2,930.8 L580.1,931.3 L582.1,931.8 L584.0,932.4 L586.0,932.9 L587.9,933.4 L589.9,933.9 L591.8,934.4 L593.8,934.9 L595.7,935.4 L597.7,935.9 L599.6,936.4 L601.6,936.9 L603.5,937.4 L605.5,937.8 L607.5,938.3 L609.4,938.7 L611.4,939.2 L613.3,939.6 L615.3,940.1 L617.3,940.5 L619.2,940.9 L621.2,941.3 L623.2,941.8 L625.1,942.2 L627.1,942.6 L629.1,943.0 L631.1,943.4 L633.0,943.8 L635.0,944.2 L637.0,944.5 L638.9,944.9 L640.9,945.3 L642.9,945.7 L644.9,946.0 L646.8,946.4 L648.8,946.7 L650.8,947.1 L652.8,947.4 L654.8,947.8 L656.7,948.1 L658.7,948.5 L660.7,948.8 L662.7,949.1 L664.7,949.4 L666.6,949.8 L668.6,950.1 L670.6,950.4 L672.6,950.7 L674.6,951.0 L676.6,951.3 L678.6,951.6 L680.5,951.9 L682.5,952.2 L684.5,952.5 L686.5,952.8 L688.5,953.0 L690.5,953.3 L692.5,953.6 L694.5,953.9 L696.5,954.1 L698.5,954.4 L700.5,954.7 L702.4,954.9 L704.4,955.2 L706.4,955.4 L708.4,955.7 L710.4,955.9 L712.4,956.2 L714.4,956.4 L716.4,956.7 L718.4,956.9 L720.4,957.1 L722.4,957.4 L724.4,957.6 L726.4,957.8 L728.4,958.1 L730.4,958.3 L732.4,958.5 L734.4,958.8 L736.4,959.0 L738.4,959.2 L740.4,959.4 L742.4,959.6 L744.4,959.9 L746.4,960.1 L748.4,960.3 L750.4,960.5 L752.4,960.7 L754.4,960.9 L756.4,961.1 L758.4,961.3 L760.4,961.6 L762.4,961.8 L764.4,962.0 L766.4,962.2 L768.4,962.4 L770.4,962.6 L772.4,962.8 L774.4,963.0 L776.4,963.2 L778.4,963.4 L780.4,963.6 L782.4,963.8 L784.4,963.9 L786.4,964.1 L788.4,964.3 L790.4,964.5 L792.4,964.7 L794.4,964.9 L796.5,965.1 L798.5,965.3 L800.5,965.4 L802.5,965.6 L804.5,965.8 L806.5,966.0 L808.5,966.2 L810.5,966.3 L812.5,966.5 L814.5,966.7 L816.5,966.9 L818.5,967.0 L820.5,967.2 L822.5,967.4 L824.5,967.5 L826.5,967.7 L828.5,967.9 L830.6,968.0 L832.6,968.2 L834.6,968.4 L836.6,968.5 L838.6,968.7 L840.6,968.9 L842.6,969.0 L844.6,969.2 L846.6,969.3 L848.6,969.5 L850.6,969.6 L852.6,969.8 L854.6,969.9 L856.6,970.1 L858.7,970.2 L860.7,970.4 L862.7,970.5 L864.7,970.7 L866.7,970.8 L868.7,970.9 L870.7,971.1 L872.7,971.2 L874.7,971.4 L876.7,971.5 L878.7,971.6 L880.7,971.8 L882.7,971.9 L884.8,972.0 L886.8,972.2 L888.8,972.3 L890.8,972.4 L892.8,972.6 L894.8,972.7 L896.8,972.8 L898.8,972.9 L900.8,973.1 L902.8,973.2 L904.8,973.3 L906.8,973.4 L908.8,973.5 L910.9,973.7 L912.9,973.8 L914.9,973.9 L916.9,974.0 L918.9,974.1 L920.9,974.2 L922.9,974.3 L924.9,974.4 L926.9,974.5 L928.9,974.6 L930.9,974.8 L932.9,974.9 L934.9,975.0 L936.9,975.1 L939.0,975.2 L941.0,975.3 L943.0,975.4 L945.0,975.4 L947.0,975.5" fill="none" stroke="#ff0000" stroke-width="2.8" stroke-linejoin="round" stroke-dasharray="19.5 9.5" stroke-dashoffset="13"/>
<path d="M452.9,859.5 L454.5,860.6 L456.2,861.7 L457.8,862.8 L459.5,864.0 L461.1,865.1 L462.7,866.2 L464.4,867.4 L466.0,868.5 L467.7,869.7 L469.3,870.8 L470.9,872.0 L472.6,873.2 L474.2,874.3 L475.9,875.5 L477.5,876.6 L479.1,877.8 L480.8,879.0 L482.4,880.1 L484.1,881.3 L485.7,882.5 L487.4,883.6 L489.0,884.8 L490.7,885.9 L492.3,887.1 L494.0,888.3 L495.6,889.4 L497.3,890.5 L499.0,891.7 L500.6,892.8 L502.3,894.0 L504.0,895.1 L505.6,896.2 L507.3,897.3 L509.0,898.5 L510.7,899.6 L512.4,900.7 L514.1,901.7 L515.8,902.8 L517.5,903.9 L519.2,905.0 L520.9,906.0 L522.6,907.1 L524.3,908.1 L526.0,909.2 L527.8,910.2 L529.5,911.2 L531.3,912.2 L533.0,913.2 L534.8,914.1 L536.5,915.1 L538.3,916.1 L540.1,917.0 L541.8,917.9 L543.6,918.8 L545.4,919.7 L547.2,920.6 L549.0,921.5 L550.8,922.3 L552.6,923.2 L554.5,924.0 L556.3,924.8 L558.1,925.6 L559.9,926.4 L561.8,927.2 L563.6,928.0 L565.5,928.8 L567.3,929.5 L569.2,930.2 L571.1,930.9 L572.9,931.7 L574.8,932.4 L576.7,933.0 L578.6,933.7 L580.5,934.4 L582.4,935.0 L584.3,935.7 L586.2,936.3 L588.1,936.9 L590.0,937.5 L591.9,938.1 L593.8,938.7 L595.7,939.2 L597.7,939.8 L599.6,940.3 L601.5,940.9 L603.5,941.4 L605.4,941.9 L607.3,942.4 L609.3,942.9 L611.2,943.4 L613.2,943.8 L615.1,944.3 L617.1,944.7 L619.0,945.2 L621.0,945.6 L623.0,946.0 L624.9,946.4 L626.9,946.8 L628.9,947.2 L630.8,947.6 L632.8,948.0 L634.8,948.3 L636.7,948.7 L638.7,949.0 L640.7,949.3 L642.7,949.7 L644.7,950.0 L646.6,950.3 L648.6,950.6 L650.6,950.9 L652.6,951.2 L654.6,951.4 L656.6,951.7 L658.6,952.0 L660.6,952.2 L662.6,952.5 L664.6,952.7 L666.6,952.9 L668.6,953.2 L670.5,953.4 L672.5,953.6 L674.6,953.8 L676.6,954.0 L678.6,954.2 L680.6,954.4 L682.6,954.6 L684.6,954.8 L686.6,955.0 L688.6,955.2 L690.6,955.4 L692.6,955.5 L694.6,955.7 L696.6,955.9 L698.6,956.0 L700.6,956.2 L702.6,956.4 L704.7,956.5 L706.7,956.7 L708.7,956.8 L710.7,957.0 L712.7,957.1 L714.7,957.3 L716.7,957.4 L718.7,957.6 L720.7,957.7 L722.8,957.9 L724.8,958.0 L726.8,958.2 L728.8,958.3 L730.8,958.5 L732.8,958.6 L734.8,958.8 L736.8,958.9 L738.8,959.1 L740.9,959.2 L742.9,959.4 L744.9,959.5 L746.9,959.7 L748.9,959.9 L750.9,960.0 L752.9,960.2 L754.9,960.4 L756.9,960.5 L758.9,960.7 L760.9,960.9 L762.9,961.1 L764.9,961.2 L766.9,961.4 L768.9,961.6 L770.9,961.8 L772.9,962.0 L774.9,962.2 L776.9,962.3 L778.9,962.5 L780.9,962.7 L782.9,962.9 L784.9,963.1 L786.9,963.3 L788.9,963.5 L790.9,963.7 L792.9,963.9 L794.9,964.1 L796.9,964.3 L798.9,964.5 L800.9,964.7 L802.9,964.9 L804.9,965.1 L806.9,965.3 L808.9,965.5 L810.9,965.7 L812.9,965.9 L814.9,966.1 L816.8,966.3 L818.8,966.5 L820.8,966.7 L822.8,966.9 L824.8,967.1 L826.8,967.3 L828.8,967.5 L830.8,967.7 L832.8,967.9 L834.8,968.1 L836.8,968.3 L838.8,968.5 L840.8,968.7 L842.8,968.9 L844.8,969.1 L846.8,969.3 L848.7,969.5 L850.7,969.7 L852.7,969.9 L854.7,970.1 L856.7,970.2 L858.7,970.4 L860.7,970.6 L862.7,970.8 L864.7,970.9 L866.7,971.1 L868.7,971.3 L870.7,971.5 L872.7,971.6 L874.7,971.8 L876.7,972.0 L878.7,972.1 L880.7,972.3 L882.7,972.4 L884.7,972.6 L886.7,972.7 L888.7,972.9 L890.7,973.0 L892.7,973.1 L894.7,973.3 L896.7,973.4 L898.7,973.5 L900.7,973.7 L902.7,973.8 L904.7,973.9 L906.7,974.0 L908.8,974.1 L910.8,974.2 L912.8,974.3 L914.8,974.4 L916.8,974.5 L918.8,974.6 L920.8,974.7 L922.8,974.7 L924.8,974.8 L926.9,974.9 L928.9,975.0 L930.9,975.0 L932.9,975.1 L934.9,975.1 L936.9,975.2 L939.0,975.2 L941.0,975.2 L943.0,975.3 L945.0,975.3 L947.1,975.3" fill="none" stroke="#000" stroke-width="2.8" stroke-linejoin="round" stroke-dasharray="19.5 9.5" stroke-dashoffset="24"/>
<path d="M415.9,857.1 L417.4,858.4 L419.0,859.7 L420.6,861.0 L422.1,862.2 L423.7,863.5 L425.3,864.7 L427.0,865.9 L428.6,867.1 L430.2,868.3 L431.8,869.5 L433.5,870.6 L435.1,871.8 L436.8,872.9 L438.5,874.0 L440.1,875.1 L441.8,876.2 L443.5,877.2 L445.2,878.3 L446.9,879.4 L448.6,880.4 L450.3,881.4 L452.1,882.4 L453.8,883.4 L455.5,884.4 L457.3,885.4 L459.0,886.3 L460.8,887.3 L462.6,888.2 L464.3,889.2 L466.1,890.1 L467.9,891.0 L469.7,891.9 L471.5,892.8 L473.3,893.7 L475.1,894.5 L476.9,895.4 L478.7,896.2 L480.5,897.1 L482.3,897.9 L484.2,898.8 L486.0,899.6 L487.8,900.4 L489.7,901.2 L491.5,902.0 L493.3,902.8 L495.2,903.5 L497.0,904.3 L498.9,905.1 L500.7,905.8 L502.6,906.6 L504.5,907.3 L506.3,908.1 L508.2,908.8 L510.1,909.5 L512.0,910.3 L513.8,911.0 L515.7,911.7 L517.6,912.4 L519.5,913.1 L521.4,913.8 L523.3,914.4 L525.1,915.1 L527.0,915.8 L528.9,916.5 L530.8,917.1 L532.7,917.8 L534.6,918.4 L536.6,919.0 L538.5,919.7 L540.4,920.3 L542.3,920.9 L544.2,921.6 L546.1,922.2 L548.0,922.8 L550.0,923.4 L551.9,924.0 L553.8,924.6 L555.7,925.1 L557.7,925.7 L559.6,926.3 L561.5,926.9 L563.4,927.4 L565.4,928.0 L567.3,928.5 L569.2,929.1 L571.2,929.6 L573.1,930.1 L575.1,930.7 L577.0,931.2 L579.0,931.7 L580.9,932.2 L582.8,932.8 L584.8,933.3 L586.7,933.8 L588.7,934.3 L590.6,934.7 L592.6,935.2 L594.5,935.7 L596.5,936.2 L598.4,936.7 L600.4,937.1 L602.3,937.6 L604.3,938.1 L606.3,938.5 L608.2,939.0 L610.2,939.4 L612.1,939.8 L614.1,940.3 L616.0,940.7 L618.0,941.1 L620.0,941.6 L621.9,942.0 L623.9,942.4 L625.8,942.8 L627.8,943.2 L629.8,943.6 L631.7,944.0 L633.7,944.4 L635.7,944.8 L637.6,945.2 L639.6,945.6 L641.6,945.9 L643.5,946.3 L645.5,946.7 L647.5,947.0 L649.4,947.4 L651.4,947.7 L653.4,948.1 L655.4,948.4 L657.3,948.8 L659.3,949.1 L661.3,949.4 L663.3,949.7 L665.2,950.1 L667.2,950.4 L669.2,950.7 L671.2,951.0 L673.2,951.3 L675.1,951.6 L677.1,951.9 L679.1,952.2 L681.1,952.5 L683.1,952.8 L685.1,953.0 L687.0,953.3 L689.0,953.6 L691.0,953.8 L693.0,954.1 L695.0,954.4 L697.0,954.6 L699.0,954.9 L701.0,955.1 L703.0,955.4 L704.9,955.6 L706.9,955.8 L708.9,956.1 L710.9,956.3 L712.9,956.5 L714.9,956.7 L716.9,957.0 L718.9,957.2 L720.9,957.4 L722.9,957.6 L724.9,957.8 L726.9,958.0 L728.9,958.2 L730.9,958.5 L732.9,958.7 L734.9,958.9 L736.9,959.1 L738.9,959.3 L740.9,959.5 L742.9,959.7 L744.9,959.9 L746.9,960.1 L748.9,960.3 L750.9,960.5 L752.9,960.7 L754.9,960.9 L756.9,961.1 L758.9,961.3 L760.9,961.5 L762.9,961.6 L764.9,961.8 L766.9,962.0 L768.9,962.2 L770.9,962.4 L772.9,962.6 L774.9,962.8 L776.9,963.0 L778.9,963.2 L780.9,963.4 L782.9,963.6 L784.9,963.8 L786.9,964.0 L788.9,964.2 L790.9,964.3 L792.9,964.5 L794.9,964.7 L796.9,964.9 L798.8,965.1 L800.8,965.3 L802.8,965.5 L804.8,965.6 L806.8,965.8 L808.8,966.0 L810.8,966.2 L812.8,966.4 L814.8,966.5 L816.8,966.7 L818.8,966.9 L820.8,967.1 L822.8,967.3 L824.8,967.4 L826.8,967.6 L828.8,967.8 L830.8,967.9 L832.8,968.1 L834.9,968.3 L836.9,968.5 L838.9,968.6 L840.9,968.8 L842.9,969.0 L844.9,969.1 L846.9,969.3 L848.9,969.4 L850.9,969.6 L852.9,969.8 L854.9,969.9 L856.9,970.1 L858.9,970.2 L860.9,970.4 L862.9,970.5 L864.9,970.7 L866.9,970.8 L868.9,971.0 L870.9,971.1 L872.9,971.3 L874.9,971.4 L876.9,971.6 L878.9,971.7 L880.9,971.9 L882.9,972.0 L884.9,972.1 L886.9,972.3 L888.9,972.4 L890.9,972.5 L892.9,972.7 L894.9,972.8 L896.9,972.9 L898.9,973.0 L900.9,973.2 L902.9,973.3 L904.9,973.4 L906.9,973.5 L908.9,973.6 L910.9,973.8 L912.9,973.9 L914.9,974.0 L916.9,974.1 L918.9,974.2 L920.9,974.3 L922.9,974.4 L924.9,974.5 L926.9,974.6 L928.9,974.7 L931.0,974.8 L933.0,974.9 L935.0,975.0 L937.0,975.1 L939.0,975.2 L941.0,975.3 L943.0,975.4 L945.0,975.4 L947.0,975.5" fill="none" stroke="#00b050" stroke-width="2.8" stroke-linejoin="round" stroke-dasharray="19.5 9.5" stroke-dashoffset="3"/>
</g>
<path d="M246.4,1336.4 L246.5,1334.4 L246.6,1332.5 L246.7,1330.5 L246.8,1328.5 L246.9,1326.6 L247.0,1324.6 L247.1,1322.6 L247.1,1320.6 L247.2,1318.6 L247.3,1316.6 L247.4,1314.6 L247.4,1312.6 L247.5,1310.6 L247.6,1308.6 L247.7,1306.6 L247.7,1304.6 L247.8,1302.6 L247.9,1300.6 L248.0,1298.6 L248.1,1296.6 L248.2,1294.6 L248.3,1292.5 L248.4,1290.5 L248.6,1288.5 L248.7,1286.5 L248.8,1284.5 L249.0,1282.4 L249.2,1280.4 L249.3,1278.4 L249.5,1276.4 L249.7,1274.4 L250.0,1272.3 L250.2,1270.3 L250.4,1268.3 L250.7,1266.3 L251.0,1264.3 L251.3,1262.3 L251.6,1260.3 L252.0,1258.3 L252.4,1256.3 L252.8,1254.3 L253.2,1252.4 L253.6,1250.4 L254.1,1248.4 L254.6,1246.5 L255.1,1244.6 L255.7,1242.7 L256.3,1240.8 L256.9,1238.9 L257.6,1237.0 L258.3,1235.1 L259.0,1233.3 L259.7,1231.4 L260.5,1229.6 L261.4,1227.8 L262.2,1226.1 L263.1,1224.3 L264.1,1222.6 L265.1,1220.8 L266.1,1219.1 L267.2,1217.5 L268.3,1215.8 L269.4,1214.2 L270.6,1212.6 L271.8,1211.0 L273.0,1209.4 L274.3,1207.9 L275.5,1206.3 L276.9,1204.8 L278.2,1203.4 L279.6,1201.9 L281.0,1200.5 L282.4,1199.1 L283.9,1197.7 L285.4,1196.3 L286.9,1195.0 L288.4,1193.7 L290.0,1192.4 L291.6,1191.2 L293.1,1189.9 L294.8,1188.7 L296.4,1187.6 L298.0,1186.4 L299.7,1185.3 L301.4,1184.2 L303.1,1183.1 L304.8,1182.1 L306.5,1181.1 L308.3,1180.1 L310.0,1179.1 L311.8,1178.1 L313.6,1177.2 L315.4,1176.3 L317.2,1175.4 L319.0,1174.5 L320.8,1173.7 L322.7,1172.9 L324.5,1172.1 L326.4,1171.3 L328.2,1170.5 L330.1,1169.8 L332.0,1169.1 L333.9,1168.3 L335.8,1167.6 L337.7,1167.0 L339.6,1166.3 L341.5,1165.7 L343.5,1165.0 L345.4,1164.4 L347.3,1163.8 L349.3,1163.2 L351.2,1162.7 L353.1,1162.1 L355.1,1161.6 L357.0,1161.0 L359.0,1160.5 L360.9,1160.0 L362.9,1159.5 L364.8,1159.0 L366.8,1158.5 L368.7,1158.1 L370.7,1157.6 L372.6,1157.1 L374.6,1156.7 L376.5,1156.3 L378.5,1155.8 L380.4,1155.4 L382.4,1155.0 L384.3,1154.6 L386.3,1154.2 L388.3,1153.8 L390.2,1153.4 L392.2,1153.1 L394.1,1152.7 L396.1,1152.3 L398.1,1151.9 L400.0,1151.6 L402.0,1151.2 L404.0,1150.9 L405.9,1150.5 L407.9,1150.2 L409.9,1149.8 L411.8,1149.5 L413.8,1149.1 L415.8,1148.8 L417.7,1148.4 L419.7,1148.1 L421.7,1147.7 L423.7,1147.4 L425.6,1147.0 L427.6,1146.7 L429.6,1146.3 L431.5,1145.9 L433.5,1145.6 L435.5,1145.2 L437.5,1144.8 L439.4,1144.5 L441.4,1144.1 L443.4,1143.7 L445.3,1143.4 L447.3,1143.0 L449.3,1142.6 L451.3,1142.3 L453.2,1141.9 L455.2,1141.5 L457.2,1141.1 L459.2,1140.8 L461.1,1140.4 L463.1,1140.0 L465.1,1139.7 L467.1,1139.3 L469.0,1138.9 L471.0,1138.6 L473.0,1138.2 L475.0,1137.9 L477.0,1137.5 L478.9,1137.2 L480.9,1136.8 L482.9,1136.5 L484.9,1136.1 L486.9,1135.8 L488.8,1135.5 L490.8,1135.2 L492.8,1134.8 L494.8,1134.5 L496.8,1134.2 L498.8,1133.9 L500.8,1133.6 L502.7,1133.3 L504.7,1133.1 L506.7,1132.8 L508.7,1132.5 L510.7,1132.3 L512.7,1132.0 L514.7,1131.7 L516.7,1131.5 L518.7,1131.3 L520.7,1131.0 L522.6,1130.8 L524.6,1130.6 L526.6,1130.3 L528.6,1130.1 L530.6,1129.9 L532.6,1129.7 L534.6,1129.5 L536.6,1129.3 L538.6,1129.0 L540.6,1128.8 L542.6,1128.6 L544.6,1128.4 L546.6,1128.3 L548.6,1128.1 L550.6,1127.9 L552.6,1127.7 L554.6,1127.5 L556.6,1127.3 L558.6,1127.1 L560.6,1126.9 L562.6,1126.7 L564.6,1126.6 L566.6,1126.4 L568.6,1126.2 L570.6,1126.0 L572.6,1125.8 L574.6,1125.6 L576.6,1125.5 L578.6,1125.3 L580.6,1125.1 L582.5,1124.9 L584.5,1124.7 L586.5,1124.6 L588.5,1124.4 L590.5,1124.2 L592.5,1124.0 L594.5,1123.9 L596.5,1123.7 L598.5,1123.5 L600.5,1123.3 L602.5,1123.2 L604.5,1123.0 L606.5,1122.8 L608.5,1122.7 L610.5,1122.5 L612.5,1122.3 L614.5,1122.2 L616.5,1122.0 L618.5,1121.8 L620.5,1121.6 L622.5,1121.5 L624.5,1121.3 L626.5,1121.2 L628.5,1121.0 L630.5,1120.8 L632.5,1120.7 L634.5,1120.5 L636.5,1120.3 L638.5,1120.2 L640.5,1120.0 L642.5,1119.9 L644.5,1119.7 L646.5,1119.5 L648.5,1119.4 L650.5,1119.2 L652.5,1119.1 L654.5,1118.9 L656.5,1118.8 L658.5,1118.6 L660.5,1118.4 L662.5,1118.3 L664.5,1118.1 L666.5,1118.0 L668.5,1117.8 L670.5,1117.7 L672.5,1117.5 L674.5,1117.4 L676.5,1117.2 L678.5,1117.1 L680.5,1116.9 L682.5,1116.8 L684.5,1116.6 L686.5,1116.5 L688.5,1116.4 L690.6,1116.2 L692.6,1116.1 L694.6,1115.9 L696.6,1115.8 L698.6,1115.6 L700.6,1115.5 L702.6,1115.3 L704.6,1115.2 L706.6,1115.1 L708.6,1114.9 L710.6,1114.8 L712.6,1114.6 L714.6,1114.5 L716.6,1114.4 L718.6,1114.2 L720.6,1114.1 L722.6,1114.0 L724.6,1113.8 L726.6,1113.7 L728.6,1113.6 L730.6,1113.4 L732.6,1113.3 L734.6,1113.2 L736.6,1113.0 L738.6,1112.9 L740.6,1112.8 L742.6,1112.6 L744.6,1112.5 L746.6,1112.4 L748.6,1112.2 L750.6,1112.1 L752.6,1112.0 L754.6,1111.9 L756.6,1111.7 L758.6,1111.6 L760.6,1111.5 L762.6,1111.4 L764.6,1111.2 L766.6,1111.1 L768.6,1111.0 L770.6,1110.9 L772.6,1110.7 L774.6,1110.6 L776.6,1110.5 L778.7,1110.4 L780.7,1110.3 L782.7,1110.1 L784.7,1110.0 L786.7,1109.9 L788.7,1109.8 L790.7,1109.7 L792.7,1109.5 L794.7,1109.4 L796.7,1109.3 L798.7,1109.2 L800.7,1109.1 L802.7,1109.0 L804.7,1108.8 L806.7,1108.7 L808.7,1108.6 L810.7,1108.5 L812.7,1108.4 L814.7,1108.3 L816.7,1108.2 L818.7,1108.1 L820.7,1108.0 L822.7,1107.8 L824.7,1107.7 L826.7,1107.6 L828.7,1107.5 L830.7,1107.4 L832.7,1107.3 L834.8,1107.2 L836.8,1107.1 L838.8,1107.0 L840.8,1106.9 L842.8,1106.8 L844.8,1106.7 L846.8,1106.6 L848.8,1106.5 L850.8,1106.4 L852.8,1106.3 L854.8,1106.2 L856.8,1106.1 L858.8,1106.0 L860.8,1105.9 L862.8,1105.8 L864.8,1105.7 L866.8,1105.6 L868.8,1105.5 L870.8,1105.4 L872.8,1105.3 L874.8,1105.2 L876.8,1105.1 L878.8,1105.0 L880.8,1104.9 L882.9,1104.8 L884.9,1104.7 L886.9,1104.6 L888.9,1104.5 L890.9,1104.4 L892.9,1104.3 L894.9,1104.2 L896.9,1104.1 L898.9,1104.0 L900.9,1103.9 L902.9,1103.9 L904.9,1103.8 L906.9,1103.7 L908.9,1103.6 L910.9,1103.5 L912.9,1103.4 L914.9,1103.3 L916.9,1103.2 L918.9,1103.1 L920.9,1103.1 L922.9,1103.0 L924.9,1102.9 L927.0,1102.8 L929.0,1102.7 L931.0,1102.6 L933.0,1102.5 L935.0,1102.5 L937.0,1102.4 L939.0,1102.3 L941.0,1102.2 L943.0,1102.1 L945.0,1102.1 L947.0,1102.0" fill="none" stroke="#ff0000" stroke-width="2.4" stroke-linejoin="round"/>
<path d="M217.8,1326.4 L218.1,1324.4 L218.3,1322.5 L218.5,1320.5 L218.7,1318.5 L218.9,1316.6 L219.0,1314.6 L219.2,1312.6 L219.4,1310.6 L219.6,1308.6 L219.7,1306.6 L219.9,1304.6 L220.1,1302.6 L220.2,1300.6 L220.4,1298.6 L220.5,1296.6 L220.7,1294.6 L220.9,1292.6 L221.1,1290.6 L221.2,1288.6 L221.4,1286.6 L221.6,1284.6 L221.8,1282.6 L222.0,1280.5 L222.2,1278.5 L222.5,1276.5 L222.7,1274.5 L222.9,1272.5 L223.2,1270.5 L223.5,1268.5 L223.8,1266.5 L224.1,1264.6 L224.4,1262.6 L224.8,1260.6 L225.1,1258.6 L225.5,1256.7 L225.9,1254.7 L226.3,1252.7 L226.8,1250.8 L227.3,1248.9 L227.8,1246.9 L228.3,1245.0 L228.8,1243.1 L229.4,1241.2 L230.0,1239.2 L230.6,1237.4 L231.3,1235.5 L232.0,1233.6 L232.7,1231.7 L233.5,1229.9 L234.3,1228.0 L235.1,1226.2 L236.0,1224.4 L236.9,1222.6 L237.8,1220.9 L238.8,1219.1 L239.8,1217.4 L240.8,1215.7 L241.9,1214.0 L243.1,1212.4 L244.2,1210.8 L245.5,1209.2 L246.7,1207.7 L248.0,1206.2 L249.4,1204.7 L250.8,1203.3 L252.2,1201.9 L253.7,1200.5 L255.2,1199.2 L256.7,1197.9 L258.3,1196.6 L259.9,1195.3 L261.5,1194.1 L263.1,1192.9 L264.7,1191.8 L266.3,1190.6 L268.0,1189.5 L269.7,1188.4 L271.4,1187.4 L273.1,1186.3 L274.8,1185.3 L276.5,1184.3 L278.3,1183.3 L280.1,1182.4 L281.8,1181.5 L283.6,1180.6 L285.4,1179.7 L287.2,1178.8 L289.1,1178.0 L290.9,1177.2 L292.7,1176.4 L294.6,1175.6 L296.5,1174.8 L298.3,1174.1 L300.2,1173.4 L302.1,1172.7 L304.0,1172.0 L305.9,1171.3 L307.8,1170.6 L309.7,1170.0 L311.6,1169.4 L313.6,1168.8 L315.5,1168.2 L317.4,1167.6 L319.4,1167.0 L321.3,1166.4 L323.2,1165.9 L325.2,1165.3 L327.1,1164.8 L329.1,1164.3 L331.0,1163.8 L333.0,1163.3 L334.9,1162.8 L336.9,1162.3 L338.8,1161.8 L340.8,1161.4 L342.8,1160.9 L344.7,1160.5 L346.7,1160.0 L348.6,1159.6 L350.6,1159.2 L352.5,1158.8 L354.5,1158.4 L356.5,1158.0 L358.4,1157.6 L360.4,1157.2 L362.4,1156.8 L364.3,1156.4 L366.3,1156.0 L368.2,1155.7 L370.2,1155.3 L372.2,1155.0 L374.2,1154.6 L376.1,1154.3 L378.1,1153.9 L380.1,1153.6 L382.0,1153.3 L384.0,1152.9 L386.0,1152.6 L387.9,1152.3 L389.9,1152.0 L391.9,1151.7 L393.9,1151.3 L395.8,1151.0 L397.8,1150.7 L399.8,1150.4 L401.8,1150.1 L403.7,1149.8 L405.7,1149.5 L407.7,1149.2 L409.7,1148.9 L411.6,1148.6 L413.6,1148.3 L415.6,1148.0 L417.6,1147.7 L419.6,1147.4 L421.5,1147.1 L423.5,1146.8 L425.5,1146.5 L427.5,1146.2 L429.5,1145.9 L431.5,1145.6 L433.4,1145.3 L435.4,1145.0 L437.4,1144.7 L439.4,1144.4 L441.4,1144.1 L443.4,1143.8 L445.3,1143.5 L447.3,1143.2 L449.3,1142.9 L451.3,1142.6 L453.3,1142.3 L455.3,1142.0 L457.3,1141.7 L459.2,1141.4 L461.2,1141.1 L463.2,1140.8 L465.2,1140.5 L467.2,1140.2 L469.2,1139.9 L471.2,1139.7 L473.2,1139.4 L475.2,1139.1 L477.1,1138.8 L479.1,1138.6 L481.1,1138.3 L483.1,1138.0 L485.1,1137.8 L487.1,1137.5 L489.1,1137.2 L491.1,1137.0 L493.1,1136.7 L495.0,1136.5 L497.0,1136.2 L499.0,1136.0 L501.0,1135.7 L503.0,1135.5 L505.0,1135.3 L507.0,1135.0 L509.0,1134.8 L511.0,1134.6 L513.0,1134.3 L515.0,1134.1 L517.0,1133.9 L518.9,1133.6 L520.9,1133.4 L522.9,1133.2 L524.9,1133.0 L526.9,1132.8 L528.9,1132.6 L530.9,1132.3 L532.9,1132.1 L534.9,1131.9 L536.9,1131.7 L538.9,1131.5 L540.9,1131.3 L542.9,1131.1 L544.9,1130.9 L546.9,1130.7 L548.9,1130.5 L550.9,1130.3 L552.8,1130.1 L554.8,1129.9 L556.8,1129.7 L558.8,1129.5 L560.8,1129.4 L562.8,1129.2 L564.8,1129.0 L566.8,1128.8 L568.8,1128.6 L570.8,1128.4 L572.8,1128.3 L574.8,1128.1 L576.8,1127.9 L578.8,1127.7 L580.8,1127.5 L582.8,1127.4 L584.8,1127.2 L586.8,1127.0 L588.8,1126.9 L590.8,1126.7 L592.8,1126.5 L594.8,1126.4 L596.8,1126.2 L598.8,1126.0 L600.8,1125.9 L602.8,1125.7 L604.8,1125.5 L606.8,1125.4 L608.8,1125.2 L610.8,1125.0 L612.8,1124.9 L614.8,1124.7 L616.7,1124.6 L618.7,1124.4 L620.7,1124.2 L622.7,1124.1 L624.7,1123.9 L626.7,1123.8 L628.7,1123.6 L630.7,1123.5 L632.7,1123.3 L634.7,1123.2 L636.7,1123.0 L638.7,1122.8 L640.7,1122.7 L642.7,1122.5 L644.7,1122.4 L646.7,1122.2 L648.7,1122.1 L650.7,1121.9 L652.7,1121.8 L654.7,1121.6 L656.7,1121.5 L658.7,1121.3 L660.7,1121.2 L662.7,1121.0 L664.7,1120.9 L666.7,1120.8 L668.7,1120.6 L670.7,1120.5 L672.7,1120.3 L674.7,1120.2 L676.7,1120.0 L678.7,1119.9 L680.7,1119.7 L682.7,1119.6 L684.7,1119.5 L686.7,1119.3 L688.7,1119.2 L690.7,1119.0 L692.7,1118.9 L694.7,1118.8 L696.7,1118.6 L698.7,1118.5 L700.7,1118.4 L702.7,1118.2 L704.7,1118.1 L706.7,1117.9 L708.7,1117.8 L710.7,1117.7 L712.7,1117.5 L714.7,1117.4 L716.7,1117.3 L718.7,1117.1 L720.7,1117.0 L722.7,1116.9 L724.7,1116.7 L726.7,1116.6 L728.7,1116.5 L730.7,1116.4 L732.7,1116.2 L734.7,1116.1 L736.7,1116.0 L738.7,1115.8 L740.7,1115.7 L742.7,1115.6 L744.7,1115.5 L746.7,1115.3 L748.7,1115.2 L750.7,1115.1 L752.8,1115.0 L754.8,1114.8 L756.8,1114.7 L758.8,1114.6 L760.8,1114.5 L762.8,1114.3 L764.8,1114.2 L766.8,1114.1 L768.8,1114.0 L770.8,1113.9 L772.8,1113.7 L774.8,1113.6 L776.8,1113.5 L778.8,1113.4 L780.8,1113.3 L782.8,1113.1 L784.8,1113.0 L786.8,1112.9 L788.8,1112.8 L790.8,1112.7 L792.8,1112.6 L794.8,1112.5 L796.8,1112.3 L798.8,1112.2 L800.8,1112.1 L802.8,1112.0 L804.8,1111.9 L806.8,1111.8 L808.8,1111.7 L810.8,1111.6 L812.8,1111.4 L814.8,1111.3 L816.8,1111.2 L818.8,1111.1 L820.8,1111.0 L822.8,1110.9 L824.8,1110.8 L826.8,1110.7 L828.8,1110.6 L830.8,1110.5 L832.8,1110.4 L834.8,1110.3 L836.8,1110.2 L838.8,1110.1 L840.8,1110.0 L842.8,1109.9 L844.8,1109.8 L846.9,1109.7 L848.9,1109.6 L850.9,1109.5 L852.9,1109.4 L854.9,1109.3 L856.9,1109.2 L858.9,1109.1 L860.9,1109.0 L862.9,1108.9 L864.9,1108.8 L866.9,1108.7 L868.9,1108.6 L870.9,1108.5 L872.9,1108.4 L874.9,1108.3 L876.9,1108.2 L878.9,1108.1 L880.9,1108.0 L882.9,1107.9 L884.9,1107.8 L886.9,1107.7 L888.9,1107.6 L890.9,1107.5 L892.9,1107.5 L894.9,1107.4 L896.9,1107.3 L898.9,1107.2 L900.9,1107.1 L902.9,1107.0 L904.9,1106.9 L906.9,1106.8 L908.9,1106.7 L910.9,1106.7 L912.9,1106.6 L915.0,1106.5 L917.0,1106.4 L919.0,1106.3 L921.0,1106.2 L923.0,1106.2 L925.0,1106.1 L927.0,1106.0 L929.0,1105.9 L931.0,1105.8 L933.0,1105.7 L935.0,1105.7 L937.0,1105.6 L939.0,1105.5 L941.0,1105.4 L943.0,1105.3 L945.0,1105.3 L947.0,1105.2" fill="none" stroke="#000" stroke-width="4.6" stroke-linejoin="round"/>
<path d="M196.0,1322.3 L196.0,1320.3 L196.0,1318.2 L195.9,1316.2 L195.9,1314.2 L195.9,1312.2 L196.0,1310.2 L196.0,1308.2 L196.0,1306.2 L196.1,1304.2 L196.2,1302.2 L196.2,1300.2 L196.3,1298.2 L196.4,1296.2 L196.6,1294.2 L196.7,1292.2 L196.8,1290.2 L197.0,1288.2 L197.1,1286.3 L197.3,1284.3 L197.5,1282.3 L197.7,1280.3 L197.9,1278.3 L198.1,1276.3 L198.4,1274.4 L198.6,1272.4 L198.8,1270.4 L199.1,1268.4 L199.4,1266.4 L199.6,1264.4 L199.9,1262.4 L200.2,1260.4 L200.5,1258.3 L200.8,1256.3 L201.1,1254.3 L201.5,1252.3 L201.8,1250.2 L202.2,1248.2 L202.7,1246.2 L203.2,1244.3 L203.7,1242.4 L204.4,1240.5 L205.2,1238.7 L206.1,1237.0 L207.0,1235.3 L208.1,1233.7 L209.3,1232.1 L210.6,1230.5 L211.8,1229.0 L213.0,1227.4 L214.2,1225.8 L215.3,1224.1 L216.4,1222.3 L217.5,1220.5 L218.5,1218.8 L219.6,1217.0 L220.7,1215.3 L221.8,1213.6 L223.0,1211.9 L224.2,1210.3 L225.5,1208.8 L226.8,1207.3 L228.1,1205.8 L229.5,1204.4 L230.9,1203.1 L232.4,1201.7 L233.9,1200.4 L235.5,1199.2 L237.0,1198.0 L238.6,1196.8 L240.3,1195.6 L241.9,1194.5 L243.6,1193.5 L245.3,1192.4 L247.0,1191.4 L248.8,1190.4 L250.5,1189.4 L252.3,1188.5 L254.1,1187.6 L255.9,1186.7 L257.7,1185.8 L259.5,1184.9 L261.4,1184.1 L263.2,1183.3 L265.1,1182.4 L266.9,1181.6 L268.8,1180.9 L270.6,1180.1 L272.5,1179.4 L274.4,1178.6 L276.2,1177.9 L278.1,1177.2 L280.0,1176.5 L281.9,1175.8 L283.8,1175.2 L285.7,1174.5 L287.6,1173.9 L289.5,1173.2 L291.4,1172.6 L293.3,1172.0 L295.2,1171.4 L297.1,1170.8 L299.0,1170.2 L301.0,1169.7 L302.9,1169.1 L304.8,1168.6 L306.8,1168.0 L308.7,1167.5 L310.6,1167.0 L312.6,1166.5 L314.5,1166.0 L316.5,1165.5 L318.4,1165.0 L320.4,1164.5 L322.3,1164.0 L324.3,1163.6 L326.2,1163.1 L328.2,1162.6 L330.1,1162.2 L332.1,1161.7 L334.0,1161.3 L336.0,1160.9 L337.9,1160.4 L339.9,1160.0 L341.9,1159.6 L343.8,1159.2 L345.8,1158.8 L347.8,1158.4 L349.7,1158.0 L351.7,1157.6 L353.7,1157.2 L355.6,1156.8 L357.6,1156.4 L359.6,1156.0 L361.5,1155.6 L363.5,1155.3 L365.5,1154.9 L367.4,1154.5 L369.4,1154.2 L371.4,1153.8 L373.4,1153.5 L375.3,1153.1 L377.3,1152.8 L379.3,1152.5 L381.3,1152.1 L383.2,1151.8 L385.2,1151.5 L387.2,1151.1 L389.2,1150.8 L391.2,1150.5 L393.1,1150.2 L395.1,1149.9 L397.1,1149.6 L399.1,1149.3 L401.1,1149.0 L403.1,1148.7 L405.0,1148.4 L407.0,1148.1 L409.0,1147.8 L411.0,1147.5 L413.0,1147.2 L415.0,1147.0 L417.0,1146.7 L418.9,1146.4 L420.9,1146.1 L422.9,1145.9 L424.9,1145.6 L426.9,1145.3 L428.9,1145.1 L430.9,1144.8 L432.9,1144.6 L434.9,1144.3 L436.9,1144.0 L438.8,1143.8 L440.8,1143.5 L442.8,1143.3 L444.8,1143.1 L446.8,1142.8 L448.8,1142.6 L450.8,1142.3 L452.8,1142.1 L454.8,1141.9 L456.8,1141.6 L458.8,1141.4 L460.8,1141.2 L462.8,1140.9 L464.8,1140.7 L466.7,1140.5 L468.7,1140.2 L470.7,1140.0 L472.7,1139.8 L474.7,1139.6 L476.7,1139.4 L478.7,1139.1 L480.7,1138.9 L482.7,1138.7 L484.7,1138.5 L486.7,1138.3 L488.7,1138.1 L490.7,1137.8 L492.7,1137.6 L494.7,1137.4 L496.7,1137.2 L498.7,1137.0 L500.7,1136.8 L502.6,1136.6 L504.6,1136.4 L506.6,1136.2 L508.6,1136.0 L510.6,1135.8 L512.6,1135.6 L514.6,1135.4 L516.6,1135.2 L518.6,1135.0 L520.6,1134.8 L522.6,1134.6 L524.6,1134.4 L526.6,1134.2 L528.6,1134.0 L530.6,1133.8 L532.6,1133.6 L534.6,1133.5 L536.6,1133.3 L538.6,1133.1 L540.6,1132.9 L542.6,1132.7 L544.6,1132.5 L546.6,1132.3 L548.6,1132.2 L550.6,1132.0 L552.6,1131.8 L554.6,1131.6 L556.6,1131.4 L558.6,1131.3 L560.6,1131.1 L562.6,1130.9 L564.6,1130.7 L566.6,1130.6 L568.6,1130.4 L570.6,1130.2 L572.5,1130.1 L574.5,1129.9 L576.5,1129.7 L578.5,1129.5 L580.5,1129.4 L582.5,1129.2 L584.5,1129.0 L586.5,1128.9 L588.5,1128.7 L590.5,1128.5 L592.5,1128.4 L594.5,1128.2 L596.5,1128.1 L598.5,1127.9 L600.5,1127.7 L602.5,1127.6 L604.5,1127.4 L606.5,1127.3 L608.5,1127.1 L610.5,1127.0 L612.5,1126.8 L614.5,1126.6 L616.5,1126.5 L618.5,1126.3 L620.5,1126.2 L622.5,1126.0 L624.5,1125.9 L626.5,1125.7 L628.5,1125.6 L630.5,1125.4 L632.5,1125.3 L634.5,1125.1 L636.5,1125.0 L638.5,1124.8 L640.5,1124.7 L642.5,1124.5 L644.5,1124.4 L646.5,1124.2 L648.5,1124.1 L650.5,1123.9 L652.5,1123.8 L654.5,1123.6 L656.5,1123.5 L658.5,1123.4 L660.5,1123.2 L662.5,1123.1 L664.5,1122.9 L666.5,1122.8 L668.5,1122.7 L670.5,1122.5 L672.5,1122.4 L674.6,1122.2 L676.6,1122.1 L678.6,1122.0 L680.6,1121.8 L682.6,1121.7 L684.6,1121.6 L686.6,1121.4 L688.6,1121.3 L690.6,1121.2 L692.6,1121.0 L694.6,1120.9 L696.6,1120.8 L698.6,1120.6 L700.6,1120.5 L702.6,1120.4 L704.6,1120.2 L706.6,1120.1 L708.6,1120.0 L710.6,1119.8 L712.6,1119.7 L714.6,1119.6 L716.6,1119.5 L718.6,1119.3 L720.6,1119.2 L722.6,1119.1 L724.6,1119.0 L726.6,1118.8 L728.6,1118.7 L730.6,1118.6 L732.6,1118.5 L734.6,1118.3 L736.6,1118.2 L738.6,1118.1 L740.6,1118.0 L742.6,1117.9 L744.6,1117.7 L746.6,1117.6 L748.6,1117.5 L750.6,1117.4 L752.6,1117.3 L754.6,1117.1 L756.6,1117.0 L758.6,1116.9 L760.6,1116.8 L762.6,1116.7 L764.6,1116.6 L766.7,1116.4 L768.7,1116.3 L770.7,1116.2 L772.7,1116.1 L774.7,1116.0 L776.7,1115.9 L778.7,1115.8 L780.7,1115.7 L782.7,1115.5 L784.7,1115.4 L786.7,1115.3 L788.7,1115.2 L790.7,1115.1 L792.7,1115.0 L794.7,1114.9 L796.7,1114.8 L798.7,1114.7 L800.7,1114.6 L802.7,1114.5 L804.7,1114.4 L806.7,1114.3 L808.7,1114.2 L810.7,1114.0 L812.7,1113.9 L814.7,1113.8 L816.7,1113.7 L818.7,1113.6 L820.7,1113.5 L822.7,1113.4 L824.7,1113.3 L826.8,1113.2 L828.8,1113.1 L830.8,1113.0 L832.8,1112.9 L834.8,1112.8 L836.8,1112.7 L838.8,1112.6 L840.8,1112.5 L842.8,1112.5 L844.8,1112.4 L846.8,1112.3 L848.8,1112.2 L850.8,1112.1 L852.8,1112.0 L854.8,1111.9 L856.8,1111.8 L858.8,1111.7 L860.8,1111.6 L862.8,1111.5 L864.8,1111.4 L866.8,1111.3 L868.8,1111.2 L870.8,1111.1 L872.8,1111.1 L874.8,1111.0 L876.8,1110.9 L878.9,1110.8 L880.9,1110.7 L882.9,1110.6 L884.9,1110.5 L886.9,1110.4 L888.9,1110.4 L890.9,1110.3 L892.9,1110.2 L894.9,1110.1 L896.9,1110.0 L898.9,1109.9 L900.9,1109.8 L902.9,1109.8 L904.9,1109.7 L906.9,1109.6 L908.9,1109.5 L910.9,1109.4 L912.9,1109.3 L914.9,1109.3 L916.9,1109.2 L918.9,1109.1 L920.9,1109.0 L922.9,1108.9 L925.0,1108.9 L927.0,1108.8 L929.0,1108.7 L931.0,1108.6 L933.0,1108.5 L935.0,1108.5 L937.0,1108.4 L939.0,1108.3 L941.0,1108.2 L943.0,1108.2 L945.0,1108.1 L947.0,1108.0" fill="none" stroke="#00b050" stroke-width="4.5" stroke-linejoin="round"/>
<path d="M196,1327 Q197.5,1400 203,1486" fill="none" stroke="#00b050" stroke-width="2.1" stroke-linejoin="round" stroke-dasharray="19.6 9.2" stroke-dashoffset="-3"/>
<path d="M219.8,1330 Q221.5,1400 225.5,1478" fill="none" stroke="#000" stroke-width="2.5" stroke-linejoin="round" stroke-dasharray="20 8.8" stroke-dashoffset="-10"/>
<path d="M247.3,1338 Q248.5,1410 251.3,1481" fill="none" stroke="#ff0000" stroke-width="2.5" stroke-linejoin="round" stroke-dasharray="20 8.8" stroke-dashoffset="-5"/>
<path d="M947.95,857.0 L151.75,857.0 L151.75,1486.25 L953.75,1486.25" fill="none" stroke="#000" stroke-width="2.5" stroke-linejoin="miter"/>
<line x1="946.75" y1="855.80" x2="946.75" y2="1487.45" stroke="#000" stroke-width="2.5"/>
<line x1="151.75" y1="1002.50" x2="953.75" y2="1002.50" stroke="#000" stroke-width="2.5"/>
<line x1="946.75" y1="905.50" x2="953.25" y2="905.50" stroke="#000" stroke-width="2.4"/>
<line x1="946.75" y1="954.20" x2="953.25" y2="954.20" stroke="#000" stroke-width="2.4"/>
<line x1="946.75" y1="1051.20" x2="953.25" y2="1051.20" stroke="#000" stroke-width="2.4"/>
<line x1="946.75" y1="1099.60" x2="953.25" y2="1099.60" stroke="#000" stroke-width="2.4"/>
<line x1="946.75" y1="1147.60" x2="953.25" y2="1147.60" stroke="#000" stroke-width="2.4"/>
<line x1="946.75" y1="1195.80" x2="953.25" y2="1195.80" stroke="#000" stroke-width="2.4"/>
<line x1="946.75" y1="1244.20" x2="953.25" y2="1244.20" stroke="#000" stroke-width="2.4"/>
<line x1="946.75" y1="1292.60" x2="953.25" y2="1292.60" stroke="#000" stroke-width="2.4"/>
<line x1="946.75" y1="1341.00" x2="953.25" y2="1341.00" stroke="#000" stroke-width="2.4"/>
<line x1="946.75" y1="1389.50" x2="953.25" y2="1389.50" stroke="#000" stroke-width="2.4"/>
<line x1="946.75" y1="1438.00" x2="953.25" y2="1438.00" stroke="#000" stroke-width="2.4"/>
<line x1="530.50" y1="1002.50" x2="530.50" y2="994.50" stroke="#000" stroke-width="2.2"/>
<line x1="909.30" y1="1002.50" x2="909.30" y2="994.50" stroke="#000" stroke-width="2.2"/>
<text x="151.50" y="1043.00" font-size="27" font-family='"Liberation Serif", "DejaVu Serif", serif' font-weight="bold" text-anchor="middle">-3.42</text>
<text x="530.30" y="1043.00" font-size="27" font-family='"Liberation Serif", "DejaVu Serif", serif' font-weight="bold" text-anchor="middle">-3.22</text>
<text x="908.80" y="1043.00" font-size="27" font-family='"Liberation Serif", "DejaVu Serif", serif' font-weight="bold" text-anchor="middle">-3.02</text>
<text x="922.80" y="1011.30" font-size="27" font-family='"Liberation Serif", "DejaVu Serif", serif' font-weight="bold" text-anchor="end">0</text>
<text x="922.80" y="1253.00" font-size="27" font-family='"Liberation Serif", "DejaVu Serif", serif' font-weight="bold" text-anchor="end">-250</text>
<text x="922.80" y="1496.50" font-size="27" font-family='"Liberation Serif", "DejaVu Serif", serif' font-weight="bold" text-anchor="end">-500</text>
<line x1="157.00" y1="892.00" x2="218.80" y2="892.00" stroke="#000" stroke-width="3.2"/>
<line x1="158.00" y1="931.80" x2="219.50" y2="931.80" stroke="#000" stroke-width="2.5" stroke-dasharray="12 8.3"/>
<text x="237.50" y="897.50" font-size="31" font-family='"Liberation Serif", "DejaVu Serif", serif' textLength="177.50" lengthAdjust="spacing" stroke="#000" stroke-width="0.5">First Solution</text>
<text x="238.50" y="938.70" font-size="31" font-family='"Liberation Serif", "DejaVu Serif", serif' textLength="212.70" lengthAdjust="spacing" stroke="#000" stroke-width="0.5">Second Solution</text>
<rect x="655.00" y="865.75" width="226.25" height="73.75" fill="none" stroke="#000" stroke-width="2"/>
<text x="661.5" y="890" font-size="26.5" font-family='"Liberation Serif", "DejaVu Serif", serif' stroke="#000" stroke-width="0.45" textLength="170" lengthAdjust="spacing">Pr = 6.2, <tspan font-style="italic">m</tspan> = 0.5</text>
<text x="662" y="928" font-size="26.5" font-family='"Liberation Serif", "DejaVu Serif", serif' stroke="#000" stroke-width="0.45" textLength="213" lengthAdjust="spacing"><tspan font-style="italic">Ec</tspan> = 1, <tspan font-style="italic">A</tspan> = 0.8, <tspan font-style="italic">S</tspan> = 2</text>
<text x="163.00" y="1073.00" font-size="30.5" font-family='"Liberation Serif", "DejaVu Serif", serif' stroke="#000" stroke-width="0.5">(</text>
<text x="175.00" y="1070.50" font-size="25" font-family='"Liberation Serif", "DejaVu Serif", serif' font-style="italic" stroke="#000" stroke-width="0.5">λ</text>
<text x="189.00" y="1076.75" font-size="14.5" font-family='"Liberation Serif", "DejaVu Serif", serif' stroke="#000" stroke-width="0.3"><tspan font-style="italic">c</tspan><tspan dx="1">2</tspan></text>
<text x="212.00" y="1070.50" font-size="25" font-family='"Liberation Serif", "DejaVu Serif", serif' stroke="#000" stroke-width="0.5">=</text>
<text x="232.00" y="1070.50" font-size="25" font-family='"Liberation Serif", "DejaVu Serif", serif' textLength="117.00" lengthAdjust="spacing" stroke="#000" stroke-width="0.5">−3.396836,</text>
<text x="354.00" y="1070.50" font-size="25" font-family='"Liberation Serif", "DejaVu Serif", serif' textLength="84.50" lengthAdjust="spacing" stroke="#000" stroke-width="0.5">−331.15</text>
<text x="441.00" y="1073.00" font-size="30.5" font-family='"Liberation Serif", "DejaVu Serif", serif' stroke="#000" stroke-width="0.5">)</text>
<text x="282.00" y="1322.50" font-size="30.5" font-family='"Liberation Serif", "DejaVu Serif", serif' stroke="#000" stroke-width="0.5">(</text>
<text x="294.00" y="1320.00" font-size="25" font-family='"Liberation Serif", "DejaVu Serif", serif' font-style="italic" stroke="#000" stroke-width="0.5">λ</text>
<text x="308.00" y="1326.25" font-size="14.5" font-family='"Liberation Serif", "DejaVu Serif", serif' stroke="#000" stroke-width="0.3"><tspan font-style="italic">c</tspan><tspan dx="1">2</tspan></text>
<text x="331.00" y="1320.00" font-size="25" font-family='"Liberation Serif", "DejaVu Serif", serif' stroke="#000" stroke-width="0.5">=</text>
<text x="351.00" y="1320.00" font-size="25" font-family='"Liberation Serif", "DejaVu Serif", serif' textLength="117.00" lengthAdjust="spacing" stroke="#000" stroke-width="0.5">−3.384193,</text>
<text x="473.00" y="1320.00" font-size="25" font-family='"Liberation Serif", "DejaVu Serif", serif' textLength="84.50" lengthAdjust="spacing" stroke="#000" stroke-width="0.5">−336.85</text>
<text x="560.00" y="1322.50" font-size="30.5" font-family='"Liberation Serif", "DejaVu Serif", serif' stroke="#000" stroke-width="0.5">)</text>
<text x="273.50" y="1405.00" font-size="30.5" font-family='"Liberation Serif", "DejaVu Serif", serif' stroke="#000" stroke-width="0.5">(</text>
<text x="285.50" y="1402.50" font-size="25" font-family='"Liberation Serif", "DejaVu Serif", serif' font-style="italic" stroke="#000" stroke-width="0.5">λ</text>
<text x="299.50" y="1408.75" font-size="14.5" font-family='"Liberation Serif", "DejaVu Serif", serif' stroke="#000" stroke-width="0.3"><tspan font-style="italic">c</tspan><tspan dx="1">2</tspan></text>
<text x="322.50" y="1402.50" font-size="25" font-family='"Liberation Serif", "DejaVu Serif", serif' stroke="#000" stroke-width="0.5">=</text>
<text x="342.50" y="1402.50" font-size="25" font-family='"Liberation Serif", "DejaVu Serif", serif' textLength="104.50" lengthAdjust="spacing" stroke="#000" stroke-width="0.5">−3.36958,</text>
<text x="452.00" y="1402.50" font-size="25" font-family='"Liberation Serif", "DejaVu Serif", serif' textLength="85.50" lengthAdjust="spacing" stroke="#000" stroke-width="0.5">−343.70</text>
<text x="540.00" y="1405.00" font-size="30.5" font-family='"Liberation Serif", "DejaVu Serif", serif' stroke="#000" stroke-width="0.5">)</text>
<text x="390.50" y="1110.00" font-size="30.5" font-family='"Liberation Serif", "DejaVu Serif", serif' stroke="#000" stroke-width="0.5">(</text>
<text x="401.00" y="1107.50" font-size="25" font-family='"Liberation Serif", "DejaVu Serif", serif' textLength="66.00" lengthAdjust="spacing" stroke="#000" stroke-width="0.5">−3.26,</text>
<text x="470.00" y="1107.50" font-size="25" font-family='"Liberation Serif", "DejaVu Serif", serif' textLength="86.50" lengthAdjust="spacing" stroke="#000" stroke-width="0.5">−143.20</text>
<text x="558.00" y="1110.00" font-size="30.5" font-family='"Liberation Serif", "DejaVu Serif", serif' stroke="#000" stroke-width="0.5">)</text>
<text x="400" y="1217" font-size="28.5" font-family='"Liberation Serif", "DejaVu Serif", serif' font-style="italic" stroke="#000" stroke-width="0.45" textLength="243" lengthAdjust="spacing">ϕ = 0.02, 0.03, 0.04</text>
<line x1="195.30" y1="1320.00" x2="194.40" y2="1095.00" stroke="#00b050" stroke-width="2.5"/>
<polyline points="205.07,1112.46 194.40,1095.00 183.87,1112.54" fill="none" stroke="#00b050" stroke-width="2.5" stroke-linejoin="round" stroke-linecap="round"/>
<line x1="218.00" y1="1326.50" x2="278.00" y2="1313.80" stroke="#000" stroke-width="3"/>
<polyline points="262.46,1327.31 278.00,1313.80 258.32,1307.74" fill="none" stroke="#000" stroke-width="3" stroke-linejoin="round" stroke-linecap="round"/>
<line x1="246.50" y1="1336.50" x2="276.20" y2="1371.80" stroke="#ff0000" stroke-width="2.5"/>
<polyline points="257.24,1364.49 276.20,1371.80 272.24,1351.87" fill="none" stroke="#ff0000" stroke-width="2.5" stroke-linejoin="round" stroke-linecap="round"/>
<line x1="462.00" y1="1138.00" x2="461.30" y2="1117.50" stroke="#000" stroke-width="2.6"/>
<polyline points="471.37,1134.17 461.30,1117.50 452.39,1134.81" fill="none" stroke="#000" stroke-width="2.6" stroke-linejoin="round" stroke-linecap="round"/>
<line x1="366.30" y1="1203.00" x2="281.10" y2="1145.58" stroke="#000" stroke-width="3.1"/>
<polygon points="266.30,1135.60 294.71,1139.07 281.10,1145.58 280.18,1160.63" fill="#000"/>
<line x1="722.50" y1="1094.00" x2="685.22" y2="1162.76" stroke="#000" stroke-width="3"/>
<polygon points="677.50,1177.00 679.82,1147.54 685.22,1162.76 700.92,1158.98" fill="#000"/>
<line x1="296.30" y1="1433.00" x2="178.22" y2="1462.39" stroke="#000" stroke-width="3" stroke-dasharray="20.5 9" stroke-dashoffset="9"/>
<polygon points="162.50,1466.30 185.80,1448.13 178.22,1462.39 191.60,1471.42" fill="#000"/>
<circle cx="196.00" cy="1322.30" r="5" fill="#000"/>
<circle cx="218.10" cy="1326.50" r="5" fill="#000"/>
<circle cx="246.50" cy="1336.50" r="5" fill="#000"/>
<circle cx="462.50" cy="1140.70" r="5" fill="#000"/>
<line x1="697.50" y1="1072.50" x2="752.50" y2="1066.00" stroke="#ff0000" stroke-width="2.8"/>
<line x1="697.50" y1="1080.50" x2="752.50" y2="1075.50" stroke="#000" stroke-width="3.4"/>
<line x1="697.50" y1="1090.00" x2="752.50" y2="1084.50" stroke="#00b050" stroke-width="3.6"/>
<path d="M697.5,1045.5 L697.5,1093 L758.5,1093 M697.5,1052 L758.5,1052" fill="none" stroke="#000" stroke-width="2.6" stroke-linejoin="miter"/>
<line x1="752.50" y1="1051.00" x2="752.50" y2="1094.00" stroke="#000" stroke-width="2.6"/>
<line x1="752.50" y1="1060.20" x2="757.50" y2="1060.20" stroke="#000" stroke-width="2"/>
<line x1="752.50" y1="1068.40" x2="757.50" y2="1068.40" stroke="#000" stroke-width="2"/>
<line x1="752.50" y1="1076.60" x2="757.50" y2="1076.60" stroke="#000" stroke-width="2"/>
<line x1="752.50" y1="1084.80" x2="757.50" y2="1084.80" stroke="#000" stroke-width="2"/>
<text x="679.50" y="1034.50" font-size="17.5" font-family='"Liberation Sans", "DejaVu Sans", sans-serif' fill="#595959" textLength="38.00" lengthAdjust="spacing">-3.15</text>
<text x="770.00" y="1058.50" font-size="17.5" font-family='"Liberation Sans", "DejaVu Sans", sans-serif' fill="#595959" textLength="34.00" lengthAdjust="spacing">-115</text>
<text x="770.00" y="1099.50" font-size="17.5" font-family='"Liberation Sans", "DejaVu Sans", sans-serif' fill="#595959" textLength="34.00" lengthAdjust="spacing">-125</text>
<text x="8.50" y="1201.40" font-size="32" font-family='"Liberation Serif", "DejaVu Serif", serif' stroke="#000" stroke-width="0.3">Re</text>
<text x="44.80" y="1185.50" font-size="18.5" font-family='"Liberation Serif", "DejaVu Serif", serif' textLength="33.50" lengthAdjust="spacing" stroke="#000" stroke-width="0.5">−1/2</text>
<text x="44.50" y="1210.00" font-size="18.5" font-family='"Liberation Serif", "DejaVu Serif", serif' font-style="italic" stroke="#000" stroke-width="0.5">x</text>
<text x="86.00" y="1201.40" font-size="32" font-family='"Liberation Serif", "DejaVu Serif", serif' font-style="italic" stroke="#000" stroke-width="0.3">Nu</text>
<text x="124.00" y="1210.00" font-size="18.5" font-family='"Liberation Serif", "DejaVu Serif", serif' font-style="italic" stroke="#000" stroke-width="0.5">x</text>
<text x="558.70" y="1526.20" font-size="39.5" font-family='"Liberation Serif", "DejaVu Serif", serif' font-style="italic" textLength="22.50" lengthAdjust="spacingAndGlyphs" stroke="#000" stroke-width="0.5">λ</text>
<text x="573.00" y="1628.50" font-size="55" font-family='"Liberation Serif", "DejaVu Serif", serif' font-weight="bold" text-anchor="middle">(c)</text>
<!-- panel d -->
<clipPath id="cd"><rect x="1229.75" y="873.25" width="753.5" height="593.0"/></clipPath><g clip-path="url(#cd)">
<path d="M1230.0,1080.8 L1230.0,1078.8 L1230.0,1076.8 L1230.0,1074.8 L1229.9,1072.8 L1230.0,1070.8 L1230.0,1068.7 L1230.0,1066.7 L1230.0,1064.7 L1230.1,1062.7 L1230.1,1060.7 L1230.2,1058.7 L1230.3,1056.7 L1230.3,1054.7 L1230.4,1052.7 L1230.5,1050.7 L1230.6,1048.7 L1230.7,1046.7 L1230.8,1044.7 L1231.0,1042.7 L1231.1,1040.7 L1231.2,1038.7 L1231.4,1036.7 L1231.5,1034.7 L1231.7,1032.7 L1231.8,1030.7 L1232.0,1028.7 L1232.2,1026.7 L1232.4,1024.7 L1232.6,1022.8 L1232.8,1020.8 L1232.9,1018.8 L1233.1,1016.8 L1233.4,1014.8 L1233.6,1012.8 L1233.8,1010.8 L1234.0,1008.8 L1234.2,1006.8 L1234.5,1004.8 L1234.7,1002.9 L1234.9,1000.9 L1235.2,998.9 L1235.4,996.9 L1235.7,994.9 L1235.9,992.9 L1236.2,990.9 L1236.4,988.9 L1236.7,987.0 L1236.9,985.0 L1237.2,983.0 L1237.5,981.0 L1237.7,979.0 L1238.0,977.0 L1238.3,975.0 L1238.5,973.0 L1238.8,971.0 L1239.1,969.0 L1239.4,967.0 L1239.6,965.0 L1239.9,963.0 L1240.2,961.1 L1240.5,959.1 L1240.8,957.1 L1241.1,955.1 L1241.4,953.1 L1241.7,951.1 L1242.1,949.1 L1242.5,947.2 L1242.9,945.2 L1243.3,943.2 L1243.8,941.3 L1244.3,939.4 L1244.9,937.5 L1245.5,935.6 L1246.2,933.7 L1247.0,931.8 L1247.8,930.0 L1248.6,928.1 L1249.6,926.3 L1250.6,924.5 L1251.7,922.8 L1252.9,921.1 L1254.1,919.6 L1255.5,918.1 L1257.1,916.9 L1258.7,916.0 L1260.5,915.2 L1262.5,914.8 L1264.4,914.6 L1266.4,914.8 L1268.3,915.1 L1270.1,915.7 L1271.8,916.6 L1273.5,917.6 L1275.0,918.8 L1276.5,920.2 L1278.0,921.6 L1279.4,923.1 L1280.7,924.7 L1282.1,926.2 L1283.4,927.8 L1284.7,929.4 L1286.0,931.0 L1287.3,932.5 L1288.6,934.1 L1289.8,935.7 L1291.1,937.4 L1292.3,939.0 L1293.5,940.6 L1294.7,942.2 L1295.9,943.8 L1297.0,945.5 L1298.2,947.1 L1299.4,948.7 L1300.5,950.3 L1301.7,952.0 L1302.8,953.6 L1303.9,955.3 L1305.1,956.9 L1306.2,958.6 L1307.3,960.2 L1308.4,961.8 L1309.6,963.5 L1310.7,965.1 L1311.8,966.8 L1312.9,968.4 L1314.1,970.1 L1315.2,971.7 L1316.3,973.4 L1317.5,975.0 L1318.6,976.6 L1319.8,978.3 L1320.9,979.9 L1322.1,981.5 L1323.2,983.2 L1324.4,984.8 L1325.6,986.4 L1326.8,988.0 L1328.0,989.6 L1329.2,991.2 L1330.4,992.8 L1331.6,994.4 L1332.9,996.0 L1334.1,997.6 L1335.4,999.2 L1336.6,1000.7 L1337.9,1002.3 L1339.2,1003.8 L1340.5,1005.4 L1341.8,1006.9 L1343.1,1008.4 L1344.4,1009.9 L1345.7,1011.4 L1347.1,1012.9 L1348.4,1014.4 L1349.8,1015.9 L1351.2,1017.3 L1352.5,1018.8 L1353.9,1020.2 L1355.4,1021.7 L1356.8,1023.1 L1358.2,1024.5 L1359.7,1025.8 L1361.2,1027.2 L1362.6,1028.6 L1364.1,1029.9 L1365.6,1031.3 L1367.2,1032.6 L1368.7,1033.9 L1370.2,1035.2 L1371.8,1036.5 L1373.3,1037.7 L1374.9,1039.0 L1376.5,1040.2 L1378.1,1041.4 L1379.7,1042.6 L1381.3,1043.8 L1383.0,1045.0 L1384.6,1046.2 L1386.3,1047.3 L1387.9,1048.4 L1389.6,1049.6 L1391.3,1050.7 L1393.0,1051.8 L1394.7,1052.8 L1396.4,1053.9 L1398.1,1054.9 L1399.8,1055.9 L1401.6,1057.0 L1403.3,1058.0 L1405.1,1058.9 L1406.8,1059.9 L1408.6,1060.8 L1410.4,1061.8 L1412.2,1062.7 L1413.9,1063.6 L1415.7,1064.5 L1417.6,1065.3 L1419.4,1066.2 L1421.2,1067.0 L1423.0,1067.8 L1424.9,1068.6 L1426.7,1069.4 L1428.5,1070.2 L1430.4,1070.9 L1432.2,1071.7 L1434.1,1072.4 L1436.0,1073.1 L1437.9,1073.7 L1439.7,1074.4 L1441.6,1075.1 L1443.5,1075.7 L1445.4,1076.3 L1447.3,1076.9 L1449.2,1077.5 L1451.1,1078.0 L1453.0,1078.6 L1454.9,1079.1 L1456.9,1079.7 L1458.8,1080.2 L1460.7,1080.7 L1462.7,1081.2 L1464.6,1081.6 L1466.5,1082.1 L1468.5,1082.5 L1470.4,1083.0 L1472.4,1083.4 L1474.4,1083.8 L1476.3,1084.2 L1478.3,1084.6 L1480.2,1084.9 L1482.2,1085.3 L1484.2,1085.6 L1486.2,1086.0 L1488.1,1086.3 L1490.1,1086.6 L1492.1,1086.9 L1494.1,1087.2 L1496.1,1087.5 L1498.1,1087.8 L1500.1,1088.1 L1502.1,1088.3 L1504.1,1088.6 L1506.1,1088.8 L1508.1,1089.0 L1510.1,1089.3 L1512.1,1089.5 L1514.1,1089.7 L1516.1,1089.9 L1518.1,1090.1 L1520.1,1090.3 L1522.1,1090.5 L1524.1,1090.6 L1526.1,1090.8 L1528.1,1091.0 L1530.1,1091.1 L1532.2,1091.3 L1534.2,1091.4 L1536.2,1091.6 L1538.2,1091.7 L1540.2,1091.9 L1542.2,1092.0 L1544.2,1092.1 L1546.2,1092.2 L1548.3,1092.4 L1550.3,1092.5 L1552.3,1092.6 L1554.3,1092.7 L1556.3,1092.8 L1558.3,1092.9 L1560.3,1093.0 L1562.3,1093.1 L1564.3,1093.2 L1566.4,1093.3 L1568.4,1093.4 L1570.4,1093.5 L1572.4,1093.6 L1574.4,1093.7 L1576.4,1093.7 L1578.4,1093.8 L1580.4,1093.9 L1582.4,1094.0 L1584.4,1094.0 L1586.4,1094.1 L1588.4,1094.2 L1590.4,1094.2 L1592.4,1094.3 L1594.4,1094.4 L1596.4,1094.4 L1598.4,1094.5 L1600.4,1094.5 L1602.4,1094.6 L1604.4,1094.6 L1606.4,1094.7 L1608.4,1094.7 L1610.4,1094.8 L1612.4,1094.8 L1614.4,1094.9 L1616.4,1094.9 L1618.4,1094.9 L1620.4,1095.0 L1622.4,1095.0 L1624.4,1095.0 L1626.4,1095.1 L1628.4,1095.1 L1630.4,1095.1 L1632.4,1095.2 L1634.4,1095.2 L1636.4,1095.2 L1638.4,1095.2 L1640.4,1095.3 L1642.4,1095.3 L1644.4,1095.3 L1646.4,1095.3 L1648.4,1095.3 L1650.4,1095.3 L1652.4,1095.4 L1654.4,1095.4 L1656.4,1095.4 L1658.4,1095.4 L1660.4,1095.4 L1662.4,1095.4 L1664.4,1095.4 L1666.4,1095.4 L1668.4,1095.4 L1670.4,1095.4 L1672.4,1095.5 L1674.4,1095.5 L1676.4,1095.5 L1678.4,1095.5 L1680.4,1095.5 L1682.4,1095.5 L1684.4,1095.5 L1686.4,1095.5 L1688.4,1095.5 L1690.4,1095.5 L1692.4,1095.5 L1694.4,1095.5 L1696.4,1095.5 L1698.4,1095.5 L1700.4,1095.5 L1702.4,1095.5 L1704.4,1095.5 L1706.4,1095.5 L1708.4,1095.5 L1710.4,1095.5 L1712.4,1095.5 L1714.4,1095.5 L1716.4,1095.5 L1718.4,1095.5 L1720.4,1095.5 L1722.4,1095.5 L1724.4,1095.5 L1726.5,1095.5 L1728.5,1095.5 L1730.5,1095.5 L1732.5,1095.5 L1734.5,1095.5 L1736.5,1095.5 L1738.5,1095.5 L1740.5,1095.5 L1742.5,1095.5 L1744.5,1095.5 L1746.5,1095.5 L1748.5,1095.6 L1750.5,1095.6 L1752.5,1095.6 L1754.5,1095.6 L1756.5,1095.6 L1758.5,1095.6 L1760.5,1095.6 L1762.6,1095.6 L1764.6,1095.6 L1766.6,1095.6 L1768.6,1095.6 L1770.6,1095.6 L1772.6,1095.6 L1774.6,1095.6 L1776.6,1095.6 L1778.6,1095.6 L1780.6,1095.6 L1782.6,1095.6 L1784.6,1095.6 L1786.6,1095.6 L1788.7,1095.6 L1790.7,1095.6 L1792.7,1095.6 L1794.7,1095.6 L1796.7,1095.6 L1798.7,1095.6 L1800.7,1095.6 L1802.7,1095.6 L1804.7,1095.6 L1806.7,1095.6 L1808.7,1095.6 L1810.8,1095.6 L1812.8,1095.6 L1814.8,1095.6 L1816.8,1095.6 L1818.8,1095.6 L1820.8,1095.6 L1822.8,1095.6 L1824.8,1095.6 L1826.8,1095.6 L1828.8,1095.6 L1830.8,1095.6 L1832.8,1095.6 L1834.9,1095.6 L1836.9,1095.6 L1838.9,1095.6 L1840.9,1095.6 L1842.9,1095.6 L1844.9,1095.6 L1846.9,1095.6 L1848.9,1095.6 L1850.9,1095.6 L1852.9,1095.6 L1854.9,1095.6 L1857.0,1095.6 L1859.0,1095.6 L1861.0,1095.6 L1863.0,1095.6 L1865.0,1095.6 L1867.0,1095.6 L1869.0,1095.6 L1871.0,1095.6 L1873.0,1095.6 L1875.0,1095.6 L1877.0,1095.6 L1879.0,1095.6 L1881.1,1095.6 L1883.1,1095.6 L1885.1,1095.6 L1887.1,1095.6 L1889.1,1095.6 L1891.1,1095.6 L1893.1,1095.6 L1895.1,1095.6 L1897.1,1095.6 L1899.1,1095.6 L1901.1,1095.6 L1903.1,1095.6 L1905.1,1095.6 L1907.1,1095.6 L1909.2,1095.6 L1911.2,1095.6 L1913.2,1095.6 L1915.2,1095.6 L1917.2,1095.6 L1919.2,1095.6 L1921.2,1095.6 L1923.2,1095.6 L1925.2,1095.6 L1927.2,1095.6 L1929.2,1095.6 L1931.2,1095.6 L1933.2,1095.6 L1935.2,1095.6 L1937.2,1095.6 L1939.2,1095.6 L1941.2,1095.6 L1943.2,1095.6 L1945.2,1095.6 L1947.2,1095.6 L1949.2,1095.6 L1951.2,1095.6 L1953.2,1095.6 L1955.2,1095.6 L1957.3,1095.6 L1959.3,1095.6 L1961.3,1095.6 L1963.3,1095.6 L1965.3,1095.6 L1967.3,1095.6 L1969.3,1095.6 L1971.3,1095.6 L1973.3,1095.6 L1975.3,1095.6 L1977.3,1095.6 L1979.3,1095.6 L1981.2,1095.6 L1983.2,1095.6" fill="none" stroke="#ff0000" stroke-width="3.5" stroke-linejoin="round"/>
<path d="M1229.7,1080.9 L1229.8,1082.8 L1229.9,1084.8 L1230.0,1086.8 L1230.1,1088.8 L1230.2,1090.8 L1230.3,1092.8 L1230.4,1094.8 L1230.5,1096.8 L1230.6,1098.8 L1230.7,1100.8 L1230.8,1102.8 L1230.9,1104.8 L1231.0,1106.8 L1231.1,1108.8 L1231.2,1110.8 L1231.3,1112.8 L1231.4,1114.8 L1231.5,1116.8 L1231.5,1118.8 L1231.6,1120.8 L1231.7,1122.8 L1231.8,1124.8 L1231.9,1126.8 L1232.0,1128.8 L1232.1,1130.8 L1232.2,1132.8 L1232.3,1134.8 L1232.4,1136.8 L1232.5,1138.8 L1232.6,1140.8 L1232.7,1142.8 L1232.8,1144.8 L1232.9,1146.8 L1233.0,1148.8 L1233.1,1150.8 L1233.2,1152.9 L1233.3,1154.9 L1233.4,1156.9 L1233.5,1158.9 L1233.6,1160.9 L1233.7,1162.9 L1233.8,1164.9 L1233.9,1166.9 L1234.0,1168.9 L1234.2,1170.9 L1234.3,1172.9 L1234.4,1174.9 L1234.5,1176.9 L1234.6,1178.9 L1234.7,1181.0 L1234.8,1183.0 L1235.0,1185.0 L1235.1,1187.0 L1235.2,1189.0 L1235.3,1191.0 L1235.4,1193.0 L1235.6,1195.0 L1235.7,1197.0 L1235.8,1199.0 L1236.0,1201.0 L1236.1,1203.0 L1236.2,1205.0 L1236.4,1207.1 L1236.5,1209.1 L1236.6,1211.1 L1236.8,1213.1 L1236.9,1215.1 L1237.0,1217.1 L1237.2,1219.1 L1237.3,1221.1 L1237.5,1223.1 L1237.6,1225.1 L1237.8,1227.1 L1237.9,1229.1 L1238.1,1231.1 L1238.3,1233.1 L1238.4,1235.1 L1238.6,1237.1 L1238.8,1239.1 L1238.9,1241.1 L1239.1,1243.1 L1239.3,1245.1 L1239.4,1247.1 L1239.6,1249.1 L1239.8,1251.1 L1240.0,1253.1 L1240.2,1255.1 L1240.3,1257.1 L1240.5,1259.1 L1240.7,1261.1 L1240.9,1263.1 L1241.1,1265.1 L1241.3,1267.1 L1241.5,1269.1 L1241.7,1271.1 L1241.9,1273.1 L1242.1,1275.1 L1242.4,1277.0 L1242.6,1279.0 L1242.8,1281.0 L1243.0,1283.0 L1243.2,1285.0 L1243.5,1287.0 L1243.7,1289.0 L1243.9,1291.0 L1244.2,1292.9 L1244.4,1294.9 L1244.7,1296.9 L1244.9,1298.9 L1245.2,1300.9 L1245.4,1302.8 L1245.7,1304.8 L1245.9,1306.8 L1246.2,1308.8 L1246.5,1310.8 L1246.7,1312.7 L1247.0,1314.7 L1247.3,1316.7 L1247.6,1318.7 L1247.9,1320.6 L1248.1,1322.6 L1248.4,1324.6 L1248.7,1326.5 L1249.0,1328.5 L1249.3,1330.5 L1249.6,1332.4 L1250.0,1334.4 L1250.3,1336.4 L1250.6,1338.3 L1250.9,1340.3 L1251.3,1342.3 L1251.6,1344.2 L1252.0,1346.2 L1252.4,1348.1 L1252.8,1350.1 L1253.2,1352.1 L1253.6,1354.0 L1254.0,1356.0 L1254.4,1358.0 L1254.9,1360.0 L1255.4,1361.9 L1255.9,1363.9 L1256.4,1365.9 L1256.9,1367.9 L1257.5,1369.9 L1258.1,1371.8 L1258.7,1373.8 L1259.3,1375.8 L1260.0,1377.8 L1260.7,1379.8 L1261.4,1381.8 L1262.2,1383.7 L1263.0,1385.6 L1263.9,1387.4 L1264.8,1389.2 L1265.8,1390.9 L1266.9,1392.6 L1268.1,1394.1 L1269.4,1395.6 L1270.7,1396.9 L1272.2,1398.2 L1273.7,1399.3 L1275.4,1400.2 L1277.2,1401.0 L1279.1,1401.7 L1281.0,1402.1 L1282.9,1402.3 L1284.9,1402.3 L1286.8,1402.1 L1288.7,1401.7 L1290.5,1401.0 L1292.3,1400.2 L1294.0,1399.2 L1295.6,1398.0 L1297.1,1396.7 L1298.5,1395.2 L1299.9,1393.7 L1301.3,1392.1 L1302.7,1390.5 L1304.0,1388.8 L1305.3,1387.2 L1306.6,1385.6 L1308.0,1384.0 L1309.3,1382.5 L1310.6,1380.9 L1312.0,1379.4 L1313.3,1377.9 L1314.6,1376.4 L1315.9,1374.9 L1317.2,1373.4 L1318.5,1371.9 L1319.8,1370.4 L1321.0,1368.8 L1322.3,1367.3 L1323.5,1365.7 L1324.8,1364.2 L1326.0,1362.6 L1327.2,1361.0 L1328.4,1359.4 L1329.6,1357.8 L1330.8,1356.2 L1332.0,1354.6 L1333.2,1353.0 L1334.4,1351.4 L1335.6,1349.8 L1336.7,1348.1 L1337.9,1346.5 L1339.0,1344.9 L1340.2,1343.2 L1341.3,1341.6 L1342.5,1339.9 L1343.6,1338.3 L1344.8,1336.6 L1345.9,1335.0 L1347.0,1333.3 L1348.2,1331.7 L1349.3,1330.0 L1350.4,1328.3 L1351.6,1326.7 L1352.7,1325.0 L1353.8,1323.4 L1355.0,1321.7 L1356.1,1320.0 L1357.2,1318.4 L1358.4,1316.7 L1359.5,1315.1 L1360.7,1313.4 L1361.8,1311.8 L1363.0,1310.1 L1364.2,1308.5 L1365.3,1306.9 L1366.5,1305.3 L1367.7,1303.6 L1368.9,1302.0 L1370.1,1300.4 L1371.3,1298.8 L1372.5,1297.2 L1373.7,1295.6 L1375.0,1294.0 L1376.2,1292.5 L1377.5,1290.9 L1378.7,1289.3 L1380.0,1287.8 L1381.3,1286.3 L1382.5,1284.7 L1383.8,1283.2 L1385.1,1281.7 L1386.4,1280.2 L1387.8,1278.6 L1389.1,1277.1 L1390.4,1275.6 L1391.7,1274.1 L1393.1,1272.7 L1394.4,1271.2 L1395.8,1269.7 L1397.1,1268.2 L1398.5,1266.8 L1399.9,1265.3 L1401.2,1263.8 L1402.6,1262.4 L1404.0,1260.9 L1405.4,1259.5 L1406.8,1258.0 L1408.1,1256.6 L1409.5,1255.1 L1410.9,1253.7 L1412.3,1252.2 L1413.7,1250.8 L1415.1,1249.3 L1416.5,1247.9 L1417.9,1246.5 L1419.3,1245.0 L1420.7,1243.6 L1422.1,1242.1 L1423.5,1240.7 L1424.9,1239.3 L1426.3,1237.8 L1427.7,1236.4 L1429.1,1235.0 L1430.5,1233.5 L1431.9,1232.1 L1433.3,1230.6 L1434.7,1229.2 L1436.1,1227.8 L1437.5,1226.4 L1439.0,1225.0 L1440.4,1223.5 L1441.8,1222.1 L1443.3,1220.7 L1444.7,1219.4 L1446.2,1218.0 L1447.6,1216.6 L1449.1,1215.2 L1450.6,1213.9 L1452.1,1212.6 L1453.6,1211.2 L1455.1,1209.9 L1456.6,1208.6 L1458.2,1207.3 L1459.7,1206.0 L1461.3,1204.7 L1462.8,1203.5 L1464.4,1202.2 L1466.0,1201.0 L1467.5,1199.7 L1469.1,1198.5 L1470.7,1197.3 L1472.3,1196.0 L1473.9,1194.8 L1475.5,1193.6 L1477.2,1192.4 L1478.8,1191.2 L1480.4,1190.0 L1482.0,1188.9 L1483.7,1187.7 L1485.3,1186.5 L1486.9,1185.4 L1488.6,1184.2 L1490.2,1183.0 L1491.9,1181.9 L1493.5,1180.8 L1495.1,1179.6 L1496.8,1178.5 L1498.4,1177.3 L1500.1,1176.2 L1501.7,1175.1 L1503.4,1173.9 L1505.0,1172.8 L1506.7,1171.7 L1508.3,1170.6 L1510.0,1169.5 L1511.6,1168.4 L1513.3,1167.3 L1515.0,1166.2 L1516.6,1165.2 L1518.3,1164.1 L1520.0,1163.1 L1521.7,1162.0 L1523.4,1161.0 L1525.1,1160.0 L1526.9,1159.0 L1528.6,1158.0 L1530.3,1157.0 L1532.1,1156.1 L1533.9,1155.1 L1535.6,1154.2 L1537.4,1153.3 L1539.2,1152.4 L1541.0,1151.5 L1542.8,1150.6 L1544.7,1149.7 L1546.5,1148.9 L1548.3,1148.0 L1550.2,1147.2 L1552.0,1146.4 L1553.9,1145.6 L1555.7,1144.8 L1557.6,1144.0 L1559.4,1143.2 L1561.3,1142.4 L1563.2,1141.7 L1565.1,1140.9 L1567.0,1140.2 L1568.8,1139.5 L1570.7,1138.7 L1572.6,1138.0 L1574.5,1137.3 L1576.4,1136.6 L1578.3,1135.9 L1580.2,1135.2 L1582.1,1134.6 L1584.0,1133.9 L1585.9,1133.2 L1587.8,1132.6 L1589.7,1131.9 L1591.6,1131.3 L1593.6,1130.7 L1595.5,1130.0 L1597.4,1129.4 L1599.3,1128.8 L1601.2,1128.2 L1603.1,1127.6 L1605.1,1127.0 L1607.0,1126.5 L1608.9,1125.9 L1610.8,1125.3 L1612.7,1124.8 L1614.7,1124.2 L1616.6,1123.7 L1618.5,1123.2 L1620.5,1122.6 L1622.4,1122.1 L1624.3,1121.6 L1626.3,1121.1 L1628.2,1120.6 L1630.1,1120.1 L1632.1,1119.6 L1634.0,1119.1 L1636.0,1118.7 L1637.9,1118.2 L1639.9,1117.7 L1641.8,1117.3 L1643.8,1116.8 L1645.7,1116.4 L1647.7,1115.9 L1649.6,1115.5 L1651.6,1115.1 L1653.5,1114.7 L1655.5,1114.3 L1657.4,1113.9 L1659.4,1113.5 L1661.3,1113.1 L1663.3,1112.7 L1665.3,1112.3 L1667.2,1111.9 L1669.2,1111.6 L1671.2,1111.2 L1673.1,1110.9 L1675.1,1110.5 L1677.1,1110.2 L1679.0,1109.8 L1681.0,1109.5 L1683.0,1109.2 L1684.9,1108.8 L1686.9,1108.5 L1688.9,1108.2 L1690.9,1107.9 L1692.8,1107.6 L1694.8,1107.3 L1696.8,1107.0 L1698.8,1106.7 L1700.7,1106.4 L1702.7,1106.2 L1704.7,1105.9 L1706.7,1105.6 L1708.7,1105.4 L1710.7,1105.1 L1712.6,1104.8 L1714.6,1104.6 L1716.6,1104.4 L1718.6,1104.1 L1720.6,1103.9 L1722.6,1103.7 L1724.6,1103.4 L1726.6,1103.2 L1728.5,1103.0 L1730.5,1102.8 L1732.5,1102.6 L1734.5,1102.4 L1736.5,1102.2 L1738.5,1102.0 L1740.5,1101.8 L1742.5,1101.6 L1744.5,1101.4 L1746.5,1101.3 L1748.5,1101.1 L1750.5,1100.9 L1752.5,1100.7 L1754.5,1100.6 L1756.5,1100.4 L1758.5,1100.3 L1760.5,1100.1 L1762.5,1100.0 L1764.5,1099.8 L1766.5,1099.7 L1768.5,1099.6 L1770.5,1099.4 L1772.5,1099.3 L1774.5,1099.2 L1776.5,1099.0 L1778.5,1098.9 L1780.5,1098.8 L1782.5,1098.7 L1784.6,1098.6 L1786.6,1098.5 L1788.6,1098.4 L1790.6,1098.3 L1792.6,1098.2 L1794.6,1098.1 L1796.6,1098.0 L1798.6,1097.9 L1800.6,1097.8 L1802.6,1097.7 L1804.6,1097.7 L1806.7,1097.6 L1808.7,1097.5 L1810.7,1097.4 L1812.7,1097.4 L1814.7,1097.3 L1816.7,1097.2 L1818.7,1097.2 L1820.7,1097.1 L1822.7,1097.0 L1824.8,1097.0 L1826.8,1096.9 L1828.8,1096.9 L1830.8,1096.8 L1832.8,1096.8 L1834.8,1096.7 L1836.8,1096.7 L1838.8,1096.6 L1840.9,1096.6 L1842.9,1096.6 L1844.9,1096.5 L1846.9,1096.5 L1848.9,1096.5 L1850.9,1096.4 L1852.9,1096.4 L1855.0,1096.4 L1857.0,1096.3 L1859.0,1096.3 L1861.0,1096.3 L1863.0,1096.3 L1865.0,1096.2 L1867.0,1096.2 L1869.0,1096.2 L1871.1,1096.2 L1873.1,1096.2 L1875.1,1096.1 L1877.1,1096.1 L1879.1,1096.1 L1881.1,1096.1 L1883.1,1096.1 L1885.1,1096.1 L1887.1,1096.1 L1889.2,1096.1 L1891.2,1096.0 L1893.2,1096.0 L1895.2,1096.0 L1897.2,1096.0 L1899.2,1096.0 L1901.2,1096.0 L1903.2,1096.0 L1905.2,1096.0 L1907.2,1096.0 L1909.3,1096.0 L1911.3,1096.0 L1913.3,1096.0 L1915.3,1096.0 L1917.3,1096.0 L1919.3,1096.0 L1921.3,1096.0 L1923.3,1095.9 L1925.3,1095.9 L1927.3,1095.9 L1929.3,1095.9 L1931.3,1095.9 L1933.3,1095.9 L1935.3,1095.9 L1937.3,1095.9 L1939.3,1095.9 L1941.3,1095.9 L1943.3,1095.9 L1945.3,1095.9 L1947.3,1095.9 L1949.3,1095.9 L1951.3,1095.8 L1953.3,1095.8 L1955.3,1095.8 L1957.3,1095.8 L1959.3,1095.8 L1961.3,1095.8 L1963.3,1095.8 L1965.3,1095.8 L1967.3,1095.7 L1969.2,1095.7 L1971.2,1095.7 L1973.2,1095.7 L1975.2,1095.7 L1977.2,1095.6 L1979.2,1095.6 L1981.2,1095.6 L1983.2,1095.5" fill="none" stroke="#ff0000" stroke-width="3.6" stroke-linejoin="round" stroke-dasharray="11.3 10.8" stroke-dashoffset="0"/>
<path d="M1229.8,1080.8 L1229.9,1078.8 L1229.9,1076.8 L1230.0,1074.8 L1230.1,1072.8 L1230.2,1070.8 L1230.3,1068.8 L1230.4,1066.8 L1230.5,1064.8 L1230.6,1062.8 L1230.7,1060.8 L1230.8,1058.7 L1230.9,1056.7 L1231.0,1054.7 L1231.1,1052.7 L1231.2,1050.7 L1231.3,1048.7 L1231.4,1046.7 L1231.6,1044.7 L1231.7,1042.7 L1231.8,1040.7 L1231.9,1038.7 L1232.1,1036.7 L1232.2,1034.7 L1232.3,1032.7 L1232.5,1030.7 L1232.6,1028.7 L1232.8,1026.7 L1233.0,1024.7 L1233.1,1022.7 L1233.3,1020.7 L1233.5,1018.7 L1233.6,1016.7 L1233.8,1014.7 L1234.0,1012.7 L1234.2,1010.7 L1234.4,1008.7 L1234.6,1006.7 L1234.8,1004.7 L1235.0,1002.7 L1235.3,1000.7 L1235.5,998.7 L1235.7,996.7 L1236.0,994.8 L1236.2,992.8 L1236.5,990.8 L1236.7,988.8 L1237.0,986.8 L1237.3,984.8 L1237.6,982.8 L1237.9,980.8 L1238.1,978.8 L1238.5,976.9 L1238.8,974.9 L1239.1,972.9 L1239.4,970.9 L1239.8,968.9 L1240.1,966.9 L1240.5,965.0 L1240.8,963.0 L1241.2,961.0 L1241.6,959.1 L1242.0,957.1 L1242.5,955.1 L1242.9,953.2 L1243.4,951.2 L1243.9,949.3 L1244.5,947.4 L1245.0,945.5 L1245.6,943.5 L1246.2,941.6 L1246.8,939.7 L1247.5,937.9 L1248.2,936.0 L1249.0,934.1 L1249.8,932.3 L1250.6,930.5 L1251.6,928.7 L1252.6,926.9 L1253.8,925.2 L1255.1,923.5 L1256.5,922.0 L1258.1,920.8 L1259.9,919.8 L1261.8,919.1 L1263.6,918.8 L1265.5,918.9 L1267.3,919.4 L1269.1,920.1 L1270.8,921.1 L1272.5,922.3 L1274.1,923.6 L1275.7,924.9 L1277.2,926.3 L1278.7,927.7 L1280.1,929.1 L1281.5,930.5 L1282.9,932.0 L1284.3,933.5 L1285.6,935.0 L1286.8,936.6 L1288.1,938.1 L1289.3,939.7 L1290.5,941.3 L1291.7,942.9 L1292.9,944.6 L1294.0,946.2 L1295.2,947.9 L1296.3,949.5 L1297.4,951.2 L1298.5,952.9 L1299.6,954.6 L1300.7,956.2 L1301.8,957.9 L1302.9,959.6 L1303.9,961.3 L1305.0,963.0 L1306.1,964.7 L1307.2,966.3 L1308.4,968.0 L1309.5,969.7 L1310.6,971.3 L1311.8,973.0 L1312.9,974.6 L1314.1,976.2 L1315.3,977.9 L1316.5,979.5 L1317.7,981.1 L1318.9,982.7 L1320.2,984.3 L1321.4,985.8 L1322.6,987.4 L1323.9,989.0 L1325.1,990.6 L1326.4,992.1 L1327.7,993.7 L1329.0,995.2 L1330.3,996.8 L1331.5,998.3 L1332.8,999.8 L1334.1,1001.4 L1335.4,1002.9 L1336.7,1004.4 L1338.1,1006.0 L1339.4,1007.5 L1340.7,1009.0 L1342.0,1010.5 L1343.3,1012.0 L1344.6,1013.5 L1346.0,1015.0 L1347.3,1016.5 L1348.7,1018.0 L1350.0,1019.5 L1351.4,1020.9 L1352.8,1022.4 L1354.1,1023.8 L1355.5,1025.3 L1357.0,1026.7 L1358.4,1028.1 L1359.8,1029.5 L1361.3,1030.8 L1362.7,1032.2 L1364.2,1033.5 L1365.7,1034.9 L1367.2,1036.2 L1368.8,1037.5 L1370.3,1038.7 L1371.9,1040.0 L1373.4,1041.2 L1375.0,1042.5 L1376.6,1043.7 L1378.2,1044.9 L1379.9,1046.0 L1381.5,1047.2 L1383.2,1048.4 L1384.8,1049.5 L1386.5,1050.6 L1388.2,1051.7 L1389.9,1052.8 L1391.6,1053.8 L1393.3,1054.9 L1395.1,1055.9 L1396.8,1056.9 L1398.6,1057.9 L1400.3,1058.9 L1402.1,1059.9 L1403.9,1060.8 L1405.7,1061.8 L1407.5,1062.7 L1409.3,1063.6 L1411.1,1064.5 L1412.9,1065.3 L1414.7,1066.2 L1416.6,1067.0 L1418.4,1067.8 L1420.3,1068.6 L1422.1,1069.4 L1424.0,1070.2 L1425.9,1070.9 L1427.7,1071.7 L1429.6,1072.4 L1431.5,1073.1 L1433.4,1073.8 L1435.3,1074.5 L1437.2,1075.1 L1439.1,1075.8 L1441.0,1076.4 L1442.9,1077.0 L1444.9,1077.6 L1446.8,1078.1 L1448.7,1078.7 L1450.6,1079.2 L1452.6,1079.8 L1454.5,1080.3 L1456.4,1080.8 L1458.4,1081.3 L1460.3,1081.7 L1462.3,1082.2 L1464.2,1082.6 L1466.2,1083.1 L1468.1,1083.5 L1470.1,1083.9 L1472.0,1084.3 L1474.0,1084.6 L1476.0,1085.0 L1477.9,1085.4 L1479.9,1085.7 L1481.9,1086.0 L1483.8,1086.4 L1485.8,1086.7 L1487.8,1087.0 L1489.8,1087.3 L1491.7,1087.5 L1493.7,1087.8 L1495.7,1088.1 L1497.7,1088.3 L1499.7,1088.5 L1501.7,1088.8 L1503.7,1089.0 L1505.7,1089.2 L1507.7,1089.4 L1509.7,1089.6 L1511.6,1089.8 L1513.6,1090.0 L1515.6,1090.2 L1517.6,1090.4 L1519.6,1090.5 L1521.6,1090.7 L1523.7,1090.9 L1525.7,1091.0 L1527.7,1091.1 L1529.7,1091.3 L1531.7,1091.4 L1533.7,1091.6 L1535.7,1091.7 L1537.7,1091.8 L1539.7,1091.9 L1541.7,1092.0 L1543.7,1092.2 L1545.7,1092.3 L1547.7,1092.4 L1549.7,1092.5 L1551.7,1092.6 L1553.8,1092.7 L1555.8,1092.8 L1557.8,1092.9 L1559.8,1093.0 L1561.8,1093.1 L1563.8,1093.2 L1565.8,1093.3 L1567.8,1093.4 L1569.8,1093.4 L1571.8,1093.5 L1573.8,1093.6 L1575.8,1093.7 L1577.8,1093.8 L1579.9,1093.9 L1581.9,1093.9 L1583.9,1094.0 L1585.9,1094.1 L1587.9,1094.2 L1589.9,1094.2 L1591.9,1094.3 L1593.9,1094.4 L1595.9,1094.4 L1597.9,1094.5 L1599.9,1094.6 L1601.9,1094.6 L1603.9,1094.7 L1606.0,1094.7 L1608.0,1094.8 L1610.0,1094.9 L1612.0,1094.9 L1614.0,1095.0 L1616.0,1095.0 L1618.0,1095.1 L1620.0,1095.1 L1622.0,1095.2 L1624.0,1095.2 L1626.0,1095.3 L1628.0,1095.3 L1630.0,1095.3 L1632.0,1095.4 L1634.1,1095.4 L1636.1,1095.5 L1638.1,1095.5 L1640.1,1095.5 L1642.1,1095.6 L1644.1,1095.6 L1646.1,1095.6 L1648.1,1095.7 L1650.1,1095.7 L1652.1,1095.7 L1654.1,1095.7 L1656.1,1095.8 L1658.1,1095.8 L1660.1,1095.8 L1662.1,1095.8 L1664.2,1095.9 L1666.2,1095.9 L1668.2,1095.9 L1670.2,1095.9 L1672.2,1095.9 L1674.2,1096.0 L1676.2,1096.0 L1678.2,1096.0 L1680.2,1096.0 L1682.2,1096.0 L1684.2,1096.0 L1686.2,1096.0 L1688.2,1096.0 L1690.2,1096.1 L1692.2,1096.1 L1694.3,1096.1 L1696.3,1096.1 L1698.3,1096.1 L1700.3,1096.1 L1702.3,1096.1 L1704.3,1096.1 L1706.3,1096.1 L1708.3,1096.1 L1710.3,1096.1 L1712.3,1096.1 L1714.3,1096.1 L1716.3,1096.1 L1718.3,1096.1 L1720.3,1096.1 L1722.3,1096.1 L1724.4,1096.1 L1726.4,1096.1 L1728.4,1096.1 L1730.4,1096.1 L1732.4,1096.1 L1734.4,1096.1 L1736.4,1096.1 L1738.4,1096.1 L1740.4,1096.0 L1742.4,1096.0 L1744.4,1096.0 L1746.4,1096.0 L1748.4,1096.0 L1750.4,1096.0 L1752.4,1096.0 L1754.4,1096.0 L1756.5,1096.0 L1758.5,1095.9 L1760.5,1095.9 L1762.5,1095.9 L1764.5,1095.9 L1766.5,1095.9 L1768.5,1095.9 L1770.5,1095.9 L1772.5,1095.9 L1774.5,1095.8 L1776.5,1095.8 L1778.5,1095.8 L1780.5,1095.8 L1782.5,1095.8 L1784.5,1095.8 L1786.6,1095.7 L1788.6,1095.7 L1790.6,1095.7 L1792.6,1095.7 L1794.6,1095.7 L1796.6,1095.7 L1798.6,1095.6 L1800.6,1095.6 L1802.6,1095.6 L1804.6,1095.6 L1806.6,1095.6 L1808.6,1095.6 L1810.6,1095.5 L1812.6,1095.5 L1814.6,1095.5 L1816.6,1095.5 L1818.7,1095.5 L1820.7,1095.5 L1822.7,1095.4 L1824.7,1095.4 L1826.7,1095.4 L1828.7,1095.4 L1830.7,1095.4 L1832.7,1095.4 L1834.7,1095.3 L1836.7,1095.3 L1838.7,1095.3 L1840.7,1095.3 L1842.7,1095.3 L1844.7,1095.3 L1846.7,1095.3 L1848.8,1095.2 L1850.8,1095.2 L1852.8,1095.2 L1854.8,1095.2 L1856.8,1095.2 L1858.8,1095.2 L1860.8,1095.2 L1862.8,1095.2 L1864.8,1095.1 L1866.8,1095.1 L1868.8,1095.1 L1870.8,1095.1 L1872.8,1095.1 L1874.8,1095.1 L1876.9,1095.1 L1878.9,1095.1 L1880.9,1095.1 L1882.9,1095.1 L1884.9,1095.1 L1886.9,1095.0 L1888.9,1095.0 L1890.9,1095.0 L1892.9,1095.0 L1894.9,1095.0 L1896.9,1095.0 L1898.9,1095.0 L1900.9,1095.0 L1902.9,1095.0 L1905.0,1095.0 L1907.0,1095.0 L1909.0,1095.0 L1911.0,1095.0 L1913.0,1095.0 L1915.0,1095.0 L1917.0,1095.0 L1919.0,1095.0 L1921.0,1095.0 L1923.0,1095.0 L1925.0,1095.1 L1927.0,1095.1 L1929.0,1095.1 L1931.0,1095.1 L1933.1,1095.1 L1935.1,1095.1 L1937.1,1095.1 L1939.1,1095.1 L1941.1,1095.1 L1943.1,1095.2 L1945.1,1095.2 L1947.1,1095.2 L1949.1,1095.2 L1951.1,1095.2 L1953.1,1095.3 L1955.1,1095.3 L1957.1,1095.3 L1959.2,1095.3 L1961.2,1095.3 L1963.2,1095.4 L1965.2,1095.4 L1967.2,1095.4 L1969.2,1095.5 L1971.2,1095.5 L1973.2,1095.5 L1975.2,1095.6 L1977.2,1095.6 L1979.2,1095.6 L1981.2,1095.7 L1983.3,1095.7" fill="none" stroke="#000" stroke-width="3.2" stroke-linejoin="round"/>
<path d="M1229.8,1080.9 L1229.9,1082.8 L1230.0,1084.8 L1230.2,1086.8 L1230.3,1088.8 L1230.4,1090.8 L1230.5,1092.8 L1230.6,1094.8 L1230.7,1096.7 L1230.8,1098.7 L1230.9,1100.7 L1231.0,1102.7 L1231.1,1104.7 L1231.2,1106.7 L1231.3,1108.7 L1231.4,1110.7 L1231.5,1112.7 L1231.6,1114.7 L1231.7,1116.7 L1231.8,1118.7 L1231.9,1120.7 L1232.0,1122.7 L1232.1,1124.7 L1232.2,1126.7 L1232.3,1128.7 L1232.4,1130.7 L1232.5,1132.7 L1232.6,1134.7 L1232.7,1136.8 L1232.7,1138.8 L1232.8,1140.8 L1232.9,1142.8 L1233.0,1144.8 L1233.1,1146.8 L1233.2,1148.8 L1233.3,1150.8 L1233.4,1152.8 L1233.5,1154.9 L1233.6,1156.9 L1233.7,1158.9 L1233.8,1160.9 L1233.9,1162.9 L1234.0,1164.9 L1234.1,1166.9 L1234.2,1168.9 L1234.3,1171.0 L1234.4,1173.0 L1234.5,1175.0 L1234.6,1177.0 L1234.7,1179.0 L1234.9,1181.0 L1235.0,1183.0 L1235.1,1185.1 L1235.2,1187.1 L1235.3,1189.1 L1235.5,1191.1 L1235.6,1193.1 L1235.7,1195.1 L1235.9,1197.1 L1236.0,1199.1 L1236.1,1201.1 L1236.3,1203.2 L1236.4,1205.2 L1236.6,1207.2 L1236.7,1209.2 L1236.9,1211.2 L1237.0,1213.2 L1237.2,1215.2 L1237.4,1217.2 L1237.5,1219.2 L1237.7,1221.2 L1237.9,1223.2 L1238.1,1225.2 L1238.2,1227.2 L1238.4,1229.2 L1238.6,1231.2 L1238.8,1233.2 L1239.0,1235.2 L1239.2,1237.2 L1239.4,1239.2 L1239.7,1241.2 L1239.9,1243.2 L1240.1,1245.1 L1240.3,1247.1 L1240.6,1249.1 L1240.8,1251.1 L1241.1,1253.1 L1241.3,1255.1 L1241.6,1257.0 L1241.8,1259.0 L1242.1,1261.0 L1242.4,1263.0 L1242.7,1264.9 L1243.0,1266.9 L1243.2,1268.9 L1243.5,1270.9 L1243.8,1272.8 L1244.2,1274.8 L1244.5,1276.7 L1244.8,1278.7 L1245.1,1280.7 L1245.5,1282.6 L1245.8,1284.6 L1246.2,1286.5 L1246.5,1288.5 L1246.9,1290.4 L1247.2,1292.4 L1247.6,1294.3 L1248.0,1296.2 L1248.4,1298.2 L1248.8,1300.1 L1249.2,1302.1 L1249.6,1304.0 L1250.1,1305.9 L1250.5,1307.9 L1250.9,1309.8 L1251.4,1311.8 L1251.9,1313.7 L1252.3,1315.7 L1252.8,1317.7 L1253.3,1319.6 L1253.8,1321.6 L1254.3,1323.6 L1254.8,1325.6 L1255.4,1327.6 L1255.9,1329.6 L1256.5,1331.6 L1257.1,1333.6 L1257.7,1335.7 L1258.3,1337.7 L1258.9,1339.7 L1259.6,1341.7 L1260.3,1343.6 L1261.1,1345.6 L1261.9,1347.4 L1262.8,1349.3 L1263.7,1351.1 L1264.7,1352.8 L1265.7,1354.5 L1266.8,1356.1 L1268.0,1357.7 L1269.3,1359.1 L1270.7,1360.5 L1272.1,1361.8 L1273.7,1363.0 L1275.3,1364.1 L1277.0,1365.0 L1278.8,1365.8 L1280.6,1366.4 L1282.4,1366.7 L1284.3,1366.8 L1286.2,1366.7 L1288.1,1366.4 L1290.0,1365.8 L1291.9,1365.1 L1293.7,1364.3 L1295.6,1363.3 L1297.4,1362.3 L1299.1,1361.3 L1300.9,1360.2 L1302.6,1359.0 L1304.2,1357.9 L1305.8,1356.7 L1307.4,1355.4 L1309.0,1354.1 L1310.5,1352.8 L1312.0,1351.5 L1313.5,1350.1 L1314.9,1348.8 L1316.4,1347.4 L1317.8,1345.9 L1319.1,1344.5 L1320.5,1343.0 L1321.9,1341.5 L1323.2,1340.0 L1324.5,1338.5 L1325.9,1337.0 L1327.2,1335.5 L1328.5,1333.9 L1329.8,1332.4 L1331.1,1330.9 L1332.4,1329.3 L1333.6,1327.8 L1334.9,1326.2 L1336.2,1324.7 L1337.5,1323.1 L1338.8,1321.6 L1340.1,1320.0 L1341.4,1318.5 L1342.6,1316.9 L1343.9,1315.4 L1345.2,1313.8 L1346.5,1312.3 L1347.8,1310.7 L1349.1,1309.2 L1350.4,1307.6 L1351.7,1306.1 L1352.9,1304.5 L1354.2,1303.0 L1355.5,1301.4 L1356.8,1299.9 L1358.1,1298.4 L1359.4,1296.8 L1360.7,1295.3 L1362.0,1293.8 L1363.3,1292.2 L1364.6,1290.7 L1365.9,1289.2 L1367.2,1287.7 L1368.5,1286.1 L1369.8,1284.6 L1371.2,1283.1 L1372.5,1281.6 L1373.8,1280.1 L1375.1,1278.6 L1376.4,1277.1 L1377.8,1275.6 L1379.1,1274.1 L1380.4,1272.6 L1381.8,1271.1 L1383.1,1269.6 L1384.5,1268.1 L1385.8,1266.7 L1387.2,1265.2 L1388.5,1263.7 L1389.9,1262.3 L1391.3,1260.8 L1392.7,1259.4 L1394.0,1257.9 L1395.4,1256.5 L1396.8,1255.0 L1398.2,1253.6 L1399.6,1252.2 L1401.0,1250.8 L1402.4,1249.3 L1403.8,1247.9 L1405.3,1246.5 L1406.7,1245.1 L1408.1,1243.7 L1409.6,1242.3 L1411.0,1241.0 L1412.5,1239.6 L1413.9,1238.2 L1415.4,1236.9 L1416.9,1235.5 L1418.4,1234.2 L1419.9,1232.8 L1421.4,1231.5 L1422.9,1230.2 L1424.4,1228.9 L1425.9,1227.6 L1427.4,1226.3 L1429.0,1225.0 L1430.5,1223.7 L1432.0,1222.4 L1433.6,1221.1 L1435.2,1219.9 L1436.7,1218.6 L1438.3,1217.4 L1439.9,1216.1 L1441.5,1214.9 L1443.1,1213.6 L1444.7,1212.4 L1446.3,1211.2 L1447.9,1210.0 L1449.5,1208.8 L1451.1,1207.6 L1452.7,1206.4 L1454.3,1205.2 L1455.9,1204.0 L1457.6,1202.8 L1459.2,1201.6 L1460.8,1200.5 L1462.5,1199.3 L1464.1,1198.1 L1465.8,1197.0 L1467.4,1195.8 L1469.1,1194.7 L1470.7,1193.5 L1472.4,1192.4 L1474.0,1191.3 L1475.7,1190.1 L1477.3,1189.0 L1479.0,1187.9 L1480.6,1186.8 L1482.3,1185.6 L1484.0,1184.5 L1485.6,1183.4 L1487.3,1182.3 L1489.0,1181.2 L1490.6,1180.1 L1492.3,1179.1 L1494.0,1178.0 L1495.7,1176.9 L1497.4,1175.9 L1499.1,1174.8 L1500.8,1173.7 L1502.5,1172.7 L1504.2,1171.7 L1505.9,1170.7 L1507.6,1169.6 L1509.4,1168.6 L1511.1,1167.6 L1512.9,1166.6 L1514.6,1165.6 L1516.3,1164.7 L1518.1,1163.7 L1519.9,1162.7 L1521.6,1161.8 L1523.4,1160.8 L1525.2,1159.9 L1526.9,1159.0 L1528.7,1158.0 L1530.5,1157.1 L1532.3,1156.2 L1534.1,1155.3 L1535.9,1154.4 L1537.7,1153.5 L1539.5,1152.6 L1541.3,1151.8 L1543.1,1150.9 L1544.9,1150.1 L1546.8,1149.2 L1548.6,1148.4 L1550.4,1147.5 L1552.3,1146.7 L1554.1,1145.9 L1555.9,1145.1 L1557.8,1144.3 L1559.6,1143.5 L1561.5,1142.7 L1563.3,1141.9 L1565.2,1141.2 L1567.1,1140.4 L1568.9,1139.7 L1570.8,1138.9 L1572.7,1138.2 L1574.5,1137.5 L1576.4,1136.7 L1578.3,1136.0 L1580.2,1135.3 L1582.1,1134.6 L1584.0,1134.0 L1585.8,1133.3 L1587.7,1132.6 L1589.6,1131.9 L1591.5,1131.3 L1593.4,1130.6 L1595.3,1130.0 L1597.2,1129.4 L1599.2,1128.8 L1601.1,1128.1 L1603.0,1127.5 L1604.9,1126.9 L1606.8,1126.3 L1608.7,1125.8 L1610.6,1125.2 L1612.6,1124.6 L1614.5,1124.1 L1616.4,1123.5 L1618.3,1123.0 L1620.3,1122.4 L1622.2,1121.9 L1624.1,1121.4 L1626.1,1120.9 L1628.0,1120.4 L1630.0,1119.9 L1631.9,1119.4 L1633.8,1118.9 L1635.8,1118.4 L1637.7,1118.0 L1639.7,1117.5 L1641.6,1117.0 L1643.6,1116.6 L1645.5,1116.1 L1647.5,1115.7 L1649.4,1115.3 L1651.4,1114.9 L1653.3,1114.5 L1655.3,1114.0 L1657.3,1113.6 L1659.2,1113.2 L1661.2,1112.9 L1663.2,1112.5 L1665.1,1112.1 L1667.1,1111.7 L1669.1,1111.4 L1671.0,1111.0 L1673.0,1110.7 L1675.0,1110.3 L1677.0,1110.0 L1678.9,1109.6 L1680.9,1109.3 L1682.9,1109.0 L1684.9,1108.7 L1686.8,1108.4 L1688.8,1108.0 L1690.8,1107.7 L1692.8,1107.5 L1694.8,1107.2 L1696.8,1106.9 L1698.8,1106.6 L1700.7,1106.3 L1702.7,1106.1 L1704.7,1105.8 L1706.7,1105.5 L1708.7,1105.3 L1710.7,1105.0 L1712.7,1104.8 L1714.7,1104.6 L1716.7,1104.3 L1718.7,1104.1 L1720.7,1103.9 L1722.7,1103.6 L1724.7,1103.4 L1726.7,1103.2 L1728.6,1103.0 L1730.6,1102.8 L1732.6,1102.6 L1734.6,1102.4 L1736.6,1102.2 L1738.6,1102.0 L1740.7,1101.9 L1742.7,1101.7 L1744.7,1101.5 L1746.7,1101.3 L1748.7,1101.2 L1750.7,1101.0 L1752.7,1100.9 L1754.7,1100.7 L1756.7,1100.5 L1758.7,1100.4 L1760.7,1100.3 L1762.7,1100.1 L1764.7,1100.0 L1766.7,1099.8 L1768.7,1099.7 L1770.7,1099.6 L1772.7,1099.5 L1774.7,1099.3 L1776.7,1099.2 L1778.7,1099.1 L1780.7,1099.0 L1782.8,1098.9 L1784.8,1098.8 L1786.8,1098.7 L1788.8,1098.6 L1790.8,1098.5 L1792.8,1098.4 L1794.8,1098.3 L1796.8,1098.2 L1798.8,1098.1 L1800.8,1098.0 L1802.8,1097.9 L1804.8,1097.8 L1806.8,1097.7 L1808.8,1097.7 L1810.8,1097.6 L1812.8,1097.5 L1814.8,1097.4 L1816.8,1097.4 L1818.9,1097.3 L1820.9,1097.2 L1822.9,1097.2 L1824.9,1097.1 L1826.9,1097.0 L1828.9,1097.0 L1830.9,1096.9 L1832.9,1096.9 L1834.9,1096.8 L1836.9,1096.8 L1838.9,1096.7 L1840.9,1096.7 L1842.9,1096.6 L1844.9,1096.6 L1846.9,1096.5 L1848.9,1096.5 L1850.9,1096.4 L1852.9,1096.4 L1854.9,1096.4 L1856.9,1096.3 L1858.9,1096.3 L1860.9,1096.3 L1862.9,1096.2 L1864.9,1096.2 L1866.9,1096.2 L1868.9,1096.1 L1870.9,1096.1 L1872.9,1096.1 L1874.9,1096.1 L1876.9,1096.0 L1878.9,1096.0 L1880.9,1096.0 L1882.9,1096.0 L1884.9,1096.0 L1886.9,1095.9 L1888.9,1095.9 L1890.9,1095.9 L1892.9,1095.9 L1895.0,1095.9 L1897.0,1095.9 L1899.0,1095.8 L1901.0,1095.8 L1903.0,1095.8 L1905.0,1095.8 L1907.0,1095.8 L1909.0,1095.8 L1911.0,1095.8 L1913.0,1095.8 L1915.0,1095.8 L1917.0,1095.8 L1919.0,1095.7 L1921.0,1095.7 L1923.0,1095.7 L1925.0,1095.7 L1927.0,1095.7 L1929.0,1095.7 L1931.0,1095.7 L1933.0,1095.7 L1935.0,1095.7 L1937.0,1095.7 L1939.0,1095.7 L1941.1,1095.7 L1943.1,1095.7 L1945.1,1095.7 L1947.1,1095.7 L1949.1,1095.7 L1951.1,1095.7 L1953.1,1095.7 L1955.1,1095.7 L1957.1,1095.7 L1959.1,1095.7 L1961.1,1095.7 L1963.1,1095.6 L1965.2,1095.6 L1967.2,1095.6 L1969.2,1095.6 L1971.2,1095.6 L1973.2,1095.6 L1975.2,1095.6 L1977.2,1095.6 L1979.2,1095.6 L1981.2,1095.6 L1983.3,1095.6" fill="none" stroke="#000" stroke-width="3.6" stroke-linejoin="round" stroke-dasharray="11.3 10.8" stroke-dashoffset="0"/>
<path d="M1229.6,1080.8 L1229.8,1078.8 L1230.0,1076.8 L1230.1,1074.8 L1230.3,1072.8 L1230.4,1070.8 L1230.6,1068.8 L1230.8,1066.8 L1230.9,1064.8 L1231.0,1062.8 L1231.2,1060.8 L1231.3,1058.8 L1231.5,1056.8 L1231.6,1054.8 L1231.7,1052.8 L1231.9,1050.8 L1232.0,1048.8 L1232.1,1046.8 L1232.2,1044.8 L1232.4,1042.8 L1232.5,1040.8 L1232.6,1038.8 L1232.8,1036.8 L1232.9,1034.8 L1233.0,1032.8 L1233.2,1030.8 L1233.3,1028.8 L1233.4,1026.8 L1233.6,1024.8 L1233.7,1022.8 L1233.9,1020.8 L1234.0,1018.8 L1234.2,1016.8 L1234.4,1014.8 L1234.5,1012.8 L1234.7,1010.8 L1234.9,1008.8 L1235.1,1006.8 L1235.3,1004.8 L1235.5,1002.8 L1235.7,1000.8 L1235.9,998.8 L1236.1,996.8 L1236.3,994.8 L1236.6,992.9 L1236.8,990.9 L1237.1,988.9 L1237.4,986.9 L1237.6,984.9 L1237.9,982.9 L1238.2,980.9 L1238.6,979.0 L1238.9,977.0 L1239.2,975.0 L1239.6,973.0 L1239.9,971.1 L1240.3,969.1 L1240.7,967.1 L1241.2,965.2 L1241.6,963.2 L1242.1,961.3 L1242.6,959.3 L1243.1,957.4 L1243.7,955.5 L1244.2,953.5 L1244.8,951.6 L1245.5,949.7 L1246.1,947.9 L1246.8,946.0 L1247.6,944.1 L1248.3,942.2 L1249.0,940.4 L1249.8,938.5 L1250.5,936.6 L1251.2,934.7 L1251.9,932.8 L1252.7,931.0 L1253.6,929.2 L1254.7,927.5 L1256.1,926.0 L1257.8,924.6 L1259.6,923.5 L1261.5,922.7 L1263.4,922.2 L1265.3,922.1 L1267.1,922.4 L1268.9,923.0 L1270.5,924.0 L1272.1,925.1 L1273.6,926.5 L1275.1,927.9 L1276.5,929.4 L1277.9,930.9 L1279.3,932.5 L1280.7,934.0 L1282.0,935.5 L1283.3,937.1 L1284.6,938.7 L1285.8,940.3 L1287.0,941.9 L1288.2,943.5 L1289.4,945.1 L1290.6,946.7 L1291.8,948.4 L1292.9,950.0 L1294.1,951.6 L1295.2,953.3 L1296.3,954.9 L1297.4,956.6 L1298.5,958.3 L1299.6,959.9 L1300.7,961.6 L1301.8,963.2 L1302.9,964.9 L1304.0,966.6 L1305.1,968.2 L1306.2,969.9 L1307.3,971.5 L1308.5,973.2 L1309.6,974.8 L1310.7,976.5 L1311.9,978.1 L1313.0,979.7 L1314.2,981.4 L1315.4,983.0 L1316.6,984.6 L1317.8,986.2 L1319.0,987.8 L1320.3,989.4 L1321.5,991.0 L1322.7,992.6 L1324.0,994.1 L1325.3,995.7 L1326.6,997.3 L1327.8,998.8 L1329.1,1000.4 L1330.4,1001.9 L1331.8,1003.4 L1333.1,1004.9 L1334.4,1006.4 L1335.8,1007.9 L1337.1,1009.4 L1338.5,1010.9 L1339.9,1012.4 L1341.2,1013.8 L1342.6,1015.3 L1344.0,1016.7 L1345.4,1018.2 L1346.8,1019.6 L1348.3,1021.0 L1349.7,1022.4 L1351.1,1023.8 L1352.6,1025.2 L1354.0,1026.5 L1355.5,1027.9 L1356.9,1029.2 L1358.4,1030.6 L1359.9,1031.9 L1361.4,1033.2 L1362.9,1034.5 L1364.4,1035.8 L1366.0,1037.1 L1367.5,1038.3 L1369.0,1039.6 L1370.6,1040.8 L1372.2,1042.1 L1373.7,1043.3 L1375.3,1044.5 L1376.9,1045.7 L1378.6,1046.8 L1380.2,1048.0 L1381.8,1049.2 L1383.5,1050.3 L1385.2,1051.4 L1386.8,1052.5 L1388.5,1053.6 L1390.2,1054.7 L1391.9,1055.8 L1393.7,1056.8 L1395.4,1057.9 L1397.2,1058.9 L1398.9,1059.9 L1400.7,1060.9 L1402.5,1061.9 L1404.2,1062.9 L1406.0,1063.8 L1407.8,1064.7 L1409.6,1065.7 L1411.5,1066.6 L1413.3,1067.4 L1415.1,1068.3 L1417.0,1069.1 L1418.8,1070.0 L1420.7,1070.8 L1422.5,1071.6 L1424.4,1072.3 L1426.2,1073.1 L1428.1,1073.8 L1430.0,1074.5 L1431.9,1075.2 L1433.8,1075.9 L1435.6,1076.5 L1437.5,1077.2 L1439.4,1077.8 L1441.3,1078.4 L1443.2,1079.0 L1445.2,1079.5 L1447.1,1080.1 L1449.0,1080.6 L1450.9,1081.1 L1452.8,1081.6 L1454.8,1082.1 L1456.7,1082.6 L1458.6,1083.1 L1460.6,1083.5 L1462.5,1083.9 L1464.5,1084.3 L1466.4,1084.7 L1468.4,1085.1 L1470.3,1085.5 L1472.3,1085.9 L1474.2,1086.2 L1476.2,1086.5 L1478.2,1086.9 L1480.1,1087.2 L1482.1,1087.5 L1484.1,1087.8 L1486.1,1088.0 L1488.0,1088.3 L1490.0,1088.6 L1492.0,1088.8 L1494.0,1089.1 L1496.0,1089.3 L1498.0,1089.5 L1500.0,1089.7 L1501.9,1089.9 L1503.9,1090.1 L1505.9,1090.3 L1507.9,1090.5 L1509.9,1090.7 L1511.9,1090.8 L1513.9,1091.0 L1515.9,1091.1 L1517.9,1091.3 L1519.9,1091.4 L1521.9,1091.5 L1524.0,1091.7 L1526.0,1091.8 L1528.0,1091.9 L1530.0,1092.0 L1532.0,1092.1 L1534.0,1092.2 L1536.0,1092.3 L1538.0,1092.4 L1540.0,1092.5 L1542.0,1092.6 L1544.1,1092.7 L1546.1,1092.8 L1548.1,1092.9 L1550.1,1093.0 L1552.1,1093.0 L1554.1,1093.1 L1556.1,1093.2 L1558.1,1093.3 L1560.1,1093.4 L1562.2,1093.4 L1564.2,1093.5 L1566.2,1093.6 L1568.2,1093.7 L1570.2,1093.7 L1572.2,1093.8 L1574.2,1093.9 L1576.2,1093.9 L1578.2,1094.0 L1580.2,1094.0 L1582.2,1094.1 L1584.3,1094.2 L1586.3,1094.2 L1588.3,1094.3 L1590.3,1094.3 L1592.3,1094.4 L1594.3,1094.5 L1596.3,1094.5 L1598.3,1094.6 L1600.3,1094.6 L1602.3,1094.7 L1604.3,1094.7 L1606.3,1094.8 L1608.4,1094.8 L1610.4,1094.8 L1612.4,1094.9 L1614.4,1094.9 L1616.4,1095.0 L1618.4,1095.0 L1620.4,1095.1 L1622.4,1095.1 L1624.4,1095.1 L1626.4,1095.2 L1628.4,1095.2 L1630.4,1095.2 L1632.4,1095.3 L1634.4,1095.3 L1636.5,1095.3 L1638.5,1095.4 L1640.5,1095.4 L1642.5,1095.4 L1644.5,1095.5 L1646.5,1095.5 L1648.5,1095.5 L1650.5,1095.5 L1652.5,1095.6 L1654.5,1095.6 L1656.5,1095.6 L1658.5,1095.6 L1660.5,1095.6 L1662.5,1095.7 L1664.5,1095.7 L1666.5,1095.7 L1668.5,1095.7 L1670.5,1095.7 L1672.5,1095.8 L1674.5,1095.8 L1676.6,1095.8 L1678.6,1095.8 L1680.6,1095.8 L1682.6,1095.8 L1684.6,1095.8 L1686.6,1095.8 L1688.6,1095.9 L1690.6,1095.9 L1692.6,1095.9 L1694.6,1095.9 L1696.6,1095.9 L1698.6,1095.9 L1700.6,1095.9 L1702.6,1095.9 L1704.6,1095.9 L1706.6,1095.9 L1708.6,1095.9 L1710.6,1095.9 L1712.6,1095.9 L1714.6,1095.9 L1716.6,1095.9 L1718.6,1095.9 L1720.6,1095.9 L1722.6,1095.9 L1724.6,1095.9 L1726.6,1095.9 L1728.6,1095.9 L1730.7,1095.9 L1732.7,1095.9 L1734.7,1095.9 L1736.7,1095.9 L1738.7,1095.9 L1740.7,1095.9 L1742.7,1095.9 L1744.7,1095.9 L1746.7,1095.9 L1748.7,1095.9 L1750.7,1095.9 L1752.7,1095.9 L1754.7,1095.9 L1756.7,1095.9 L1758.7,1095.9 L1760.7,1095.9 L1762.7,1095.8 L1764.7,1095.8 L1766.7,1095.8 L1768.7,1095.8 L1770.7,1095.8 L1772.7,1095.8 L1774.7,1095.8 L1776.7,1095.8 L1778.7,1095.8 L1780.7,1095.8 L1782.7,1095.8 L1784.7,1095.7 L1786.7,1095.7 L1788.7,1095.7 L1790.7,1095.7 L1792.7,1095.7 L1794.7,1095.7 L1796.7,1095.7 L1798.7,1095.7 L1800.7,1095.7 L1802.8,1095.6 L1804.8,1095.6 L1806.8,1095.6 L1808.8,1095.6 L1810.8,1095.6 L1812.8,1095.6 L1814.8,1095.6 L1816.8,1095.6 L1818.8,1095.6 L1820.8,1095.5 L1822.8,1095.5 L1824.8,1095.5 L1826.8,1095.5 L1828.8,1095.5 L1830.8,1095.5 L1832.8,1095.5 L1834.8,1095.5 L1836.8,1095.5 L1838.8,1095.4 L1840.8,1095.4 L1842.8,1095.4 L1844.8,1095.4 L1846.8,1095.4 L1848.8,1095.4 L1850.8,1095.4 L1852.8,1095.4 L1854.8,1095.4 L1856.8,1095.4 L1858.8,1095.3 L1860.9,1095.3 L1862.9,1095.3 L1864.9,1095.3 L1866.9,1095.3 L1868.9,1095.3 L1870.9,1095.3 L1872.9,1095.3 L1874.9,1095.3 L1876.9,1095.3 L1878.9,1095.3 L1880.9,1095.3 L1882.9,1095.3 L1884.9,1095.2 L1886.9,1095.2 L1888.9,1095.2 L1890.9,1095.2 L1892.9,1095.2 L1894.9,1095.2 L1896.9,1095.2 L1898.9,1095.2 L1900.9,1095.2 L1903.0,1095.2 L1905.0,1095.2 L1907.0,1095.2 L1909.0,1095.2 L1911.0,1095.2 L1913.0,1095.2 L1915.0,1095.2 L1917.0,1095.2 L1919.0,1095.2 L1921.0,1095.2 L1923.0,1095.2 L1925.0,1095.2 L1927.0,1095.2 L1929.0,1095.2 L1931.0,1095.2 L1933.1,1095.3 L1935.1,1095.3 L1937.1,1095.3 L1939.1,1095.3 L1941.1,1095.3 L1943.1,1095.3 L1945.1,1095.3 L1947.1,1095.3 L1949.1,1095.3 L1951.1,1095.3 L1953.1,1095.4 L1955.1,1095.4 L1957.1,1095.4 L1959.2,1095.4 L1961.2,1095.4 L1963.2,1095.4 L1965.2,1095.5 L1967.2,1095.5 L1969.2,1095.5 L1971.2,1095.5 L1973.2,1095.5 L1975.2,1095.6 L1977.2,1095.6 L1979.2,1095.6 L1981.3,1095.6 L1983.3,1095.7" fill="none" stroke="#00ff00" stroke-width="3.8" stroke-linejoin="round"/>
<path d="M1229.9,1080.8 L1230.0,1082.8 L1230.1,1084.8 L1230.3,1086.8 L1230.4,1088.8 L1230.6,1090.8 L1230.7,1092.8 L1230.8,1094.8 L1230.9,1096.8 L1231.1,1098.8 L1231.2,1100.8 L1231.3,1102.8 L1231.5,1104.8 L1231.6,1106.8 L1231.7,1108.8 L1231.8,1110.8 L1232.0,1112.8 L1232.1,1114.8 L1232.2,1116.8 L1232.3,1118.8 L1232.4,1120.8 L1232.6,1122.8 L1232.7,1124.8 L1232.8,1126.8 L1232.9,1128.8 L1233.1,1130.8 L1233.2,1132.8 L1233.3,1134.8 L1233.4,1136.8 L1233.5,1138.8 L1233.7,1140.8 L1233.8,1142.8 L1233.9,1144.8 L1234.0,1146.8 L1234.2,1148.9 L1234.3,1150.9 L1234.4,1152.9 L1234.5,1154.9 L1234.7,1156.9 L1234.8,1158.9 L1234.9,1160.9 L1235.1,1162.9 L1235.2,1164.9 L1235.3,1166.9 L1235.5,1168.9 L1235.6,1170.9 L1235.8,1172.9 L1235.9,1174.9 L1236.0,1176.9 L1236.2,1179.0 L1236.3,1181.0 L1236.5,1183.0 L1236.6,1185.0 L1236.8,1187.0 L1237.0,1189.0 L1237.1,1191.0 L1237.3,1193.0 L1237.5,1195.0 L1237.6,1197.0 L1237.8,1199.0 L1238.0,1201.0 L1238.1,1203.0 L1238.3,1205.0 L1238.5,1207.0 L1238.7,1209.0 L1238.9,1211.0 L1239.1,1213.0 L1239.3,1215.0 L1239.5,1217.0 L1239.7,1219.0 L1239.9,1221.0 L1240.1,1223.0 L1240.3,1225.0 L1240.6,1226.9 L1240.8,1228.9 L1241.0,1230.9 L1241.3,1232.9 L1241.5,1234.9 L1241.7,1236.9 L1242.0,1238.9 L1242.2,1240.9 L1242.5,1242.8 L1242.8,1244.8 L1243.0,1246.8 L1243.3,1248.8 L1243.6,1250.8 L1243.9,1252.7 L1244.2,1254.7 L1244.4,1256.7 L1244.7,1258.7 L1245.1,1260.6 L1245.4,1262.6 L1245.7,1264.6 L1246.0,1266.5 L1246.3,1268.5 L1246.7,1270.5 L1247.0,1272.4 L1247.3,1274.4 L1247.7,1276.4 L1248.1,1278.3 L1248.4,1280.3 L1248.8,1282.2 L1249.2,1284.2 L1249.6,1286.2 L1250.0,1288.1 L1250.4,1290.1 L1250.8,1292.0 L1251.2,1294.0 L1251.6,1296.0 L1252.1,1298.0 L1252.5,1299.9 L1253.0,1301.9 L1253.4,1303.9 L1253.9,1305.9 L1254.4,1307.9 L1254.9,1309.9 L1255.4,1311.9 L1255.9,1313.9 L1256.5,1315.9 L1257.0,1317.9 L1257.6,1319.9 L1258.3,1321.9 L1259.0,1323.8 L1259.8,1325.7 L1260.6,1327.6 L1261.5,1329.4 L1262.4,1331.1 L1263.5,1332.9 L1264.6,1334.5 L1265.8,1336.1 L1267.1,1337.6 L1268.5,1339.0 L1270.0,1340.4 L1271.6,1341.6 L1273.2,1342.7 L1274.9,1343.8 L1276.6,1344.7 L1278.4,1345.5 L1280.2,1346.1 L1282.1,1346.6 L1284.0,1347.0 L1285.9,1347.2 L1287.8,1347.2 L1289.8,1347.1 L1291.7,1346.9 L1293.6,1346.5 L1295.5,1346.0 L1297.4,1345.4 L1299.3,1344.7 L1301.1,1343.8 L1302.9,1342.9 L1304.7,1341.9 L1306.4,1340.9 L1308.1,1339.7 L1309.8,1338.5 L1311.4,1337.2 L1313.0,1335.9 L1314.6,1334.6 L1316.2,1333.2 L1317.7,1331.8 L1319.2,1330.4 L1320.7,1329.0 L1322.2,1327.6 L1323.7,1326.1 L1325.2,1324.7 L1326.6,1323.3 L1328.0,1321.8 L1329.5,1320.4 L1330.9,1318.9 L1332.3,1317.5 L1333.7,1316.1 L1335.0,1314.6 L1336.4,1313.2 L1337.8,1311.7 L1339.1,1310.3 L1340.5,1308.8 L1341.9,1307.3 L1343.2,1305.9 L1344.6,1304.4 L1345.9,1303.0 L1347.2,1301.5 L1348.6,1300.0 L1349.9,1298.6 L1351.3,1297.1 L1352.6,1295.6 L1354.0,1294.2 L1355.3,1292.7 L1356.7,1291.3 L1358.0,1289.8 L1359.4,1288.3 L1360.8,1286.9 L1362.1,1285.4 L1363.5,1283.9 L1364.9,1282.5 L1366.2,1281.0 L1367.6,1279.6 L1369.0,1278.1 L1370.4,1276.7 L1371.8,1275.2 L1373.2,1273.8 L1374.6,1272.3 L1376.0,1270.9 L1377.4,1269.4 L1378.8,1268.0 L1380.2,1266.6 L1381.6,1265.1 L1383.0,1263.7 L1384.4,1262.3 L1385.8,1260.8 L1387.3,1259.4 L1388.7,1258.0 L1390.1,1256.6 L1391.6,1255.2 L1393.0,1253.8 L1394.5,1252.4 L1395.9,1251.0 L1397.4,1249.6 L1398.8,1248.2 L1400.3,1246.8 L1401.8,1245.5 L1403.2,1244.1 L1404.7,1242.7 L1406.2,1241.4 L1407.7,1240.0 L1409.2,1238.7 L1410.7,1237.3 L1412.2,1236.0 L1413.7,1234.7 L1415.2,1233.3 L1416.7,1232.0 L1418.3,1230.7 L1419.8,1229.4 L1421.3,1228.1 L1422.9,1226.8 L1424.4,1225.6 L1426.0,1224.3 L1427.5,1223.0 L1429.1,1221.8 L1430.7,1220.5 L1432.3,1219.3 L1433.8,1218.1 L1435.4,1216.8 L1437.0,1215.6 L1438.6,1214.4 L1440.2,1213.2 L1441.8,1212.0 L1443.4,1210.8 L1445.0,1209.6 L1446.7,1208.4 L1448.3,1207.3 L1449.9,1206.1 L1451.6,1204.9 L1453.2,1203.8 L1454.8,1202.6 L1456.5,1201.5 L1458.1,1200.4 L1459.8,1199.2 L1461.4,1198.1 L1463.1,1197.0 L1464.7,1195.8 L1466.4,1194.7 L1468.1,1193.6 L1469.7,1192.5 L1471.4,1191.4 L1473.1,1190.3 L1474.8,1189.2 L1476.5,1188.1 L1478.1,1187.1 L1479.8,1186.0 L1481.5,1184.9 L1483.2,1183.8 L1484.9,1182.8 L1486.6,1181.7 L1488.3,1180.6 L1490.0,1179.6 L1491.7,1178.5 L1493.4,1177.5 L1495.1,1176.5 L1496.8,1175.4 L1498.6,1174.4 L1500.3,1173.4 L1502.0,1172.4 L1503.7,1171.4 L1505.5,1170.4 L1507.2,1169.4 L1509.0,1168.4 L1510.7,1167.4 L1512.4,1166.4 L1514.2,1165.4 L1516.0,1164.5 L1517.7,1163.5 L1519.5,1162.6 L1521.3,1161.6 L1523.0,1160.7 L1524.8,1159.8 L1526.6,1158.9 L1528.4,1157.9 L1530.2,1157.0 L1532.0,1156.1 L1533.8,1155.3 L1535.6,1154.4 L1537.4,1153.5 L1539.2,1152.6 L1541.1,1151.8 L1542.9,1150.9 L1544.7,1150.1 L1546.5,1149.2 L1548.4,1148.4 L1550.2,1147.6 L1552.1,1146.8 L1553.9,1146.0 L1555.8,1145.2 L1557.6,1144.4 L1559.5,1143.6 L1561.3,1142.8 L1563.2,1142.1 L1565.1,1141.3 L1567.0,1140.6 L1568.8,1139.8 L1570.7,1139.1 L1572.6,1138.4 L1574.5,1137.6 L1576.4,1136.9 L1578.2,1136.2 L1580.1,1135.5 L1582.0,1134.8 L1583.9,1134.2 L1585.8,1133.5 L1587.7,1132.8 L1589.6,1132.2 L1591.5,1131.5 L1593.4,1130.9 L1595.3,1130.2 L1597.3,1129.6 L1599.2,1129.0 L1601.1,1128.4 L1603.0,1127.8 L1604.9,1127.2 L1606.8,1126.6 L1608.8,1126.0 L1610.7,1125.4 L1612.6,1124.9 L1614.5,1124.3 L1616.5,1123.7 L1618.4,1123.2 L1620.3,1122.7 L1622.2,1122.1 L1624.2,1121.6 L1626.1,1121.1 L1628.0,1120.6 L1630.0,1120.1 L1631.9,1119.6 L1633.9,1119.1 L1635.8,1118.6 L1637.7,1118.1 L1639.7,1117.7 L1641.6,1117.2 L1643.6,1116.8 L1645.5,1116.3 L1647.5,1115.9 L1649.4,1115.4 L1651.4,1115.0 L1653.3,1114.6 L1655.3,1114.2 L1657.2,1113.8 L1659.2,1113.4 L1661.2,1113.0 L1663.1,1112.6 L1665.1,1112.2 L1667.0,1111.8 L1669.0,1111.5 L1671.0,1111.1 L1672.9,1110.7 L1674.9,1110.4 L1676.9,1110.0 L1678.8,1109.7 L1680.8,1109.4 L1682.8,1109.0 L1684.8,1108.7 L1686.7,1108.4 L1688.7,1108.1 L1690.7,1107.8 L1692.7,1107.5 L1694.6,1107.2 L1696.6,1106.9 L1698.6,1106.6 L1700.6,1106.3 L1702.6,1106.0 L1704.5,1105.7 L1706.5,1105.5 L1708.5,1105.2 L1710.5,1105.0 L1712.5,1104.7 L1714.5,1104.5 L1716.5,1104.2 L1718.4,1104.0 L1720.4,1103.8 L1722.4,1103.5 L1724.4,1103.3 L1726.4,1103.1 L1728.4,1102.9 L1730.4,1102.7 L1732.4,1102.5 L1734.4,1102.3 L1736.4,1102.1 L1738.4,1101.9 L1740.4,1101.7 L1742.4,1101.5 L1744.4,1101.3 L1746.4,1101.2 L1748.4,1101.0 L1750.4,1100.8 L1752.4,1100.7 L1754.4,1100.5 L1756.4,1100.3 L1758.4,1100.2 L1760.4,1100.0 L1762.4,1099.9 L1764.4,1099.8 L1766.4,1099.6 L1768.4,1099.5 L1770.4,1099.4 L1772.4,1099.2 L1774.4,1099.1 L1776.4,1099.0 L1778.4,1098.9 L1780.4,1098.8 L1782.4,1098.7 L1784.5,1098.6 L1786.5,1098.4 L1788.5,1098.4 L1790.5,1098.3 L1792.5,1098.2 L1794.5,1098.1 L1796.5,1098.0 L1798.5,1097.9 L1800.5,1097.8 L1802.6,1097.7 L1804.6,1097.7 L1806.6,1097.6 L1808.6,1097.5 L1810.6,1097.4 L1812.6,1097.4 L1814.6,1097.3 L1816.6,1097.2 L1818.7,1097.2 L1820.7,1097.1 L1822.7,1097.1 L1824.7,1097.0 L1826.7,1097.0 L1828.7,1096.9 L1830.7,1096.9 L1832.8,1096.8 L1834.8,1096.8 L1836.8,1096.7 L1838.8,1096.7 L1840.8,1096.7 L1842.8,1096.6 L1844.9,1096.6 L1846.9,1096.6 L1848.9,1096.5 L1850.9,1096.5 L1852.9,1096.5 L1854.9,1096.5 L1856.9,1096.4 L1859.0,1096.4 L1861.0,1096.4 L1863.0,1096.4 L1865.0,1096.3 L1867.0,1096.3 L1869.0,1096.3 L1871.0,1096.3 L1873.1,1096.3 L1875.1,1096.3 L1877.1,1096.2 L1879.1,1096.2 L1881.1,1096.2 L1883.1,1096.2 L1885.1,1096.2 L1887.1,1096.2 L1889.2,1096.2 L1891.2,1096.2 L1893.2,1096.2 L1895.2,1096.2 L1897.2,1096.1 L1899.2,1096.1 L1901.2,1096.1 L1903.2,1096.1 L1905.2,1096.1 L1907.3,1096.1 L1909.3,1096.1 L1911.3,1096.1 L1913.3,1096.1 L1915.3,1096.1 L1917.3,1096.1 L1919.3,1096.1 L1921.3,1096.1 L1923.3,1096.1 L1925.3,1096.0 L1927.3,1096.0 L1929.3,1096.0 L1931.3,1096.0 L1933.3,1096.0 L1935.3,1096.0 L1937.3,1096.0 L1939.3,1096.0 L1941.3,1096.0 L1943.3,1096.0 L1945.3,1095.9 L1947.3,1095.9 L1949.3,1095.9 L1951.3,1095.9 L1953.3,1095.9 L1955.3,1095.9 L1957.3,1095.8 L1959.3,1095.8 L1961.3,1095.8 L1963.3,1095.8 L1965.3,1095.8 L1967.3,1095.7 L1969.2,1095.7 L1971.2,1095.7 L1973.2,1095.6 L1975.2,1095.6 L1977.2,1095.6 L1979.2,1095.6 L1981.2,1095.5 L1983.1,1095.5" fill="none" stroke="#00ff00" stroke-width="3.7" stroke-linejoin="round" stroke-dasharray="11.3 10.8" stroke-dashoffset="0"/>
</g>
<rect x="1229.75" y="873.25" width="753.50" height="593.00" fill="none" stroke="#262626" stroke-width="1.3"/>
<line x1="1229.75" y1="1466.25" x2="1229.75" y2="1462.05" stroke="#262626" stroke-width="1.1"/>
<line x1="1229.75" y1="873.25" x2="1229.75" y2="877.45" stroke="#262626" stroke-width="1.1"/>
<line x1="1246.49" y1="1466.25" x2="1246.49" y2="1462.05" stroke="#262626" stroke-width="1.1"/>
<line x1="1246.49" y1="873.25" x2="1246.49" y2="877.45" stroke="#262626" stroke-width="1.1"/>
<line x1="1263.24" y1="1466.25" x2="1263.24" y2="1462.05" stroke="#262626" stroke-width="1.1"/>
<line x1="1263.24" y1="873.25" x2="1263.24" y2="877.45" stroke="#262626" stroke-width="1.1"/>
<line x1="1279.98" y1="1466.25" x2="1279.98" y2="1462.05" stroke="#262626" stroke-width="1.1"/>
<line x1="1279.98" y1="873.25" x2="1279.98" y2="877.45" stroke="#262626" stroke-width="1.1"/>
<line x1="1296.73" y1="1466.25" x2="1296.73" y2="1462.05" stroke="#262626" stroke-width="1.1"/>
<line x1="1296.73" y1="873.25" x2="1296.73" y2="877.45" stroke="#262626" stroke-width="1.1"/>
<line x1="1313.47" y1="1466.25" x2="1313.47" y2="1462.05" stroke="#262626" stroke-width="1.1"/>
<line x1="1313.47" y1="873.25" x2="1313.47" y2="877.45" stroke="#262626" stroke-width="1.1"/>
<line x1="1330.22" y1="1466.25" x2="1330.22" y2="1462.05" stroke="#262626" stroke-width="1.1"/>
<line x1="1330.22" y1="873.25" x2="1330.22" y2="877.45" stroke="#262626" stroke-width="1.1"/>
<line x1="1346.96" y1="1466.25" x2="1346.96" y2="1462.05" stroke="#262626" stroke-width="1.1"/>
<line x1="1346.96" y1="873.25" x2="1346.96" y2="877.45" stroke="#262626" stroke-width="1.1"/>
<line x1="1363.71" y1="1466.25" x2="1363.71" y2="1462.05" stroke="#262626" stroke-width="1.1"/>
<line x1="1363.71" y1="873.25" x2="1363.71" y2="877.45" stroke="#262626" stroke-width="1.1"/>
<line x1="1380.45" y1="1466.25" x2="1380.45" y2="1462.05" stroke="#262626" stroke-width="1.1"/>
<line x1="1380.45" y1="873.25" x2="1380.45" y2="877.45" stroke="#262626" stroke-width="1.1"/>
<line x1="1397.20" y1="1466.25" x2="1397.20" y2="1462.05" stroke="#262626" stroke-width="1.1"/>
<line x1="1397.20" y1="873.25" x2="1397.20" y2="877.45" stroke="#262626" stroke-width="1.1"/>
<line x1="1413.94" y1="1466.25" x2="1413.94" y2="1462.05" stroke="#262626" stroke-width="1.1"/>
<line x1="1413.94" y1="873.25" x2="1413.94" y2="877.45" stroke="#262626" stroke-width="1.1"/>
<line x1="1430.69" y1="1466.25" x2="1430.69" y2="1462.05" stroke="#262626" stroke-width="1.1"/>
<line x1="1430.69" y1="873.25" x2="1430.69" y2="877.45" stroke="#262626" stroke-width="1.1"/>
<line x1="1447.43" y1="1466.25" x2="1447.43" y2="1462.05" stroke="#262626" stroke-width="1.1"/>
<line x1="1447.43" y1="873.25" x2="1447.43" y2="877.45" stroke="#262626" stroke-width="1.1"/>
<line x1="1464.18" y1="1466.25" x2="1464.18" y2="1462.05" stroke="#262626" stroke-width="1.1"/>
<line x1="1464.18" y1="873.25" x2="1464.18" y2="877.45" stroke="#262626" stroke-width="1.1"/>
<line x1="1480.92" y1="1466.25" x2="1480.92" y2="1462.05" stroke="#262626" stroke-width="1.1"/>
<line x1="1480.92" y1="873.25" x2="1480.92" y2="877.45" stroke="#262626" stroke-width="1.1"/>
<line x1="1497.67" y1="1466.25" x2="1497.67" y2="1462.05" stroke="#262626" stroke-width="1.1"/>
<line x1="1497.67" y1="873.25" x2="1497.67" y2="877.45" stroke="#262626" stroke-width="1.1"/>
<line x1="1514.41" y1="1466.25" x2="1514.41" y2="1462.05" stroke="#262626" stroke-width="1.1"/>
<line x1="1514.41" y1="873.25" x2="1514.41" y2="877.45" stroke="#262626" stroke-width="1.1"/>
<line x1="1531.16" y1="1466.25" x2="1531.16" y2="1462.05" stroke="#262626" stroke-width="1.1"/>
<line x1="1531.16" y1="873.25" x2="1531.16" y2="877.45" stroke="#262626" stroke-width="1.1"/>
<line x1="1547.90" y1="1466.25" x2="1547.90" y2="1462.05" stroke="#262626" stroke-width="1.1"/>
<line x1="1547.90" y1="873.25" x2="1547.90" y2="877.45" stroke="#262626" stroke-width="1.1"/>
<line x1="1564.65" y1="1466.25" x2="1564.65" y2="1462.05" stroke="#262626" stroke-width="1.1"/>
<line x1="1564.65" y1="873.25" x2="1564.65" y2="877.45" stroke="#262626" stroke-width="1.1"/>
<line x1="1581.39" y1="1466.25" x2="1581.39" y2="1462.05" stroke="#262626" stroke-width="1.1"/>
<line x1="1581.39" y1="873.25" x2="1581.39" y2="877.45" stroke="#262626" stroke-width="1.1"/>
<line x1="1598.14" y1="1466.25" x2="1598.14" y2="1462.05" stroke="#262626" stroke-width="1.1"/>
<line x1="1598.14" y1="873.25" x2="1598.14" y2="877.45" stroke="#262626" stroke-width="1.1"/>
<line x1="1614.88" y1="1466.25" x2="1614.88" y2="1462.05" stroke="#262626" stroke-width="1.1"/>
<line x1="1614.88" y1="873.25" x2="1614.88" y2="877.45" stroke="#262626" stroke-width="1.1"/>
<line x1="1631.63" y1="1466.25" x2="1631.63" y2="1462.05" stroke="#262626" stroke-width="1.1"/>
<line x1="1631.63" y1="873.25" x2="1631.63" y2="877.45" stroke="#262626" stroke-width="1.1"/>
<line x1="1648.38" y1="1466.25" x2="1648.38" y2="1462.05" stroke="#262626" stroke-width="1.1"/>
<line x1="1648.38" y1="873.25" x2="1648.38" y2="877.45" stroke="#262626" stroke-width="1.1"/>
<line x1="1665.12" y1="1466.25" x2="1665.12" y2="1462.05" stroke="#262626" stroke-width="1.1"/>
<line x1="1665.12" y1="873.25" x2="1665.12" y2="877.45" stroke="#262626" stroke-width="1.1"/>
<line x1="1681.87" y1="1466.25" x2="1681.87" y2="1462.05" stroke="#262626" stroke-width="1.1"/>
<line x1="1681.87" y1="873.25" x2="1681.87" y2="877.45" stroke="#262626" stroke-width="1.1"/>
<line x1="1698.61" y1="1466.25" x2="1698.61" y2="1462.05" stroke="#262626" stroke-width="1.1"/>
<line x1="1698.61" y1="873.25" x2="1698.61" y2="877.45" stroke="#262626" stroke-width="1.1"/>
<line x1="1715.36" y1="1466.25" x2="1715.36" y2="1462.05" stroke="#262626" stroke-width="1.1"/>
<line x1="1715.36" y1="873.25" x2="1715.36" y2="877.45" stroke="#262626" stroke-width="1.1"/>
<line x1="1732.10" y1="1466.25" x2="1732.10" y2="1462.05" stroke="#262626" stroke-width="1.1"/>
<line x1="1732.10" y1="873.25" x2="1732.10" y2="877.45" stroke="#262626" stroke-width="1.1"/>
<line x1="1748.85" y1="1466.25" x2="1748.85" y2="1462.05" stroke="#262626" stroke-width="1.1"/>
<line x1="1748.85" y1="873.25" x2="1748.85" y2="877.45" stroke="#262626" stroke-width="1.1"/>
<line x1="1765.59" y1="1466.25" x2="1765.59" y2="1462.05" stroke="#262626" stroke-width="1.1"/>
<line x1="1765.59" y1="873.25" x2="1765.59" y2="877.45" stroke="#262626" stroke-width="1.1"/>
<line x1="1782.34" y1="1466.25" x2="1782.34" y2="1462.05" stroke="#262626" stroke-width="1.1"/>
<line x1="1782.34" y1="873.25" x2="1782.34" y2="877.45" stroke="#262626" stroke-width="1.1"/>
<line x1="1799.08" y1="1466.25" x2="1799.08" y2="1462.05" stroke="#262626" stroke-width="1.1"/>
<line x1="1799.08" y1="873.25" x2="1799.08" y2="877.45" stroke="#262626" stroke-width="1.1"/>
<line x1="1815.82" y1="1466.25" x2="1815.82" y2="1462.05" stroke="#262626" stroke-width="1.1"/>
<line x1="1815.82" y1="873.25" x2="1815.82" y2="877.45" stroke="#262626" stroke-width="1.1"/>
<line x1="1832.57" y1="1466.25" x2="1832.57" y2="1462.05" stroke="#262626" stroke-width="1.1"/>
<line x1="1832.57" y1="873.25" x2="1832.57" y2="877.45" stroke="#262626" stroke-width="1.1"/>
<line x1="1849.32" y1="1466.25" x2="1849.32" y2="1462.05" stroke="#262626" stroke-width="1.1"/>
<line x1="1849.32" y1="873.25" x2="1849.32" y2="877.45" stroke="#262626" stroke-width="1.1"/>
<line x1="1866.06" y1="1466.25" x2="1866.06" y2="1462.05" stroke="#262626" stroke-width="1.1"/>
<line x1="1866.06" y1="873.25" x2="1866.06" y2="877.45" stroke="#262626" stroke-width="1.1"/>
<line x1="1882.81" y1="1466.25" x2="1882.81" y2="1462.05" stroke="#262626" stroke-width="1.1"/>
<line x1="1882.81" y1="873.25" x2="1882.81" y2="877.45" stroke="#262626" stroke-width="1.1"/>
<line x1="1899.55" y1="1466.25" x2="1899.55" y2="1462.05" stroke="#262626" stroke-width="1.1"/>
<line x1="1899.55" y1="873.25" x2="1899.55" y2="877.45" stroke="#262626" stroke-width="1.1"/>
<line x1="1916.30" y1="1466.25" x2="1916.30" y2="1462.05" stroke="#262626" stroke-width="1.1"/>
<line x1="1916.30" y1="873.25" x2="1916.30" y2="877.45" stroke="#262626" stroke-width="1.1"/>
<line x1="1933.04" y1="1466.25" x2="1933.04" y2="1462.05" stroke="#262626" stroke-width="1.1"/>
<line x1="1933.04" y1="873.25" x2="1933.04" y2="877.45" stroke="#262626" stroke-width="1.1"/>
<line x1="1949.78" y1="1466.25" x2="1949.78" y2="1462.05" stroke="#262626" stroke-width="1.1"/>
<line x1="1949.78" y1="873.25" x2="1949.78" y2="877.45" stroke="#262626" stroke-width="1.1"/>
<line x1="1966.53" y1="1466.25" x2="1966.53" y2="1462.05" stroke="#262626" stroke-width="1.1"/>
<line x1="1966.53" y1="873.25" x2="1966.53" y2="877.45" stroke="#262626" stroke-width="1.1"/>
<line x1="1983.28" y1="1466.25" x2="1983.28" y2="1462.05" stroke="#262626" stroke-width="1.1"/>
<line x1="1983.28" y1="873.25" x2="1983.28" y2="877.45" stroke="#262626" stroke-width="1.1"/>
<line x1="1229.75" y1="1466.25" x2="1229.75" y2="1458.25" stroke="#262626" stroke-width="1.2"/>
<line x1="1229.75" y1="873.25" x2="1229.75" y2="881.25" stroke="#262626" stroke-width="1.2"/>
<line x1="1313.47" y1="1466.25" x2="1313.47" y2="1458.25" stroke="#262626" stroke-width="1.2"/>
<line x1="1313.47" y1="873.25" x2="1313.47" y2="881.25" stroke="#262626" stroke-width="1.2"/>
<line x1="1397.20" y1="1466.25" x2="1397.20" y2="1458.25" stroke="#262626" stroke-width="1.2"/>
<line x1="1397.20" y1="873.25" x2="1397.20" y2="881.25" stroke="#262626" stroke-width="1.2"/>
<line x1="1480.92" y1="1466.25" x2="1480.92" y2="1458.25" stroke="#262626" stroke-width="1.2"/>
<line x1="1480.92" y1="873.25" x2="1480.92" y2="881.25" stroke="#262626" stroke-width="1.2"/>
<line x1="1564.65" y1="1466.25" x2="1564.65" y2="1458.25" stroke="#262626" stroke-width="1.2"/>
<line x1="1564.65" y1="873.25" x2="1564.65" y2="881.25" stroke="#262626" stroke-width="1.2"/>
<line x1="1648.38" y1="1466.25" x2="1648.38" y2="1458.25" stroke="#262626" stroke-width="1.2"/>
<line x1="1648.38" y1="873.25" x2="1648.38" y2="881.25" stroke="#262626" stroke-width="1.2"/>
<line x1="1732.10" y1="1466.25" x2="1732.10" y2="1458.25" stroke="#262626" stroke-width="1.2"/>
<line x1="1732.10" y1="873.25" x2="1732.10" y2="881.25" stroke="#262626" stroke-width="1.2"/>
<line x1="1815.82" y1="1466.25" x2="1815.82" y2="1458.25" stroke="#262626" stroke-width="1.2"/>
<line x1="1815.82" y1="873.25" x2="1815.82" y2="881.25" stroke="#262626" stroke-width="1.2"/>
<line x1="1899.55" y1="1466.25" x2="1899.55" y2="1458.25" stroke="#262626" stroke-width="1.2"/>
<line x1="1899.55" y1="873.25" x2="1899.55" y2="881.25" stroke="#262626" stroke-width="1.2"/>
<line x1="1983.28" y1="1466.25" x2="1983.28" y2="1458.25" stroke="#262626" stroke-width="1.2"/>
<line x1="1983.28" y1="873.25" x2="1983.28" y2="881.25" stroke="#262626" stroke-width="1.2"/>
<line x1="1229.75" y1="1466.22" x2="1233.95" y2="1466.22" stroke="#262626" stroke-width="1.1"/>
<line x1="1983.25" y1="1466.22" x2="1979.05" y2="1466.22" stroke="#262626" stroke-width="1.1"/>
<line x1="1229.75" y1="1451.40" x2="1233.95" y2="1451.40" stroke="#262626" stroke-width="1.1"/>
<line x1="1983.25" y1="1451.40" x2="1979.05" y2="1451.40" stroke="#262626" stroke-width="1.1"/>
<line x1="1229.75" y1="1436.57" x2="1233.95" y2="1436.57" stroke="#262626" stroke-width="1.1"/>
<line x1="1983.25" y1="1436.57" x2="1979.05" y2="1436.57" stroke="#262626" stroke-width="1.1"/>
<line x1="1229.75" y1="1421.75" x2="1233.95" y2="1421.75" stroke="#262626" stroke-width="1.1"/>
<line x1="1983.25" y1="1421.75" x2="1979.05" y2="1421.75" stroke="#262626" stroke-width="1.1"/>
<line x1="1229.75" y1="1406.92" x2="1233.95" y2="1406.92" stroke="#262626" stroke-width="1.1"/>
<line x1="1983.25" y1="1406.92" x2="1979.05" y2="1406.92" stroke="#262626" stroke-width="1.1"/>
<line x1="1229.75" y1="1392.10" x2="1233.95" y2="1392.10" stroke="#262626" stroke-width="1.1"/>
<line x1="1983.25" y1="1392.10" x2="1979.05" y2="1392.10" stroke="#262626" stroke-width="1.1"/>
<line x1="1229.75" y1="1377.27" x2="1233.95" y2="1377.27" stroke="#262626" stroke-width="1.1"/>
<line x1="1983.25" y1="1377.27" x2="1979.05" y2="1377.27" stroke="#262626" stroke-width="1.1"/>
<line x1="1229.75" y1="1362.45" x2="1233.95" y2="1362.45" stroke="#262626" stroke-width="1.1"/>
<line x1="1983.25" y1="1362.45" x2="1979.05" y2="1362.45" stroke="#262626" stroke-width="1.1"/>
<line x1="1229.75" y1="1347.62" x2="1233.95" y2="1347.62" stroke="#262626" stroke-width="1.1"/>
<line x1="1983.25" y1="1347.62" x2="1979.05" y2="1347.62" stroke="#262626" stroke-width="1.1"/>
<line x1="1229.75" y1="1332.80" x2="1233.95" y2="1332.80" stroke="#262626" stroke-width="1.1"/>
<line x1="1983.25" y1="1332.80" x2="1979.05" y2="1332.80" stroke="#262626" stroke-width="1.1"/>
<line x1="1229.75" y1="1317.97" x2="1233.95" y2="1317.97" stroke="#262626" stroke-width="1.1"/>
<line x1="1983.25" y1="1317.97" x2="1979.05" y2="1317.97" stroke="#262626" stroke-width="1.1"/>
<line x1="1229.75" y1="1303.15" x2="1233.95" y2="1303.15" stroke="#262626" stroke-width="1.1"/>
<line x1="1983.25" y1="1303.15" x2="1979.05" y2="1303.15" stroke="#262626" stroke-width="1.1"/>
<line x1="1229.75" y1="1288.32" x2="1233.95" y2="1288.32" stroke="#262626" stroke-width="1.1"/>
<line x1="1983.25" y1="1288.32" x2="1979.05" y2="1288.32" stroke="#262626" stroke-width="1.1"/>
<line x1="1229.75" y1="1273.50" x2="1233.95" y2="1273.50" stroke="#262626" stroke-width="1.1"/>
<line x1="1983.25" y1="1273.50" x2="1979.05" y2="1273.50" stroke="#262626" stroke-width="1.1"/>
<line x1="1229.75" y1="1258.67" x2="1233.95" y2="1258.67" stroke="#262626" stroke-width="1.1"/>
<line x1="1983.25" y1="1258.67" x2="1979.05" y2="1258.67" stroke="#262626" stroke-width="1.1"/>
<line x1="1229.75" y1="1243.85" x2="1233.95" y2="1243.85" stroke="#262626" stroke-width="1.1"/>
<line x1="1983.25" y1="1243.85" x2="1979.05" y2="1243.85" stroke="#262626" stroke-width="1.1"/>
<line x1="1229.75" y1="1229.02" x2="1233.95" y2="1229.02" stroke="#262626" stroke-width="1.1"/>
<line x1="1983.25" y1="1229.02" x2="1979.05" y2="1229.02" stroke="#262626" stroke-width="1.1"/>
<line x1="1229.75" y1="1214.20" x2="1233.95" y2="1214.20" stroke="#262626" stroke-width="1.1"/>
<line x1="1983.25" y1="1214.20" x2="1979.05" y2="1214.20" stroke="#262626" stroke-width="1.1"/>
<line x1="1229.75" y1="1199.38" x2="1233.95" y2="1199.38" stroke="#262626" stroke-width="1.1"/>
<line x1="1983.25" y1="1199.38" x2="1979.05" y2="1199.38" stroke="#262626" stroke-width="1.1"/>
<line x1="1229.75" y1="1184.55" x2="1233.95" y2="1184.55" stroke="#262626" stroke-width="1.1"/>
<line x1="1983.25" y1="1184.55" x2="1979.05" y2="1184.55" stroke="#262626" stroke-width="1.1"/>
<line x1="1229.75" y1="1169.72" x2="1233.95" y2="1169.72" stroke="#262626" stroke-width="1.1"/>
<line x1="1983.25" y1="1169.72" x2="1979.05" y2="1169.72" stroke="#262626" stroke-width="1.1"/>
<line x1="1229.75" y1="1154.90" x2="1233.95" y2="1154.90" stroke="#262626" stroke-width="1.1"/>
<line x1="1983.25" y1="1154.90" x2="1979.05" y2="1154.90" stroke="#262626" stroke-width="1.1"/>
<line x1="1229.75" y1="1140.07" x2="1233.95" y2="1140.07" stroke="#262626" stroke-width="1.1"/>
<line x1="1983.25" y1="1140.07" x2="1979.05" y2="1140.07" stroke="#262626" stroke-width="1.1"/>
<line x1="1229.75" y1="1125.25" x2="1233.95" y2="1125.25" stroke="#262626" stroke-width="1.1"/>
<line x1="1983.25" y1="1125.25" x2="1979.05" y2="1125.25" stroke="#262626" stroke-width="1.1"/>
<line x1="1229.75" y1="1110.42" x2="1233.95" y2="1110.42" stroke="#262626" stroke-width="1.1"/>
<line x1="1983.25" y1="1110.42" x2="1979.05" y2="1110.42" stroke="#262626" stroke-width="1.1"/>
<line x1="1229.75" y1="1095.60" x2="1233.95" y2="1095.60" stroke="#262626" stroke-width="1.1"/>
<line x1="1983.25" y1="1095.60" x2="1979.05" y2="1095.60" stroke="#262626" stroke-width="1.1"/>
<line x1="1229.75" y1="1080.77" x2="1233.95" y2="1080.77" stroke="#262626" stroke-width="1.1"/>
<line x1="1983.25" y1="1080.77" x2="1979.05" y2="1080.77" stroke="#262626" stroke-width="1.1"/>
<line x1="1229.75" y1="1065.95" x2="1233.95" y2="1065.95" stroke="#262626" stroke-width="1.1"/>
<line x1="1983.25" y1="1065.95" x2="1979.05" y2="1065.95" stroke="#262626" stroke-width="1.1"/>
<line x1="1229.75" y1="1051.12" x2="1233.95" y2="1051.12" stroke="#262626" stroke-width="1.1"/>
<line x1="1983.25" y1="1051.12" x2="1979.05" y2="1051.12" stroke="#262626" stroke-width="1.1"/>
<line x1="1229.75" y1="1036.30" x2="1233.95" y2="1036.30" stroke="#262626" stroke-width="1.1"/>
<line x1="1983.25" y1="1036.30" x2="1979.05" y2="1036.30" stroke="#262626" stroke-width="1.1"/>
<line x1="1229.75" y1="1021.47" x2="1233.95" y2="1021.47" stroke="#262626" stroke-width="1.1"/>
<line x1="1983.25" y1="1021.47" x2="1979.05" y2="1021.47" stroke="#262626" stroke-width="1.1"/>
<line x1="1229.75" y1="1006.65" x2="1233.95" y2="1006.65" stroke="#262626" stroke-width="1.1"/>
<line x1="1983.25" y1="1006.65" x2="1979.05" y2="1006.65" stroke="#262626" stroke-width="1.1"/>
<line x1="1229.75" y1="991.82" x2="1233.95" y2="991.82" stroke="#262626" stroke-width="1.1"/>
<line x1="1983.25" y1="991.82" x2="1979.05" y2="991.82" stroke="#262626" stroke-width="1.1"/>
<line x1="1229.75" y1="977.00" x2="1233.95" y2="977.00" stroke="#262626" stroke-width="1.1"/>
<line x1="1983.25" y1="977.00" x2="1979.05" y2="977.00" stroke="#262626" stroke-width="1.1"/>
<line x1="1229.75" y1="962.17" x2="1233.95" y2="962.17" stroke="#262626" stroke-width="1.1"/>
<line x1="1983.25" y1="962.17" x2="1979.05" y2="962.17" stroke="#262626" stroke-width="1.1"/>
<line x1="1229.75" y1="947.35" x2="1233.95" y2="947.35" stroke="#262626" stroke-width="1.1"/>
<line x1="1983.25" y1="947.35" x2="1979.05" y2="947.35" stroke="#262626" stroke-width="1.1"/>
<line x1="1229.75" y1="932.52" x2="1233.95" y2="932.52" stroke="#262626" stroke-width="1.1"/>
<line x1="1983.25" y1="932.52" x2="1979.05" y2="932.52" stroke="#262626" stroke-width="1.1"/>
<line x1="1229.75" y1="917.70" x2="1233.95" y2="917.70" stroke="#262626" stroke-width="1.1"/>
<line x1="1983.25" y1="917.70" x2="1979.05" y2="917.70" stroke="#262626" stroke-width="1.1"/>
<line x1="1229.75" y1="902.87" x2="1233.95" y2="902.87" stroke="#262626" stroke-width="1.1"/>
<line x1="1983.25" y1="902.87" x2="1979.05" y2="902.87" stroke="#262626" stroke-width="1.1"/>
<line x1="1229.75" y1="888.05" x2="1233.95" y2="888.05" stroke="#262626" stroke-width="1.1"/>
<line x1="1983.25" y1="888.05" x2="1979.05" y2="888.05" stroke="#262626" stroke-width="1.1"/>
<line x1="1229.75" y1="873.22" x2="1233.95" y2="873.22" stroke="#262626" stroke-width="1.1"/>
<line x1="1983.25" y1="873.22" x2="1979.05" y2="873.22" stroke="#262626" stroke-width="1.1"/>
<line x1="1229.75" y1="1466.22" x2="1237.75" y2="1466.22" stroke="#262626" stroke-width="1.2"/>
<line x1="1983.25" y1="1466.22" x2="1975.25" y2="1466.22" stroke="#262626" stroke-width="1.2"/>
<line x1="1229.75" y1="1392.10" x2="1237.75" y2="1392.10" stroke="#262626" stroke-width="1.2"/>
<line x1="1983.25" y1="1392.10" x2="1975.25" y2="1392.10" stroke="#262626" stroke-width="1.2"/>
<line x1="1229.75" y1="1317.97" x2="1237.75" y2="1317.97" stroke="#262626" stroke-width="1.2"/>
<line x1="1983.25" y1="1317.97" x2="1975.25" y2="1317.97" stroke="#262626" stroke-width="1.2"/>
<line x1="1229.75" y1="1243.85" x2="1237.75" y2="1243.85" stroke="#262626" stroke-width="1.2"/>
<line x1="1983.25" y1="1243.85" x2="1975.25" y2="1243.85" stroke="#262626" stroke-width="1.2"/>
<line x1="1229.75" y1="1169.72" x2="1237.75" y2="1169.72" stroke="#262626" stroke-width="1.2"/>
<line x1="1983.25" y1="1169.72" x2="1975.25" y2="1169.72" stroke="#262626" stroke-width="1.2"/>
<line x1="1229.75" y1="1095.60" x2="1237.75" y2="1095.60" stroke="#262626" stroke-width="1.2"/>
<line x1="1983.25" y1="1095.60" x2="1975.25" y2="1095.60" stroke="#262626" stroke-width="1.2"/>
<line x1="1229.75" y1="1021.47" x2="1237.75" y2="1021.47" stroke="#262626" stroke-width="1.2"/>
<line x1="1983.25" y1="1021.47" x2="1975.25" y2="1021.47" stroke="#262626" stroke-width="1.2"/>
<line x1="1229.75" y1="947.35" x2="1237.75" y2="947.35" stroke="#262626" stroke-width="1.2"/>
<line x1="1983.25" y1="947.35" x2="1975.25" y2="947.35" stroke="#262626" stroke-width="1.2"/>
<line x1="1229.75" y1="873.22" x2="1237.75" y2="873.22" stroke="#262626" stroke-width="1.2"/>
<line x1="1983.25" y1="873.22" x2="1975.25" y2="873.22" stroke="#262626" stroke-width="1.2"/>
<text x="1219.00" y="1475.52" font-size="27" font-family='"Liberation Serif", "DejaVu Serif", serif' font-weight="bold" text-anchor="end" fill="#262626" stroke="#262626" stroke-width="0.5">-25</text>
<text x="1219.00" y="1401.40" font-size="27" font-family='"Liberation Serif", "DejaVu Serif", serif' font-weight="bold" text-anchor="end" fill="#262626" stroke="#262626" stroke-width="0.5">-20</text>
<text x="1219.00" y="1327.27" font-size="27" font-family='"Liberation Serif", "DejaVu Serif", serif' font-weight="bold" text-anchor="end" fill="#262626" stroke="#262626" stroke-width="0.5">-15</text>
<text x="1219.00" y="1253.15" font-size="27" font-family='"Liberation Serif", "DejaVu Serif", serif' font-weight="bold" text-anchor="end" fill="#262626" stroke="#262626" stroke-width="0.5">-10</text>
<text x="1219.00" y="1179.02" font-size="27" font-family='"Liberation Serif", "DejaVu Serif", serif' font-weight="bold" text-anchor="end" fill="#262626" stroke="#262626" stroke-width="0.5">-5</text>
<text x="1219.00" y="1104.90" font-size="27" font-family='"Liberation Serif", "DejaVu Serif", serif' font-weight="bold" text-anchor="end" fill="#262626" stroke="#262626" stroke-width="0.5">0</text>
<text x="1219.00" y="1030.77" font-size="27" font-family='"Liberation Serif", "DejaVu Serif", serif' font-weight="bold" text-anchor="end" fill="#262626" stroke="#262626" stroke-width="0.5">5</text>
<text x="1219.00" y="956.65" font-size="27" font-family='"Liberation Serif", "DejaVu Serif", serif' font-weight="bold" text-anchor="end" fill="#262626" stroke="#262626" stroke-width="0.5">10</text>
<text x="1219.00" y="882.52" font-size="27" font-family='"Liberation Serif", "DejaVu Serif", serif' font-weight="bold" text-anchor="end" fill="#262626" stroke="#262626" stroke-width="0.5">15</text>
<text x="1229.75" y="1502.80" font-size="27" font-family='"Liberation Serif", "DejaVu Serif", serif' font-weight="bold" text-anchor="middle" fill="#262626" stroke="#262626" stroke-width="0.5">0</text>
<text x="1313.47" y="1502.80" font-size="27" font-family='"Liberation Serif", "DejaVu Serif", serif' font-weight="bold" text-anchor="middle" fill="#262626" stroke="#262626" stroke-width="0.5">0.5</text>
<text x="1397.20" y="1502.80" font-size="27" font-family='"Liberation Serif", "DejaVu Serif", serif' font-weight="bold" text-anchor="middle" fill="#262626" stroke="#262626" stroke-width="0.5">1</text>
<text x="1480.92" y="1502.80" font-size="27" font-family='"Liberation Serif", "DejaVu Serif", serif' font-weight="bold" text-anchor="middle" fill="#262626" stroke="#262626" stroke-width="0.5">1.5</text>
<text x="1564.65" y="1502.80" font-size="27" font-family='"Liberation Serif", "DejaVu Serif", serif' font-weight="bold" text-anchor="middle" fill="#262626" stroke="#262626" stroke-width="0.5">2</text>
<text x="1648.38" y="1502.80" font-size="27" font-family='"Liberation Serif", "DejaVu Serif", serif' font-weight="bold" text-anchor="middle" fill="#262626" stroke="#262626" stroke-width="0.5">2.5</text>
<text x="1732.10" y="1502.80" font-size="27" font-family='"Liberation Serif", "DejaVu Serif", serif' font-weight="bold" text-anchor="middle" fill="#262626" stroke="#262626" stroke-width="0.5">3</text>
<text x="1815.82" y="1502.80" font-size="27" font-family='"Liberation Serif", "DejaVu Serif", serif' font-weight="bold" text-anchor="middle" fill="#262626" stroke="#262626" stroke-width="0.5">3.5</text>
<text x="1899.55" y="1502.80" font-size="27" font-family='"Liberation Serif", "DejaVu Serif", serif' font-weight="bold" text-anchor="middle" fill="#262626" stroke="#262626" stroke-width="0.5">4</text>
<text x="1983.28" y="1502.80" font-size="27" font-family='"Liberation Serif", "DejaVu Serif", serif' font-weight="bold" text-anchor="middle" fill="#262626" stroke="#262626" stroke-width="0.5">4.5</text>
<rect x="1302.25" y="993.50" width="75.00" height="58.00" fill="none" stroke="#000" stroke-width="1.9"/>
<line x1="1377.25" y1="1006.25" x2="1414.00" y2="966.70" stroke="#000" stroke-width="2"/>
<rect x="1414.75" y="903.75" width="166.00" height="102.25" fill="none" stroke="#000" stroke-width="2.2"/>
<line x1="1414.50" y1="933.00" x2="1580.75" y2="941.00" stroke="#ff0000" stroke-width="2.1"/>
<line x1="1414.50" y1="948.30" x2="1580.75" y2="956.30" stroke="#000" stroke-width="2.1"/>
<line x1="1414.50" y1="957.50" x2="1580.75" y2="965.00" stroke="#00ff00" stroke-width="2.1"/>
<text x="1409.50" y="911.50" font-size="17.5" font-family='"Liberation Sans", "DejaVu Sans", sans-serif' text-anchor="end">9</text>
<text x="1409.50" y="1014.00" font-size="17.5" font-family='"Liberation Sans", "DejaVu Sans", sans-serif' text-anchor="end">7</text>
<text x="1414.00" y="1029.50" font-size="17.5" font-family='"Liberation Sans", "DejaVu Sans", sans-serif' text-anchor="middle">0.5</text>
<text x="1580.00" y="1029.50" font-size="17.5" font-family='"Liberation Sans", "DejaVu Sans", sans-serif' text-anchor="middle">0.51</text>
<line x1="1493.75" y1="1056.25" x2="1405.17" y2="1119.07" stroke="#000" stroke-width="1.3"/>
<polygon points="1390.60,1129.40 1404.56,1108.46 1405.17,1119.07 1414.98,1123.15" fill="#000"/>
<line x1="1482.50" y1="1263.75" x2="1424.12" y2="1195.57" stroke="#000" stroke-width="1.3" stroke-dasharray="13 9.3"/>
<polygon points="1412.50,1182.00 1434.62,1194.00 1424.12,1195.57 1420.95,1205.70" fill="#000"/>
<text x="1485" y="1286" font-size="26" font-family='"Liberation Serif", "DejaVu Serif", serif' font-style="italic" font-weight="bold" stroke="#000" stroke-width="0.35" textLength="212.5" lengthAdjust="spacing">ϕ= 0.02, 0.03, 0.04</text>
<line x1="1714.50" y1="915.00" x2="1774.00" y2="915.00" stroke="#000" stroke-width="1.5"/>
<line x1="1715.20" y1="954.30" x2="1774.00" y2="954.30" stroke="#000" stroke-width="1.5" stroke-dasharray="14 8.5"/>
<text x="1788.50" y="925.00" font-size="27.5" font-family='"Liberation Serif", "DejaVu Serif", serif' textLength="150.50" lengthAdjust="spacing" stroke="#000" stroke-width="0.25">First Solution</text>
<text x="1787.00" y="965.75" font-size="27.5" font-family='"Liberation Serif", "DejaVu Serif", serif' textLength="181.00" lengthAdjust="spacing" stroke="#000" stroke-width="0.25">Second Solution</text>
<text x="1363.50" y="1430.00" font-size="27.5" font-family='"Liberation Serif", "DejaVu Serif", serif' textLength="487.00" lengthAdjust="spacing" stroke="#000" stroke-width="0.25">Pr=6.2, A=0.8, Ec=1, λ = - 3.3, m=0.5, S=2</text>
<text x="1168.5" y="1169" font-size="29" font-family='"Liberation Serif", "DejaVu Serif", serif' font-style="italic" font-weight="bold" text-anchor="middle" fill="#262626" stroke="#262626" stroke-width="0.4" transform="rotate(-90 1168.5 1169)" textLength="78" lengthAdjust="spacing">θ ( η )</text>
<text x="1608.00" y="1540.20" font-size="30" font-family='"Liberation Serif", "DejaVu Serif", serif' font-weight="bold" font-style="italic" text-anchor="middle" fill="#262626" stroke="#262626" stroke-width="0.4">η</text>
<text x="1590.50" y="1628.50" font-size="55" font-family='"Liberation Serif", "DejaVu Serif", serif' font-weight="bold" text-anchor="middle">(d)</text>
</svg>
</body>
</html>
